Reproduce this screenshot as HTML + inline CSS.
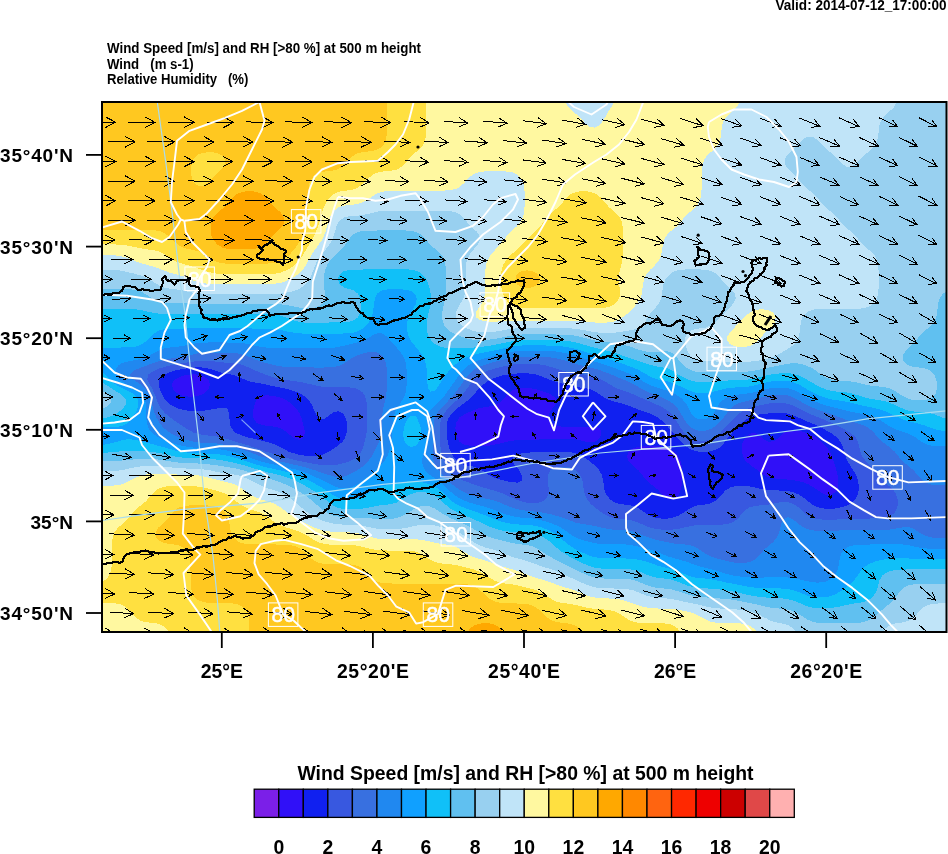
<!DOCTYPE html><html><head><meta charset="utf-8"><style>html,body{margin:0;padding:0;background:#fff;width:948px;height:854px;overflow:hidden}svg{display:block}text{font-family:"Liberation Sans",Arial,Helvetica,sans-serif;fill:#000}</style></head><body>
<svg width="948" height="854" viewBox="0 0 948 854">
<defs><clipPath id="mc"><rect x="102" y="102" width="844" height="530"/></clipPath></defs>
<g clip-path="url(#mc)" shape-rendering="crispEdges">
<path fill="#3010F8" fill-rule="evenodd" d="M187.9 374.8L188.7 374.6L193.5 374.4L198.4 374.6L199.2 374.8L203.2 376.2L208 379.4L208.3 379.5L210 384.3L208.6 389.1L208 389.9L203.7 393.9L203.2 394.2L198.4 395.9L193.5 396.6L188.7 396.6L183.9 396L179 394.4L178 393.9L174.2 390.6L173.1 389.1L172 384.3L174.2 380.1L174.6 379.5L179 377.3L183.9 375.6ZM515.9 389.1L517.4 388.7L522.3 388.1L527.1 388.1L531.9 388.5L534.9 389.1L536.8 389.5L541.6 391L546.4 392.6L550.1 393.9L551.3 394.7L556.1 398.5L556.3 398.7L556.2 403.5L556.1 403.6L552.6 408.2L551.3 410.1L549.4 413L548.9 417.8L551.3 422.3L551.5 422.6L556.1 425.3L560.9 426.5L565.8 426.9L570.6 427L575.5 427L580.3 427L585.1 426.9L590 426.9L594.8 427L598.2 427.4L599.6 427.9L601.5 432.2L600.2 436.9L599.6 437.8L595.2 441.7L594.8 441.9L590 442.3L585.6 441.7L585.1 441.6L580.3 440.2L575.5 439.3L570.6 438.8L565.8 438.6L560.9 438.5L556.1 438.6L551.3 438.8L546.4 439.1L541.6 439.4L536.8 439.6L531.9 439.8L527.1 439.8L522.3 439.9L517.4 440.2L512.6 440.7L507.8 441.6L507.3 441.7L502.9 442.7L498.1 443.9L493.3 445L488.4 445.7L483.6 445.9L478.8 445.9L473.9 445.8L469.1 445.6L464.3 444.8L459.4 441.8L459.3 441.7L456.9 436.9L455.7 432.2L455.4 427.4L456.4 422.6L459.1 417.8L459.4 417.5L464.3 414.4L467 413L469.1 412.1L473.9 410.2L478.8 408.4L479.6 408.2L483.6 407.4L488.4 406.7L493.3 405.7L498.1 403.7L498.5 403.5L502.9 399.6L503.7 398.7L507.8 393.9L507.8 393.9L512.6 390.4ZM257.7 398.7L261.2 396.2L266 395.3L270.9 395.6L275.7 396.4L280.6 397.7L283.3 398.7L285.4 399.8L290.2 402.8L291.2 403.5L295.1 407.1L296.1 408.2L299.4 413L299.9 414L301.3 417.8L302.7 422.6L304 427.4L304.7 431.5L304.8 432.2L304.7 433.4L304 436.9L299.9 439.9L295.1 438.7L292.5 436.9L290.2 435.2L286.7 432.2L285.4 431.1L280.6 428.3L277.2 427.4L275.7 426.9L270.9 426.2L266 425.7L261.2 424.7L256.4 422.6L256.4 422.6L253.2 417.8L252.7 413L253.6 408.2L255 403.5L256.4 400.5ZM784.5 432.2L788.2 430.3L793 429.8L797.8 430.4L802.7 431.6L804.6 432.2L807.5 433.3L812.3 435.5L815 436.9L817.2 438.6L821.3 441.7L822 442.4L826.2 446.5L826.8 447.2L829.6 451.3L831.7 455L832.1 456.1L833.6 460.9L835 465.6L836.4 470.4L836.5 470.9L837.6 475.2L838.3 480L838.3 484.8L837.3 489.6L836.5 490.8L832.6 494.3L831.7 494.8L826.8 495L824.7 494.3L822 493.2L817.2 489.9L816.7 489.6L812.3 486.5L809.1 484.8L807.5 484L802.7 482.1L797.8 480.9L793 480.1L791.6 480L788.2 479.6L783.3 479.3L778.5 479L773.7 478.4L768.8 477.1L764.4 475.2L764 474.9L759.2 471.4L757.7 470.4L754.3 467.8L751.1 465.6L749.5 464.3L745.6 460.9L744.7 459.4L742.9 456.1L741.8 451.3L741.8 446.5L742.9 441.7L744.7 438.3L745.8 436.9L749.5 433.9L754.3 432.8L759.2 435.3L761.1 436.9L764 439.5L768.7 441.7L768.8 441.8L769.4 441.7L773.7 441.3L778.5 437.9L779.4 436.9L783.3 433ZM640.6 446.5L643.1 446.3L648 446.2L652.8 446.1L657.6 446.2L662.4 446.5L662.5 446.5L667.3 447.7L672.1 450.3L673.4 451.3L677 454.9L678 456.1L680.6 460.9L681.7 465.6L681.8 468.3L681.9 470.4L682 475.2L681.9 480L681.8 482L681.7 484.8L680.9 489.6L678.7 494.3L677 496.5L673.1 499.1L672.1 499.6L667.6 499.1L667.3 499.1L662.5 494.9L662 494.3L657.7 489.6L657.6 489.5L652.8 485.6L651.8 484.8L648 481.6L646.3 480L643.1 476.2L642.4 475.2L638.5 470.4L638.3 470.2L633.5 466L633.1 465.6L628.6 461L628.5 460.9L627.1 456.1L628.6 451.6L628.8 451.3L633.5 448.1L638.3 446.7Z"/>
<path fill="#1020F0" fill-rule="evenodd" d="M177.4 370L179 369.6L183.9 368.8L188.7 368.1L193.5 367.6L198.4 367.3L203.2 367.6L208 368.4L212.9 369.7L213.8 370L217.7 371.5L222.5 373L227.4 374L232.2 374.7L232.5 374.8L237 376.3L241.9 378.3L244.9 379.5L246.7 380.5L251.5 381.9L256.4 382.7L261.2 383.6L264.7 384.3L266 384.6L270.9 385.7L275.7 386.7L280.6 387.6L285.4 388.7L287.2 389.1L290.2 389.9L295.1 391.5L299.9 393.4L300.8 393.9L304.7 396.4L307.5 398.7L309.6 401.4L311.1 403.5L313.3 408.2L314.4 411.2L315.5 413L318.7 417.8L319.2 418.5L324.1 419L325.9 417.8L328.9 415.6L332.3 413L333.7 412.1L338.6 411.3L342.3 413L343.4 413.8L345.6 417.8L346.8 422.6L347.1 427.4L346.7 432.2L345.4 436.9L343.4 440.6L342.5 441.7L338.6 445.1L336.7 446.5L333.7 448.4L329.7 451.3L328.9 451.7L324.1 454.1L319.2 455.7L316.6 456.1L314.4 456.2L309.6 456.2L308.5 456.1L304.7 455.7L299.9 454.9L295.1 453.7L290.2 452.1L287.9 451.3L285.4 449.8L280.6 447.3L278.8 446.5L275.7 444.8L270.9 443L266 441.7L265.9 441.7L261.2 440.5L256.4 439.4L251.5 438.2L246.7 437.2L245.8 436.9L241.9 435.5L237 433.4L234.8 432.2L232.2 429L230.9 427.4L229.8 422.6L229.4 417.8L229 413L227.4 408.7L225.8 408.2L222.5 407.9L219.7 408.2L217.7 408.4L212.9 409.2L208 410L203.2 410.7L198.4 411L193.5 411L188.7 410.8L183.9 410.1L179 408.8L177.8 408.2L174.2 406.8L169.4 404.1L168.6 403.5L164.5 399.4L164.1 398.7L161.8 393.9L159.9 389.1L159.7 388.3L158.8 384.3L159.2 379.5L159.7 378.9L164 374.8L164.5 374.5L169.4 372.4L174.2 370.8ZM188.7 374.6L187.9 374.8L183.9 375.6L179 377.3L174.6 379.5L174.2 380.1L172 384.3L173.1 389.1L174.2 390.6L178 393.9L179 394.4L183.9 396L188.7 396.6L193.5 396.6L198.4 395.9L203.2 394.2L203.7 393.9L208 389.9L208.6 389.1L210 384.3L208.3 379.5L208 379.4L203.2 376.2L199.2 374.8L198.4 374.6L193.5 374.4ZM506 374.8L507.8 374.5L512.6 373.9L517.4 373.5L522.3 373.3L527.1 373.3L531.9 373.8L536.8 374.7L536.9 374.8L541.6 376.4L546.4 378.3L549.5 379.5L551.3 380.2L556.1 381.8L560.9 383.1L565.5 384.3L565.8 384.4L570.6 385.7L575.5 386.9L580.3 387.6L585.1 388.2L590 389.1L590 389.1L594.8 391.3L598.7 393.9L599.6 394.5L604.5 397.8L606.2 398.7L609.3 400L614.1 401.5L619 402.7L622 403.5L623.8 404L628.6 405.6L633.5 407.5L635.3 408.2L638.3 409.6L643.1 411.2L648 412.7L648.9 413L652.8 414.7L657.6 417.3L658.4 417.8L662.5 421.2L664 422.6L667.3 425.9L668.4 427.4L672.1 431.5L672.6 432.2L676.6 436.9L677 437.4L680.8 441.7L681.8 442.7L686.2 446.5L686.6 446.9L691.5 449.8L696.3 451.3L696.4 451.3L701.1 452L706 451.9L710.3 451.3L710.8 451.2L715.6 449.9L720.5 447L721 446.5L725.2 441.7L725.3 441.6L728.6 436.9L730.2 435.2L732.7 432.2L735 429.8L737.3 427.4L739.8 424.9L742.3 422.6L744.7 420.5L748.5 417.8L749.5 417.3L754.3 415.5L759.2 414.5L764 413.9L768.8 413.4L773.4 413L773.7 413L778.5 412.8L783.3 413L783.7 413L788.2 413.8L793 415.3L797.8 417.3L799 417.8L802.7 419.4L807.5 421.5L810.2 422.6L812.3 423.5L817.2 425.7L820.7 427.4L822 428L826.8 430.7L829.6 432.2L831.7 433.6L836.4 436.9L836.5 437.1L840.5 441.7L841.3 443.5L842.7 446.5L844.1 451.3L845.5 456.1L846.2 457.8L847.5 460.9L850.2 465.6L851 467.1L853.4 470.4L855.8 474.6L856.2 475.2L858 480L858.7 484.8L858.7 489.6L857.8 494.3L855.8 498.5L855.5 499.1L851 503.4L850.2 503.9L846.2 505.8L841.3 507.3L836.5 508.4L833.5 508.7L831.7 508.9L826.8 508.8L825.5 508.7L822 508.2L817.2 506.9L812.3 504.5L811.5 503.9L807.5 500.9L805.4 499.1L802.7 497.1L798.2 494.3L797.8 494.1L793 492.2L788.2 491.1L783.3 490.6L778.5 490.5L773.7 490.4L768.8 490.1L764.9 489.6L764 489.4L759.2 488.5L754.3 487.4L749.5 486.3L744.7 485.7L739.8 485.6L735 486.1L730.2 487.5L726.7 489.6L725.3 490.6L721.9 494.3L720.5 496.1L717.7 499.1L715.6 500.8L710.8 503.3L708.2 503.9L706 504.4L701.1 504.9L696.3 505.7L691.5 507.6L689.8 508.7L686.6 510.5L682.3 513.5L681.8 513.8L677 516.3L672.1 517.9L669.7 518.3L667.3 518.6L662.5 518.6L658.4 518.3L657.6 518.2L652.8 516.8L648 514.5L646.1 513.5L643.1 511.3L638.9 508.7L638.3 508.3L633.5 506.1L628.6 505L623.8 504.5L619.5 503.9L619 503.8L614.1 502L609.9 499.1L609.3 498.5L606.2 494.3L604.5 489.9L604.4 489.6L603.7 484.8L603.1 480L601.9 475.2L599.6 470.8L599.4 470.4L595.1 465.6L594.8 465.4L590 461.5L589.2 460.9L585.1 458L582.2 456.1L580.3 455.1L575.5 453.2L570.6 452.1L565.8 451.6L560.9 451.5L556.1 451.5L551.3 451.6L546.4 451.7L541.6 451.9L536.8 452.1L531.9 452.4L527.1 452.7L522.3 453.3L517.4 454.5L513.9 456.1L512.6 459.1L512.1 460.9L512.6 461.8L515.1 465.6L517.4 468.2L519.3 470.4L521.8 475.2L522.3 479.5L522.3 480L522.3 480.2L517.4 482.7L512.6 482.2L507.8 481.4L502.9 480.3L501.5 480L498.1 478.9L493.3 477.1L489.2 475.2L488.4 474.7L483.6 471.3L482.1 470.4L478.8 468.4L473.9 466.7L469.1 465.8L468.1 465.6L464.3 465L459.4 463L457 460.9L454.6 458.6L453 456.1L450.4 451.3L449.8 449.7L448.8 446.5L447.7 441.7L447 436.9L446.6 432.2L446.6 427.4L447.1 422.6L448.7 417.8L449.8 416.1L452.1 413L454.6 410.5L457.4 408.2L459.4 406.6L463.9 403.5L464.3 403.2L469.1 399.2L469.7 398.7L473.9 394.2L474.3 393.9L478.6 389.1L478.8 388.9L483.4 384.3L483.6 384.2L488.4 380.8L490.5 379.5L493.3 378.4L498.1 376.7L502.9 375.4ZM517.4 388.7L515.9 389.1L512.6 390.4L507.8 393.9L507.8 393.9L503.7 398.7L502.9 399.6L498.5 403.5L498.1 403.7L493.3 405.7L488.4 406.7L483.6 407.4L479.6 408.2L478.8 408.4L473.9 410.2L469.1 412.1L467 413L464.3 414.4L459.4 417.5L459.1 417.8L456.4 422.6L455.4 427.4L455.7 432.2L456.9 436.9L459.3 441.7L459.4 441.8L464.3 444.8L469.1 445.6L473.9 445.8L478.8 445.9L483.6 445.9L488.4 445.7L493.3 445L498.1 443.9L502.9 442.7L507.3 441.7L507.8 441.6L512.6 440.7L517.4 440.2L522.3 439.9L527.1 439.8L531.9 439.8L536.8 439.6L541.6 439.4L546.4 439.1L551.3 438.8L556.1 438.6L560.9 438.5L565.8 438.6L570.6 438.8L575.5 439.3L580.3 440.2L585.1 441.6L585.6 441.7L590 442.3L594.8 441.9L595.2 441.7L599.6 437.8L600.2 436.9L601.5 432.2L599.6 427.9L598.2 427.4L594.8 427L590 426.9L585.1 426.9L580.3 427L575.5 427L570.6 427L565.8 426.9L560.9 426.5L556.1 425.3L551.5 422.6L551.3 422.3L548.9 417.8L549.4 413L551.3 410.1L552.6 408.2L556.1 403.6L556.2 403.5L556.3 398.7L556.1 398.5L551.3 394.7L550.1 393.9L546.4 392.6L541.6 391L536.8 389.5L534.9 389.1L531.9 388.5L527.1 388.1L522.3 388.1ZM261.2 396.2L257.7 398.7L256.4 400.5L255 403.5L253.6 408.2L252.7 413L253.2 417.8L256.4 422.6L256.4 422.6L261.2 424.7L266 425.7L270.9 426.2L275.7 426.9L277.2 427.4L280.6 428.3L285.4 431.1L286.7 432.2L290.2 435.2L292.5 436.9L295.1 438.7L299.9 439.9L304 436.9L304.7 433.4L304.8 432.2L304.7 431.5L304 427.4L302.7 422.6L301.3 417.8L299.9 414L299.4 413L296.1 408.2L295.1 407.1L291.2 403.5L290.2 402.8L285.4 399.8L283.3 398.7L280.6 397.7L275.7 396.4L270.9 395.6L266 395.3ZM788.2 430.3L784.5 432.2L783.3 433L779.4 436.9L778.5 437.9L773.7 441.3L769.4 441.7L768.8 441.8L768.7 441.7L764 439.5L761.1 436.9L759.2 435.3L754.3 432.8L749.5 433.9L745.8 436.9L744.7 438.3L742.9 441.7L741.8 446.5L741.8 451.3L742.9 456.1L744.7 459.4L745.6 460.9L749.5 464.3L751.1 465.6L754.3 467.8L757.7 470.4L759.2 471.4L764 474.9L764.4 475.2L768.8 477.1L773.7 478.4L778.5 479L783.3 479.3L788.2 479.6L791.6 480L793 480.1L797.8 480.9L802.7 482.1L807.5 484L809.1 484.8L812.3 486.5L816.7 489.6L817.2 489.9L822 493.2L824.7 494.3L826.8 495L831.7 494.8L832.6 494.3L836.5 490.8L837.3 489.6L838.3 484.8L838.3 480L837.6 475.2L836.5 470.9L836.4 470.4L835 465.6L833.6 460.9L832.1 456.1L831.7 455L829.6 451.3L826.8 447.2L826.2 446.5L822 442.4L821.3 441.7L817.2 438.6L815 436.9L812.3 435.5L807.5 433.3L804.6 432.2L802.7 431.6L797.8 430.4L793 429.8ZM643.1 446.3L640.6 446.5L638.3 446.7L633.5 448.1L628.8 451.3L628.6 451.6L627.1 456.1L628.5 460.9L628.6 461L633.1 465.6L633.5 466L638.3 470.2L638.5 470.4L642.4 475.2L643.1 476.2L646.3 480L648 481.6L651.8 484.8L652.8 485.6L657.6 489.5L657.7 489.6L662 494.3L662.5 494.9L667.3 499.1L667.6 499.1L672.1 499.6L673.1 499.1L677 496.5L678.7 494.3L680.9 489.6L681.7 484.8L681.8 482L681.9 480L682 475.2L681.9 470.4L681.8 468.3L681.7 465.6L680.6 460.9L678 456.1L677 454.9L673.4 451.3L672.1 450.3L667.3 447.7L662.5 446.5L662.4 446.5L657.6 446.2L652.8 446.1L648 446.2Z"/>
<path fill="#3858E0" fill-rule="evenodd" d="M172.2 365.2L174.2 364.8L179 363.9L183.9 363.1L188.7 362.3L193.5 361.5L198.4 360.9L203.2 360.7L208 360.8L212.9 361.3L217.7 361.9L222.5 362.4L227.4 362.7L232.2 363L237 363.5L241.9 364.7L243.1 365.2L246.7 366.6L251.5 368.8L254.3 370L256.4 370.9L261.2 372.9L265.9 374.8L266 374.8L270.9 376.4L275.7 377.9L280.6 379.1L283.1 379.5L285.4 379.9L290.2 380.5L295.1 381.2L299.9 381.9L304.7 382.9L309.6 384L311.1 384.3L314.4 385.2L319.2 386.3L324.1 387L328.9 387.3L333.7 387.3L338.6 387.2L343.4 387.2L348.2 387.3L353.1 387.8L357.9 389.1L357.9 389.1L362.7 392.5L363.8 393.9L366 398.7L366.8 403.5L367.1 408.2L367.2 413L367.2 417.8L367.2 422.6L367.1 427.4L366.7 432.2L365.9 436.9L364.7 441.7L363.3 446.5L362.7 448.1L361.3 451.3L358.2 456.1L357.9 456.3L353.1 459.6L350.3 460.9L348.2 461.7L343.4 463.2L338.6 464.4L333.7 465.2L328.9 465.4L324.1 465.2L319.2 464.7L314.4 463.9L309.6 463L304.7 462L299.9 461.2L298.4 460.9L295.1 460.1L290.2 458.9L285.4 457.6L280.6 456.3L279.6 456.1L275.7 454.7L270.9 453.1L266 451.7L264.7 451.3L261.2 450L256.4 448.2L251.6 446.5L251.5 446.5L246.7 444.9L241.9 443.5L237 442.2L235.3 441.7L232.2 440.7L227.4 439.1L222.5 437.7L218.4 436.9L217.7 436.7L212.9 435.9L208 435.5L203.2 434.9L198.4 433.9L193.5 432.5L192.7 432.2L188.7 429.8L184.5 427.4L183.9 427L179 423.8L177.4 422.6L174.2 420.4L170.8 417.8L169.4 416.8L164.9 413L164.5 412.7L160.9 408.2L159.7 406.5L158.3 403.5L156.4 398.7L154.9 394.8L154.5 393.9L152.5 389.1L150 384.7L149.8 384.3L147.2 379.5L148.1 374.8L150 373.4L154.9 370.4L155.7 370L159.7 368.4L164.5 366.9L169.4 365.7ZM509.3 365.2L512.6 364.6L517.4 364L522.3 363.7L527.1 363.7L531.9 363.8L536.8 364.2L541.6 364.7L544.2 365.2L546.4 365.7L551.3 367.1L556.1 368.6L560.6 370L560.9 370.1L565.8 371.4L570.6 372.4L575.5 373.3L580.3 374L585.1 374.7L585.7 374.8L590 375.6L594.8 376.9L599.6 378.7L601.5 379.5L604.5 381.3L609.3 384.1L609.7 384.3L614.1 387L618.7 389.1L619 389.2L623.8 390.9L628.6 392.4L632.5 393.9L633.5 394.3L638.3 396.5L643.1 398.7L643.1 398.7L648 400.9L652.8 402.8L654.3 403.5L657.6 405L662.5 407.3L664 408.2L667.3 410.4L670.4 413L672.1 414.8L674.3 417.8L677 421.8L677.4 422.6L680.4 427.4L681.8 429.4L684 432.2L686.6 435.1L689.1 436.9L691.5 438.6L696.3 440.3L701.1 440.9L706 440.6L710.8 439.4L715.2 436.9L715.6 436.7L720.5 432.5L720.8 432.2L725.3 427.6L725.6 427.4L730.2 422.6L730.2 422.6L734.7 417.8L735 417.5L739.8 413L739.8 413L744.7 410L748.8 408.2L749.5 408L754.3 406.6L759.2 405.5L764 404.4L768.8 403.5L768.9 403.5L773.7 402.9L778.5 402.6L783.3 402.9L786.5 403.5L788.2 403.8L793 405.6L797.8 408L798.3 408.2L802.7 410.5L807.5 412.8L808.1 413L812.3 414.9L817.2 416.8L819.8 417.8L822 418.8L826.8 420.9L830.9 422.6L831.7 423L836.5 425.3L840.7 427.4L841.3 427.7L846.2 430.4L849.4 432.2L851 433.4L855.2 436.9L855.8 438L858 441.7L859.2 446.5L860.2 451.3L860.7 452.7L862.2 456.1L865.5 460.7L865.7 460.9L870.4 465.5L870.6 465.6L875.1 470.4L875.2 470.6L878.6 475.2L880 477.2L882.3 480L884.9 482.5L887.6 484.8L889.7 486.5L893 489.6L894.5 491.6L896.1 494.3L897.5 499.1L897.8 503.9L897 508.7L894.5 512.7L893.9 513.5L889.7 516L884.9 517.6L880 518.3L880 518.3L875.2 518.4L870.4 518.5L865.5 518.6L860.7 518.8L855.8 518.9L851 519.1L846.2 519.3L841.3 519.4L836.5 519.5L831.7 519.6L826.8 519.6L822 519.5L817.2 519L813.6 518.3L812.3 517.9L807.5 515.5L805.1 513.5L802.7 511.3L800 508.7L797.8 506.8L793.4 503.9L793 503.7L788.2 502.2L783.3 501.9L778.5 502.5L773.7 503.5L771.2 503.9L768.8 504.5L764 505.1L759.2 505.5L754.3 506.1L749.5 507.5L747.4 508.7L744.7 510.8L742.1 513.5L739.8 516.2L738 518.3L735 520.8L730.6 523L730.2 523.3L725.3 524.3L720.5 524.7L715.6 524.8L710.8 524.8L706 524.8L701.1 524.9L696.3 525.2L691.5 525.9L686.6 527L683.1 527.8L681.8 528.1L677 529L672.1 529.6L667.3 529.8L662.5 529.6L657.6 529.2L652.8 528.3L651.2 527.8L648 526.8L643.1 524.7L639.4 523L638.3 522.5L633.5 520.8L628.6 519.7L623.8 519.2L619 518.9L614.5 518.3L614.1 518.2L609.3 516.7L604.5 514.3L603 513.5L599.6 511L596.4 508.7L594.8 507.3L590.7 503.9L590 503L586.8 499.1L585.1 495.3L584.7 494.3L583.7 489.6L583.2 484.8L582.3 480L580.3 475.2L580.3 475.2L575.8 470.4L575.5 470.1L570.6 467.7L565.8 466.7L560.9 466.6L556.1 467.4L551.3 469.6L550.3 470.4L547.7 475.2L547.6 480L548.3 484.8L548.8 489.6L548.4 494.3L546.4 498.2L545.8 499.1L541.6 501.8L536.8 503.1L531.9 503.3L527.1 502.7L522.3 501.6L517.4 500L515.1 499.1L512.6 498L507.8 495.7L504.8 494.3L502.9 493.5L498.1 491.7L493.3 490.2L490.5 489.6L488.4 489L483.6 487.7L478.8 486.1L474.8 484.8L473.9 484.4L469.1 482.7L464.3 481L462 480L459.4 478.9L454.6 475.7L454.1 475.2L449.8 470.7L449.6 470.4L446.4 465.6L444.9 462.8L443.9 460.9L442.2 456.1L441.1 451.3L440.5 446.5L440.2 441.7L440.1 439.1L440 436.9L439.9 432.2L439.9 427.4L440.1 425L440.3 422.6L441.6 417.8L444.4 413L444.9 412.3L448.5 408.2L449.8 406.9L453.5 403.5L454.6 402.3L458.6 398.7L459.4 397.8L463.1 393.9L464.3 392.4L466.8 389.1L469.1 385.7L470.1 384.3L473.7 379.5L473.9 379.2L478.8 375.1L479.3 374.8L483.6 372.5L488.4 370.5L490 370L493.3 369L498.1 367.7L502.9 366.6L507.8 365.5ZM179 369.6L177.4 370L174.2 370.8L169.4 372.4L164.5 374.5L164 374.8L159.7 378.9L159.2 379.5L158.8 384.3L159.7 388.3L159.9 389.1L161.8 393.9L164.1 398.7L164.5 399.4L168.6 403.5L169.4 404.1L174.2 406.8L177.8 408.2L179 408.8L183.9 410.1L188.7 410.8L193.5 411L198.4 411L203.2 410.7L208 410L212.9 409.2L217.7 408.4L219.7 408.2L222.5 407.9L225.8 408.2L227.4 408.7L229 413L229.4 417.8L229.8 422.6L230.9 427.4L232.2 429L234.8 432.2L237 433.4L241.9 435.5L245.8 436.9L246.7 437.2L251.5 438.2L256.4 439.4L261.2 440.5L265.9 441.7L266 441.7L270.9 443L275.7 444.8L278.8 446.5L280.6 447.3L285.4 449.8L287.9 451.3L290.2 452.1L295.1 453.7L299.9 454.9L304.7 455.7L308.5 456.1L309.6 456.2L314.4 456.2L316.6 456.1L319.2 455.7L324.1 454.1L328.9 451.7L329.7 451.3L333.7 448.4L336.7 446.5L338.6 445.1L342.5 441.7L343.4 440.6L345.4 436.9L346.7 432.2L347.1 427.4L346.8 422.6L345.6 417.8L343.4 413.8L342.3 413L338.6 411.3L333.7 412.1L332.3 413L328.9 415.6L325.9 417.8L324.1 419L319.2 418.5L318.7 417.8L315.5 413L314.4 411.2L313.3 408.2L311.1 403.5L309.6 401.4L307.5 398.7L304.7 396.4L300.8 393.9L299.9 393.4L295.1 391.5L290.2 389.9L287.2 389.1L285.4 388.7L280.6 387.6L275.7 386.7L270.9 385.7L266 384.6L264.7 384.3L261.2 383.6L256.4 382.7L251.5 381.9L246.7 380.5L244.9 379.5L241.9 378.3L237 376.3L232.5 374.8L232.2 374.7L227.4 374L222.5 373L217.7 371.5L213.8 370L212.9 369.7L208 368.4L203.2 367.6L198.4 367.3L193.5 367.6L188.7 368.1L183.9 368.8ZM507.8 374.5L506 374.8L502.9 375.4L498.1 376.7L493.3 378.4L490.5 379.5L488.4 380.8L483.6 384.2L483.4 384.3L478.8 388.9L478.6 389.1L474.3 393.9L473.9 394.2L469.7 398.7L469.1 399.2L464.3 403.2L463.9 403.5L459.4 406.6L457.4 408.2L454.6 410.5L452.1 413L449.8 416.1L448.7 417.8L447.1 422.6L446.6 427.4L446.6 432.2L447 436.9L447.7 441.7L448.8 446.5L449.8 449.7L450.4 451.3L453 456.1L454.6 458.6L457 460.9L459.4 463L464.3 465L468.1 465.6L469.1 465.8L473.9 466.7L478.8 468.4L482.1 470.4L483.6 471.3L488.4 474.7L489.2 475.2L493.3 477.1L498.1 478.9L501.5 480L502.9 480.3L507.8 481.4L512.6 482.2L517.4 482.7L522.3 480.2L522.3 480L522.3 479.5L521.8 475.2L519.3 470.4L517.4 468.2L515.1 465.6L512.6 461.8L512.1 460.9L512.6 459.1L513.9 456.1L517.4 454.5L522.3 453.3L527.1 452.7L531.9 452.4L536.8 452.1L541.6 451.9L546.4 451.7L551.3 451.6L556.1 451.5L560.9 451.5L565.8 451.6L570.6 452.1L575.5 453.2L580.3 455.1L582.2 456.1L585.1 458L589.2 460.9L590 461.5L594.8 465.4L595.1 465.6L599.4 470.4L599.6 470.8L601.9 475.2L603.1 480L603.7 484.8L604.4 489.6L604.5 489.9L606.2 494.3L609.3 498.5L609.9 499.1L614.1 502L619 503.8L619.5 503.9L623.8 504.5L628.6 505L633.5 506.1L638.3 508.3L638.9 508.7L643.1 511.3L646.1 513.5L648 514.5L652.8 516.8L657.6 518.2L658.4 518.3L662.5 518.6L667.3 518.6L669.7 518.3L672.1 517.9L677 516.3L681.8 513.8L682.3 513.5L686.6 510.5L689.8 508.7L691.5 507.6L696.3 505.7L701.1 504.9L706 504.4L708.2 503.9L710.8 503.3L715.6 500.8L717.7 499.1L720.5 496.1L721.9 494.3L725.3 490.6L726.7 489.6L730.2 487.5L735 486.1L739.8 485.6L744.7 485.7L749.5 486.3L754.3 487.4L759.2 488.5L764 489.4L764.9 489.6L768.8 490.1L773.7 490.4L778.5 490.5L783.3 490.6L788.2 491.1L793 492.2L797.8 494.1L798.2 494.3L802.7 497.1L805.4 499.1L807.5 500.9L811.5 503.9L812.3 504.5L817.2 506.9L822 508.2L825.5 508.7L826.8 508.8L831.7 508.9L833.5 508.7L836.5 508.4L841.3 507.3L846.2 505.8L850.2 503.9L851 503.4L855.5 499.1L855.8 498.5L857.8 494.3L858.7 489.6L858.7 484.8L858 480L856.2 475.2L855.8 474.6L853.4 470.4L851 467.1L850.2 465.6L847.5 460.9L846.2 457.8L845.5 456.1L844.1 451.3L842.7 446.5L841.3 443.5L840.5 441.7L836.5 437.1L836.4 436.9L831.7 433.6L829.6 432.2L826.8 430.7L822 428L820.7 427.4L817.2 425.7L812.3 423.5L810.2 422.6L807.5 421.5L802.7 419.4L799 417.8L797.8 417.3L793 415.3L788.2 413.8L783.7 413L783.3 413L778.5 412.8L773.7 413L773.4 413L768.8 413.4L764 413.9L759.2 414.5L754.3 415.5L749.5 417.3L748.5 417.8L744.7 420.5L742.3 422.6L739.8 424.9L737.3 427.4L735 429.8L732.7 432.2L730.2 435.2L728.6 436.9L725.3 441.6L725.2 441.7L721 446.5L720.5 447L715.6 449.9L710.8 451.2L710.3 451.3L706 451.9L701.1 452L696.4 451.3L696.3 451.3L691.5 449.8L686.6 446.9L686.2 446.5L681.8 442.7L680.8 441.7L677 437.4L676.6 436.9L672.6 432.2L672.1 431.5L668.4 427.4L667.3 425.9L664 422.6L662.5 421.2L658.4 417.8L657.6 417.3L652.8 414.7L648.9 413L648 412.7L643.1 411.2L638.3 409.6L635.3 408.2L633.5 407.5L628.6 405.6L623.8 404L622 403.5L619 402.7L614.1 401.5L609.3 400L606.2 398.7L604.5 397.8L599.6 394.5L598.7 393.9L594.8 391.3L590 389.1L590 389.1L585.1 388.2L580.3 387.6L575.5 386.9L570.6 385.7L565.8 384.4L565.5 384.3L560.9 383.1L556.1 381.8L551.3 380.2L549.5 379.5L546.4 378.3L541.6 376.4L536.9 374.8L536.8 374.7L531.9 373.8L527.1 373.3L522.3 373.3L517.4 373.5L512.6 373.9Z"/>
<path fill="#3870E0" fill-rule="evenodd" d="M188.5 355.6L188.7 355.6L193.5 354.3L198.4 353.3L203.2 352.7L208 352.5L212.9 352.6L217.7 352.7L222.5 352.8L227.4 352.8L232.2 353L237 353.4L241.9 354.4L245.9 355.6L246.7 355.9L251.5 357.8L256.4 359.9L257.7 360.4L261.2 361.6L266 363L270.9 364.3L274.6 365.2L275.7 365.5L280.6 366.3L285.4 366.9L290.2 367.1L295.1 367.3L299.9 367.3L304.7 367.4L309.6 367.4L314.4 367.5L319.2 367.5L324.1 367.5L328.9 367.4L333.7 367L338.6 365.9L340.3 365.2L343.4 363.8L348.2 360.4L348.2 360.4L353.1 357.4L356.4 355.6L357.9 355L362.7 353.6L367.6 352.3L372.4 351.5L377.2 352.3L382.1 355.6L382.1 355.6L385 360.4L386.3 365.2L386.8 370L386.9 374.8L386.9 379.5L386.9 379.5L386.9 379.6L386.9 384.3L386.8 389.1L386.3 393.9L385.5 398.7L384.4 403.5L383.3 408.2L382.5 413L382.1 417.5L382 417.8L381.8 422.6L381.6 427.4L381.2 432.2L380.4 436.9L379 441.7L377.2 445.8L376.9 446.5L374.5 451.3L372.4 454.9L371.8 456.1L368.4 460.9L367.6 461.8L363.7 465.6L362.7 466.5L357.9 469.9L357 470.4L353.1 472.7L348.2 475.1L347.8 475.2L343.4 476.8L338.6 477.2L333.7 476.5L329.6 475.2L328.9 475L324.1 473.4L319.2 471.8L315.3 470.4L314.4 470.1L309.6 468.6L304.7 467.2L299.9 466L298.5 465.6L295.1 464.9L290.2 463.8L285.4 462.7L280.6 461.6L277.3 460.9L275.7 460.4L270.9 459.2L266 457.9L261.2 456.5L259.8 456.1L256.4 454.8L251.5 452.8L247.5 451.3L246.7 451L241.9 449.3L237 447.9L232.2 446.6L231.9 446.5L227.4 445.3L222.5 444.3L217.7 443.6L212.9 443.2L208 443L203.2 442.8L198.4 442.4L193.8 441.7L193.5 441.7L188.7 440.5L183.9 439.1L179 437.4L177.9 436.9L174.2 435L169.4 432.4L169 432.2L164.5 428.6L163.2 427.4L159.7 423.1L159.3 422.6L156.6 417.8L154.9 414L154.5 413L153.1 408.2L151.9 403.5L150.6 398.7L150 397.1L148.7 393.9L145.6 389.1L145.2 388.6L140.4 384.4L140.3 384.3L135.5 380.9L132.9 379.5L130.7 376.3L129.6 374.8L130.7 373.3L134.5 370L135.5 369.6L140.4 367.9L145.2 366.2L147.7 365.2L150 364.3L154.9 362.5L159.7 361L162 360.4L164.5 359.7L169.4 358.8L174.2 358.1L179 357.4L183.9 356.6ZM500 360.4L502.9 359.7L507.8 358.5L512.6 357.6L517.4 356.9L522.3 356.6L527.1 356.5L531.9 356.5L536.8 356.6L541.6 356.7L546.4 357L551.3 357.5L556.1 358.3L560.9 359.4L564.9 360.4L565.8 360.7L570.6 362.3L575.5 363.7L580.3 365L581.1 365.2L585.1 366.2L590 367.4L594.8 368.6L599.3 370L599.6 370.1L604.5 371.9L609.3 373.7L612 374.8L614.1 375.7L619 377.8L623.4 379.5L623.8 379.7L628.6 381.9L633.5 384.2L633.6 384.3L638.3 386.9L642.2 389.1L643.1 389.6L648 392L652.5 393.9L652.8 394L657.6 395.9L662.5 397.7L664.6 398.7L667.3 400L672.1 402.9L672.9 403.5L677 407.4L677.6 408.2L680.7 413L681.8 415.1L683.3 417.8L686.3 422.6L686.6 423.1L690.9 427.4L691.5 427.9L696.3 430.2L701.1 430.9L706 430.5L710.8 429L713.4 427.4L715.6 425.9L719.3 422.6L720.5 421.3L723.5 417.8L725.3 415.3L727.1 413L730.2 409L730.9 408.2L735 405L738.1 403.5L739.8 402.8L744.7 401.5L749.5 400.3L754.3 399.2L756.3 398.7L759.2 398L764 396.7L768.8 395.5L773.7 394.8L778.5 394.5L783.3 394.7L788.2 395.6L793 397.3L795.7 398.7L797.8 399.8L802.7 402.7L804.1 403.5L807.5 405.3L812.3 407.5L814.3 408.2L817.2 409.4L822 411.1L826.8 412.8L827.6 413L831.7 414.5L836.5 416.2L840.9 417.8L841.3 418L846.2 419.8L851 421.4L855.4 422.6L855.8 422.7L860.7 424.3L865.5 426.3L867.5 427.4L870.4 429.5L873.4 432.2L875.2 434.2L877.8 436.9L880 439.6L882.4 441.7L884.9 443.8L888.7 446.5L889.7 447.3L894.4 451.3L894.5 451.4L898.3 456.1L899.4 457.4L902.3 460.9L904.2 462.6L908 465.6L909 466.5L913.7 470.4L913.9 470.6L917.7 475.2L918.7 476.4L922 480L923.5 481.3L928.4 483.8L932.5 484.8L933.2 484.9L938 485.3L942.9 485.4L947.7 485.4L952.5 485.4L957.4 485.4L962.2 485.4L967 485.4L967 489.6L967 494.3L967 499.1L967 503.9L967 508.7L967 513.5L967 518.3L967 523L967 527.8L967 532.6L967 537.4L967 538L962.2 538L957.4 538L952.5 538L947.7 538L942.9 538L938 537.9L933.2 537.6L931.6 537.4L928.4 536.7L923.5 534.8L919.6 532.6L918.7 532L913.9 528.9L910.9 527.8L909 527.2L904.2 527.2L900.1 527.8L899.4 527.9L894.5 528.8L889.7 529.5L884.9 529.9L880 530L875.2 530.1L870.4 530.1L865.5 530.1L860.7 530.1L855.8 530.1L851 530.2L846.2 530.3L841.3 530.4L836.5 530.6L831.7 530.8L826.8 530.9L822 530.9L817.2 530.8L812.3 530.3L807.5 529.2L804.3 527.8L802.7 527.1L797.8 523.5L797.2 523L793 519.2L791 518.3L788.2 517.2L784.9 518.3L783.3 519.4L781.4 523L780.3 527.8L779.2 532.6L778.5 534.2L777 537.4L773.7 541.4L772.9 542.2L768.8 545.5L767.1 547L764 549.9L762.4 551.8L759.2 555.7L758.4 556.5L754.3 560L751.6 561.3L749.5 562.1L744.7 562.8L739.8 562.9L735 562.6L730.2 561.9L727.8 561.3L725.3 560.7L720.5 559.3L715.6 558L711 556.5L710.8 556.4L706 553.8L702.6 551.8L701.1 550.6L696.3 547.5L695.1 547L691.5 545.5L686.6 544.6L681.8 544.2L677 543.9L672.1 543.2L667.3 542.2L667.1 542.2L662.5 541.2L657.6 540.1L652.8 538.9L648.2 537.4L648 537.3L643.1 535.5L638.3 533.4L636.1 532.6L633.5 531.7L628.6 530.7L623.8 530.2L619 530L614.1 529.7L609.3 529.2L604.5 528.3L602.2 527.8L599.6 527.2L594.8 526L590 525.1L585.1 524.4L580.3 523.7L577.5 523L575.5 522.5L570.6 520.6L565.8 518.9L563.9 518.3L560.9 517.2L556.1 515.7L551.3 514.4L547 513.5L546.4 513.3L541.6 512.4L536.8 511.8L531.9 511.3L527.1 510.8L522.3 510.2L517.4 509.3L515.1 508.7L512.6 507.9L507.8 506L502.9 503.9L502.9 503.9L498.1 501.9L493.3 500.3L488.4 499.2L488.3 499.1L483.6 498.2L478.8 497.2L473.9 496L469.1 494.4L468.9 494.3L464.3 492.3L459.4 489.8L459.1 489.6L454.6 486.3L452.8 484.8L449.8 482.1L447.5 480L444.9 477.4L442.7 475.2L440.1 472L438.7 470.4L435.7 465.6L435.3 464.6L433.7 460.9L432.8 456.1L432.8 451.3L433.2 446.5L433.6 441.7L433.8 436.9L433.8 432.2L433.7 427.4L433.9 422.6L434.8 417.8L435.3 416.7L437.1 413L440.1 409.4L441 408.2L444.9 404.3L445.7 403.5L449.8 399.1L450.1 398.7L454.3 393.9L454.6 393.4L458 389.1L459.4 387.2L461.5 384.3L464.3 380.3L464.8 379.5L468.5 374.8L469.1 374.1L473.7 370L473.9 369.8L478.8 367.2L483.5 365.2L483.6 365.2L488.4 363.6L493.3 362.2L498.1 360.9ZM174.2 364.8L172.2 365.2L169.4 365.7L164.5 366.9L159.7 368.4L155.7 370L154.9 370.4L150 373.4L148.1 374.8L147.2 379.5L149.8 384.3L150 384.7L152.5 389.1L154.5 393.9L154.9 394.8L156.4 398.7L158.3 403.5L159.7 406.5L160.9 408.2L164.5 412.7L164.9 413L169.4 416.8L170.8 417.8L174.2 420.4L177.4 422.6L179 423.8L183.9 427L184.5 427.4L188.7 429.8L192.7 432.2L193.5 432.5L198.4 433.9L203.2 434.9L208 435.5L212.9 435.9L217.7 436.7L218.4 436.9L222.5 437.7L227.4 439.1L232.2 440.7L235.3 441.7L237 442.2L241.9 443.5L246.7 444.9L251.5 446.5L251.6 446.5L256.4 448.2L261.2 450L264.7 451.3L266 451.7L270.9 453.1L275.7 454.7L279.6 456.1L280.6 456.3L285.4 457.6L290.2 458.9L295.1 460.1L298.4 460.9L299.9 461.2L304.7 462L309.6 463L314.4 463.9L319.2 464.7L324.1 465.2L328.9 465.4L333.7 465.2L338.6 464.4L343.4 463.2L348.2 461.7L350.3 460.9L353.1 459.6L357.9 456.3L358.2 456.1L361.3 451.3L362.7 448.1L363.3 446.5L364.7 441.7L365.9 436.9L366.7 432.2L367.1 427.4L367.2 422.6L367.2 417.8L367.2 413L367.1 408.2L366.8 403.5L366 398.7L363.8 393.9L362.7 392.5L357.9 389.1L357.9 389.1L353.1 387.8L348.2 387.3L343.4 387.2L338.6 387.2L333.7 387.3L328.9 387.3L324.1 387L319.2 386.3L314.4 385.2L311.1 384.3L309.6 384L304.7 382.9L299.9 381.9L295.1 381.2L290.2 380.5L285.4 379.9L283.1 379.5L280.6 379.1L275.7 377.9L270.9 376.4L266 374.8L265.9 374.8L261.2 372.9L256.4 370.9L254.3 370L251.5 368.8L246.7 366.6L243.1 365.2L241.9 364.7L237 363.5L232.2 363L227.4 362.7L222.5 362.4L217.7 361.9L212.9 361.3L208 360.8L203.2 360.7L198.4 360.9L193.5 361.5L188.7 362.3L183.9 363.1L179 363.9ZM512.6 364.6L509.3 365.2L507.8 365.5L502.9 366.6L498.1 367.7L493.3 369L490 370L488.4 370.5L483.6 372.5L479.3 374.8L478.8 375.1L473.9 379.2L473.7 379.5L470.1 384.3L469.1 385.7L466.8 389.1L464.3 392.4L463.1 393.9L459.4 397.8L458.6 398.7L454.6 402.3L453.5 403.5L449.8 406.9L448.5 408.2L444.9 412.3L444.4 413L441.6 417.8L440.3 422.6L440.1 425L439.9 427.4L439.9 432.2L440 436.9L440.1 439.1L440.2 441.7L440.5 446.5L441.1 451.3L442.2 456.1L443.9 460.9L444.9 462.8L446.4 465.6L449.6 470.4L449.8 470.7L454.1 475.2L454.6 475.7L459.4 478.9L462 480L464.3 481L469.1 482.7L473.9 484.4L474.8 484.8L478.8 486.1L483.6 487.7L488.4 489L490.5 489.6L493.3 490.2L498.1 491.7L502.9 493.5L504.8 494.3L507.8 495.7L512.6 498L515.1 499.1L517.4 500L522.3 501.6L527.1 502.7L531.9 503.3L536.8 503.1L541.6 501.8L545.8 499.1L546.4 498.2L548.4 494.3L548.8 489.6L548.3 484.8L547.6 480L547.7 475.2L550.3 470.4L551.3 469.6L556.1 467.4L560.9 466.6L565.8 466.7L570.6 467.7L575.5 470.1L575.8 470.4L580.3 475.2L580.3 475.2L582.3 480L583.2 484.8L583.7 489.6L584.7 494.3L585.1 495.3L586.8 499.1L590 503L590.7 503.9L594.8 507.3L596.4 508.7L599.6 511L603 513.5L604.5 514.3L609.3 516.7L614.1 518.2L614.5 518.3L619 518.9L623.8 519.2L628.6 519.7L633.5 520.8L638.3 522.5L639.4 523L643.1 524.7L648 526.8L651.2 527.8L652.8 528.3L657.6 529.2L662.5 529.6L667.3 529.8L672.1 529.6L677 529L681.8 528.1L683.1 527.8L686.6 527L691.5 525.9L696.3 525.2L701.1 524.9L706 524.8L710.8 524.8L715.6 524.8L720.5 524.7L725.3 524.3L730.2 523.3L730.6 523L735 520.8L738 518.3L739.8 516.2L742.1 513.5L744.7 510.8L747.4 508.7L749.5 507.5L754.3 506.1L759.2 505.5L764 505.1L768.8 504.5L771.2 503.9L773.7 503.5L778.5 502.5L783.3 501.9L788.2 502.2L793 503.7L793.4 503.9L797.8 506.8L800 508.7L802.7 511.3L805.1 513.5L807.5 515.5L812.3 517.9L813.6 518.3L817.2 519L822 519.5L826.8 519.6L831.7 519.6L836.5 519.5L841.3 519.4L846.2 519.3L851 519.1L855.8 518.9L860.7 518.8L865.5 518.6L870.4 518.5L875.2 518.4L880 518.3L880 518.3L884.9 517.6L889.7 516L893.9 513.5L894.5 512.7L897 508.7L897.8 503.9L897.5 499.1L896.1 494.3L894.5 491.6L893 489.6L889.7 486.5L887.6 484.8L884.9 482.5L882.3 480L880 477.2L878.6 475.2L875.2 470.6L875.1 470.4L870.6 465.6L870.4 465.5L865.7 460.9L865.5 460.7L862.2 456.1L860.7 452.7L860.2 451.3L859.2 446.5L858 441.7L855.8 438L855.2 436.9L851 433.4L849.4 432.2L846.2 430.4L841.3 427.7L840.7 427.4L836.5 425.3L831.7 423L830.9 422.6L826.8 420.9L822 418.8L819.8 417.8L817.2 416.8L812.3 414.9L808.1 413L807.5 412.8L802.7 410.5L798.3 408.2L797.8 408L793 405.6L788.2 403.8L786.5 403.5L783.3 402.9L778.5 402.6L773.7 402.9L768.9 403.5L768.8 403.5L764 404.4L759.2 405.5L754.3 406.6L749.5 408L748.8 408.2L744.7 410L739.8 413L739.8 413L735 417.5L734.7 417.8L730.2 422.6L730.2 422.6L725.6 427.4L725.3 427.6L720.8 432.2L720.5 432.5L715.6 436.7L715.2 436.9L710.8 439.4L706 440.6L701.1 440.9L696.3 440.3L691.5 438.6L689.1 436.9L686.6 435.1L684 432.2L681.8 429.4L680.4 427.4L677.4 422.6L677 421.8L674.3 417.8L672.1 414.8L670.4 413L667.3 410.4L664 408.2L662.5 407.3L657.6 405L654.3 403.5L652.8 402.8L648 400.9L643.1 398.7L643.1 398.7L638.3 396.5L633.5 394.3L632.5 393.9L628.6 392.4L623.8 390.9L619 389.2L618.7 389.1L614.1 387L609.7 384.3L609.3 384.1L604.5 381.3L601.5 379.5L599.6 378.7L594.8 376.9L590 375.6L585.7 374.8L585.1 374.7L580.3 374L575.5 373.3L570.6 372.4L565.8 371.4L560.9 370.1L560.6 370L556.1 368.6L551.3 367.1L546.4 365.7L544.2 365.2L541.6 364.7L536.8 364.2L531.9 363.8L527.1 363.7L522.3 363.7L517.4 364Z"/>
<path fill="#2088F0" fill-rule="evenodd" d="M370.7 336.5L372.4 335.4L377.2 333.3L382.1 333.3L386.7 336.5L386.9 336.6L391.1 341.3L391.7 342L395.2 346L396.6 347.6L399.3 350.8L401.4 353.7L402.8 355.6L405.1 360.4L406.2 365.2L406.2 365.2L406.6 370L406.7 374.8L406.7 379.5L406.7 384.3L406.3 389.1L406.2 389.5L405.4 393.9L403.3 398.7L401.4 401.5L400.2 403.5L397.1 408.2L396.6 409.2L394.8 413L393.3 417.8L392.6 422.6L392.2 427.4L392 432.2L391.7 436.1L391.7 436.9L391.2 441.7L390.4 446.5L389.2 451.3L387.3 456.1L386.9 456.8L384.5 460.9L382.1 463.6L380.3 465.6L377.2 468.3L375 470.4L372.4 472.5L369.2 475.2L367.6 476.6L363.4 480L362.7 480.5L357.9 484.1L356.6 484.8L353.1 486.6L348.2 488L343.4 488.5L338.6 487.8L333.7 486L331.4 484.8L328.9 483.6L324.1 481.1L321.8 480L319.2 478.8L314.4 476.5L311.8 475.2L309.6 474.3L304.7 472.3L299.9 470.7L299.1 470.4L295.1 469.4L290.2 468.2L285.4 467.1L280.6 466.1L278.7 465.6L275.7 465L270.9 463.9L266 462.8L261.2 461.5L259 460.9L256.4 460L251.5 458.2L246.7 456.4L245.8 456.1L241.9 454.6L237 453.1L232.2 451.8L230.2 451.3L227.4 450.6L222.5 449.7L217.7 449L212.9 448.6L208 448.5L203.2 448.3L198.4 448L193.5 447.6L188.7 447L185.6 446.5L183.9 446.2L179 445L174.2 443.5L169.4 441.9L169 441.7L164.5 439.9L159.7 437.9L157.6 436.9L154.9 435.1L151.1 432.2L150 430.6L148.1 427.4L146.8 422.6L146.3 417.8L146.2 413L146.2 408.2L145.9 403.5L145.2 399.9L144.9 398.7L142.3 393.9L140.4 391.7L136.8 389.1L135.5 388.3L130.7 386L126.7 384.3L125.8 383.9L121 380.9L119.2 379.5L116.2 375.2L115.9 374.8L115.5 370L116.2 368.4L118.5 365.2L121 363.6L125.8 361.9L130.7 360.9L133.9 360.4L135.5 360.1L140.4 359L145.2 357.4L149.4 355.6L150 355.3L154.9 352.6L158.7 350.8L159.7 350.2L164.5 348.4L169.4 347.6L174.2 347.1L179 346.6L182.1 346L183.9 345.7L188.7 344.6L193.5 343.7L198.4 343L203.2 342.7L208 342.5L212.9 342.4L217.7 342.4L222.5 342.4L227.4 342.5L232.2 342.5L237 342.7L241.9 343.1L246.7 343.8L251.5 344.9L256.4 346L256.7 346L261.2 346.9L266 347.5L270.9 347.8L275.7 347.9L280.6 348L285.4 348L290.2 348.1L295.1 348.1L299.9 348.2L304.7 348.2L309.6 348.2L314.4 348.2L319.2 348.2L324.1 348.2L328.9 348.1L333.7 347.7L338.6 347L342.4 346L343.4 345.9L348.2 344.8L353.1 343.6L357.9 342.3L360.8 341.3L362.7 340.5L367.6 338.2ZM521.3 350.8L522.3 350.8L527.1 350.7L531.9 350.7L536.8 350.7L541.6 350.7L546.4 350.8L547.2 350.8L551.3 351L556.1 351.5L560.9 352.2L565.8 353.2L570.6 354.4L575.1 355.6L575.5 355.7L580.3 357.3L585.1 358.7L590 360.2L590.8 360.4L594.8 361.6L599.6 363.1L604.5 364.6L606 365.2L609.3 366.3L614.1 368L619 369.7L619.7 370L623.8 371.5L628.6 373.4L631.7 374.8L633.5 375.6L638.3 378.3L640.3 379.5L643.1 381.3L648 384.1L648.4 384.3L652.8 386.2L657.6 387.8L662.1 389.1L662.5 389.2L667.3 390.7L672.1 392.6L674.7 393.9L677 395.2L681.8 398.6L681.9 398.7L686.1 403.5L686.6 404.4L688.9 408.2L691.1 413L691.5 413.6L695.6 417.8L696.3 418.3L701.1 419.4L706 419L708.8 417.8L710.8 416.5L713.9 413L715.6 410.1L716.6 408.2L719.3 403.5L720.5 402.2L724.5 398.7L725.3 398.2L730.2 396.3L735 395.1L739.8 394.4L744.6 393.9L744.7 393.9L749.5 393.2L754.3 392.3L759.2 391L764 389.6L766.2 389.1L768.8 388.5L773.7 387.8L778.5 387.5L783.3 387.6L788.2 388.2L791.1 389.1L793 389.7L797.8 392L801.1 393.9L802.7 394.9L807.5 397.8L809.1 398.7L812.3 400.3L817.2 402.3L820.2 403.5L822 404.1L826.8 405.6L831.7 406.9L836.5 408.1L837 408.2L841.3 409.3L846.2 410.6L851 411.7L855.8 412.7L857.6 413L860.7 413.6L865.5 414.6L870.4 415.8L875.2 417.5L875.9 417.8L880 420.2L884 422.6L884.9 423.2L889.7 426.4L891.6 427.4L894.5 428.8L899.4 430.6L904.2 432L904.7 432.2L909 433.9L913.9 436.4L914.9 436.9L918.7 439.9L921.6 441.7L923.5 443L928.4 445.1L933.2 446L938 446.3L942.9 446.4L947.7 446.5L952.5 446.5L957.4 446.5L962.2 446.5L967 446.5L967 446.5L967 451.3L967 456.1L967 460.9L967 465.6L967 470.4L967 475.2L967 480L967 484.8L967 485.4L962.2 485.4L957.4 485.4L952.5 485.4L947.7 485.4L942.9 485.4L938 485.3L933.2 484.9L932.5 484.8L928.4 483.8L923.5 481.3L922 480L918.7 476.4L917.7 475.2L913.9 470.6L913.7 470.4L909 466.5L908 465.6L904.2 462.6L902.3 460.9L899.4 457.4L898.3 456.1L894.5 451.4L894.4 451.3L889.7 447.3L888.7 446.5L884.9 443.8L882.4 441.7L880 439.6L877.8 436.9L875.2 434.2L873.4 432.2L870.4 429.5L867.5 427.4L865.5 426.3L860.7 424.3L855.8 422.7L855.4 422.6L851 421.4L846.2 419.8L841.3 418L840.9 417.8L836.5 416.2L831.7 414.5L827.6 413L826.8 412.8L822 411.1L817.2 409.4L814.3 408.2L812.3 407.5L807.5 405.3L804.1 403.5L802.7 402.7L797.8 399.8L795.7 398.7L793 397.3L788.2 395.6L783.3 394.7L778.5 394.5L773.7 394.8L768.8 395.5L764 396.7L759.2 398L756.3 398.7L754.3 399.2L749.5 400.3L744.7 401.5L739.8 402.8L738.1 403.5L735 405L730.9 408.2L730.2 409L727.1 413L725.3 415.3L723.5 417.8L720.5 421.3L719.3 422.6L715.6 425.9L713.4 427.4L710.8 429L706 430.5L701.1 430.9L696.3 430.2L691.5 427.9L690.9 427.4L686.6 423.1L686.3 422.6L683.3 417.8L681.8 415.1L680.7 413L677.6 408.2L677 407.4L672.9 403.5L672.1 402.9L667.3 400L664.6 398.7L662.5 397.7L657.6 395.9L652.8 394L652.5 393.9L648 392L643.1 389.6L642.2 389.1L638.3 386.9L633.6 384.3L633.5 384.2L628.6 381.9L623.8 379.7L623.4 379.5L619 377.8L614.1 375.7L612 374.8L609.3 373.7L604.5 371.9L599.6 370.1L599.3 370L594.8 368.6L590 367.4L585.1 366.2L581.1 365.2L580.3 365L575.5 363.7L570.6 362.3L565.8 360.7L564.9 360.4L560.9 359.4L556.1 358.3L551.3 357.5L546.4 357L541.6 356.7L536.8 356.6L531.9 356.5L527.1 356.5L522.3 356.6L517.4 356.9L512.6 357.6L507.8 358.5L502.9 359.7L500 360.4L498.1 360.9L493.3 362.2L488.4 363.6L483.6 365.2L483.5 365.2L478.8 367.2L473.9 369.8L473.7 370L469.1 374.1L468.5 374.8L464.8 379.5L464.3 380.3L461.5 384.3L459.4 387.2L458 389.1L454.6 393.4L454.3 393.9L450.1 398.7L449.8 399.1L445.7 403.5L444.9 404.3L441 408.2L440.1 409.4L437.1 413L435.3 416.7L434.8 417.8L433.9 422.6L433.7 427.4L433.8 432.2L433.8 436.9L433.6 441.7L433.2 446.5L432.8 451.3L432.8 456.1L433.7 460.9L435.3 464.6L435.7 465.6L438.7 470.4L440.1 472L442.7 475.2L444.9 477.4L447.5 480L449.8 482.1L452.8 484.8L454.6 486.3L459.1 489.6L459.4 489.8L464.3 492.3L468.9 494.3L469.1 494.4L473.9 496L478.8 497.2L483.6 498.2L488.3 499.1L488.4 499.2L493.3 500.3L498.1 501.9L502.9 503.9L502.9 503.9L507.8 506L512.6 507.9L515.1 508.7L517.4 509.3L522.3 510.2L527.1 510.8L531.9 511.3L536.8 511.8L541.6 512.4L546.4 513.3L547 513.5L551.3 514.4L556.1 515.7L560.9 517.2L563.9 518.3L565.8 518.9L570.6 520.6L575.5 522.5L577.5 523L580.3 523.7L585.1 524.4L590 525.1L594.8 526L599.6 527.2L602.2 527.8L604.5 528.3L609.3 529.2L614.1 529.7L619 530L623.8 530.2L628.6 530.7L633.5 531.7L636.1 532.6L638.3 533.4L643.1 535.5L648 537.3L648.2 537.4L652.8 538.9L657.6 540.1L662.5 541.2L667.1 542.2L667.3 542.2L672.1 543.2L677 543.9L681.8 544.2L686.6 544.6L691.5 545.5L695.1 547L696.3 547.5L701.1 550.6L702.6 551.8L706 553.8L710.8 556.4L711 556.5L715.6 558L720.5 559.3L725.3 560.7L727.8 561.3L730.2 561.9L735 562.6L739.8 562.9L744.7 562.8L749.5 562.1L751.6 561.3L754.3 560L758.4 556.5L759.2 555.7L762.4 551.8L764 549.9L767.1 547L768.8 545.5L772.9 542.2L773.7 541.4L777 537.4L778.5 534.2L779.2 532.6L780.3 527.8L781.4 523L783.3 519.4L784.9 518.3L788.2 517.2L791 518.3L793 519.2L797.2 523L797.8 523.5L802.7 527.1L804.3 527.8L807.5 529.2L812.3 530.3L817.2 530.8L822 530.9L826.8 530.9L831.7 530.8L836.5 530.6L841.3 530.4L846.2 530.3L851 530.2L855.8 530.1L860.7 530.1L865.5 530.1L870.4 530.1L875.2 530.1L880 530L884.9 529.9L889.7 529.5L894.5 528.8L899.4 527.9L900.1 527.8L904.2 527.2L909 527.2L910.9 527.8L913.9 528.9L918.7 532L919.6 532.6L923.5 534.8L928.4 536.7L931.6 537.4L933.2 537.6L938 537.9L942.9 538L947.7 538L952.5 538L957.4 538L962.2 538L967 538L967 542.2L967 547L967 549.1L962.2 549.1L957.4 549.1L952.5 549.1L947.7 549.1L942.9 549.1L938 549.1L933.2 549L928.4 548.7L923.5 548.2L918.7 547.4L916.4 547L913.9 546.4L909 545.3L904.2 544.6L899.4 544.2L894.5 544.2L889.7 544.2L884.9 544.3L880 544.4L875.2 544.4L870.4 544.5L865.5 544.6L860.7 544.7L855.8 545L851 545.8L847.9 547L846.2 547.9L842.3 551.8L841.3 553.7L840.2 556.5L839.3 561.3L838.6 566.1L837.3 570.9L836.5 572.3L834.3 575.7L831.7 578.3L828.4 580.5L826.8 581.2L822 582.4L817.2 582.6L812.3 582.2L807.5 581.3L804.1 580.5L802.7 580.1L797.8 578.9L793 578L788.2 577.5L783.3 577.2L778.5 577.2L773.7 577.2L768.8 577.3L764 577.5L759.2 577.6L754.3 577.6L749.5 577.4L744.7 577L739.8 576.5L735 575.8L734.2 575.7L730.2 574.8L725.3 573.5L720.5 572L717 570.9L715.6 570.4L710.8 569.1L706 567.9L701.1 566.7L698.8 566.1L696.3 565.3L691.5 563.5L686.6 561.8L685.2 561.3L681.8 560.3L677 559L672.1 557.7L668.5 556.5L667.3 556.1L662.5 554.1L657.6 552.1L656.8 551.8L652.8 550.4L648 549L643.1 547.7L639.9 547L638.3 546.5L633.5 545.5L628.6 544.7L623.8 544.4L619 544.3L614.1 544.2L609.3 544.2L604.5 544.1L599.6 543.8L594.8 543.2L590.1 542.2L590 542.1L585.1 540.9L580.3 539.4L575.5 537.4L575.5 537.4L570.6 534.4L568.3 532.6L565.8 530.9L561.1 527.8L560.9 527.7L556.1 525.3L551.3 523.4L550.2 523L546.4 521.7L541.6 520.3L536.8 519.2L531.9 518.4L530 518.3L527.1 518L522.3 517.7L517.4 517.2L512.6 516.3L507.8 515L503.3 513.5L502.9 513.3L498.1 511.4L493.3 509.5L491 508.7L488.4 507.9L483.6 506.5L478.8 505.3L473.9 504L473.8 503.9L469.1 502.4L464.3 500.6L460.9 499.1L459.4 498.4L454.6 495.2L453.6 494.3L449.8 490.9L448.4 489.6L444.9 486.3L443.2 484.8L440.1 482.1L437 480L435.3 478.6L430.4 475.3L430.2 475.2L425.6 470.8L425.2 470.4L422.7 465.6L422.1 460.9L422.7 456.1L424.2 451.3L425.6 447.8L426 446.5L427.2 441.7L427.8 436.9L427.9 432.2L427.7 427.4L427.4 422.6L427.5 417.8L428.6 413L430.4 410.1L431.8 408.2L435.3 405.1L437 403.5L440.1 400.7L442 398.7L444.9 395.1L445.8 393.9L449.1 389.1L449.8 388.1L452.4 384.3L454.6 381.4L455.9 379.5L459.4 374.8L459.5 374.8L463.3 370L464.3 369L468.7 365.2L469.1 364.9L473.9 362.2L478.3 360.4L478.8 360.2L483.6 358.7L488.4 357.4L493.3 356.2L495.5 355.6L498.1 355L502.9 353.8L507.8 352.7L512.6 351.7L517.4 351.1ZM188.7 355.6L188.5 355.6L183.9 356.6L179 357.4L174.2 358.1L169.4 358.8L164.5 359.7L162 360.4L159.7 361L154.9 362.5L150 364.3L147.7 365.2L145.2 366.2L140.4 367.9L135.5 369.6L134.5 370L130.7 373.3L129.6 374.8L130.7 376.3L132.9 379.5L135.5 380.9L140.3 384.3L140.4 384.4L145.2 388.6L145.6 389.1L148.7 393.9L150 397.1L150.6 398.7L151.9 403.5L153.1 408.2L154.5 413L154.9 414L156.6 417.8L159.3 422.6L159.7 423.1L163.2 427.4L164.5 428.6L169 432.2L169.4 432.4L174.2 435L177.9 436.9L179 437.4L183.9 439.1L188.7 440.5L193.5 441.7L193.8 441.7L198.4 442.4L203.2 442.8L208 443L212.9 443.2L217.7 443.6L222.5 444.3L227.4 445.3L231.9 446.5L232.2 446.6L237 447.9L241.9 449.3L246.7 451L247.5 451.3L251.5 452.8L256.4 454.8L259.8 456.1L261.2 456.5L266 457.9L270.9 459.2L275.7 460.4L277.3 460.9L280.6 461.6L285.4 462.7L290.2 463.8L295.1 464.9L298.5 465.6L299.9 466L304.7 467.2L309.6 468.6L314.4 470.1L315.3 470.4L319.2 471.8L324.1 473.4L328.9 475L329.6 475.2L333.7 476.5L338.6 477.2L343.4 476.8L347.8 475.2L348.2 475.1L353.1 472.7L357 470.4L357.9 469.9L362.7 466.5L363.7 465.6L367.6 461.8L368.4 460.9L371.8 456.1L372.4 454.9L374.5 451.3L376.9 446.5L377.2 445.8L379 441.7L380.4 436.9L381.2 432.2L381.6 427.4L381.8 422.6L382 417.8L382.1 417.5L382.5 413L383.3 408.2L384.4 403.5L385.5 398.7L386.3 393.9L386.8 389.1L386.9 384.3L386.9 379.6L386.9 379.5L386.9 379.5L386.9 374.8L386.8 370L386.3 365.2L385 360.4L382.1 355.6L382.1 355.6L377.2 352.3L372.4 351.5L367.6 352.3L362.7 353.6L357.9 355L356.4 355.6L353.1 357.4L348.2 360.4L348.2 360.4L343.4 363.8L340.3 365.2L338.6 365.9L333.7 367L328.9 367.4L324.1 367.5L319.2 367.5L314.4 367.5L309.6 367.4L304.7 367.4L299.9 367.3L295.1 367.3L290.2 367.1L285.4 366.9L280.6 366.3L275.7 365.5L274.6 365.2L270.9 364.3L266 363L261.2 361.6L257.7 360.4L256.4 359.9L251.5 357.8L246.7 355.9L245.9 355.6L241.9 354.4L237 353.4L232.2 353L227.4 352.8L222.5 352.8L217.7 352.7L212.9 352.6L208 352.5L203.2 352.7L198.4 353.3L193.5 354.3Z"/>
<path fill="#10A0FF" fill-rule="evenodd" d="M377.1 293.4L377.2 293.3L382.1 290.4L386.9 289.5L391.7 289.3L396.6 289.3L401.4 289.4L406.2 289.8L411.1 291L414.3 293.4L415.9 295.9L416.7 298.2L416.3 303L415.9 303.9L413.8 307.8L411.1 312.2L410.8 312.6L408.4 317.3L407.2 322.1L406.9 326.9L407.3 331.7L408.7 336.5L411.1 340.9L411.3 341.3L415 346L415.9 347.2L419 350.8L420.7 353.2L422.5 355.6L424.9 360.4L425.6 362.9L426.2 365.2L426.8 370L427 374.8L427.2 379.5L427.5 384.3L428.6 389.1L430.4 391.6L435.3 390.3L436.2 389.1L439.5 384.3L440.1 383.6L442.2 379.5L444.9 375.8L445.6 374.8L449.7 370L449.8 369.9L454.6 365.2L454.6 365.2L459.4 361.3L460.7 360.4L464.3 358.4L469.1 356.3L471.1 355.6L473.9 354.8L478.8 353.6L483.6 352.6L488.4 351.6L492.1 350.8L493.3 350.6L498.1 349.6L502.9 348.5L507.8 347.4L512.6 346.4L515.8 346L517.4 345.8L522.3 345.5L527.1 345.4L531.9 345.4L536.8 345.4L541.6 345.4L546.4 345.5L551.3 345.6L556.1 345.8L558.4 346L560.9 346.3L565.8 346.9L570.6 347.8L575.5 348.9L580.3 350.3L582.1 350.8L585.1 351.8L590 353.3L594.8 354.7L597.9 355.6L599.6 356.1L604.5 357.6L609.3 359.2L612.8 360.4L614.1 360.8L619 362.5L623.8 364.2L626.4 365.2L628.6 366L633.5 367.7L638.3 369.8L638.6 370L643.1 372.4L647 374.8L648 375.3L652.8 377.7L657.6 379.4L658.3 379.5L662.5 380.4L667.3 381.3L672.1 382.8L675.8 384.3L677 384.8L681.8 387.1L685.9 389.1L686.6 389.5L691.5 391.5L696.3 392.8L701.1 393.2L706 393L710.8 392.3L715.6 391.1L720.5 389.8L723.1 389.1L725.3 388.7L730.2 387.9L735 387.5L739.8 387.2L744.7 387L749.5 386.4L754.3 385.5L758.9 384.3L759.2 384.2L764 382.9L768.8 381.8L773.7 381L778.5 380.6L783.3 380.6L788.2 381L793 382.2L797.8 384.1L798.2 384.3L802.7 386.6L806.8 389.1L807.5 389.5L812.3 392.3L815.5 393.9L817.2 394.7L822 396.6L826.8 398.2L828.6 398.7L831.7 399.4L836.5 400.2L841.3 400.9L846.2 401.8L851 402.8L853.6 403.5L855.8 404L860.7 405.1L865.5 406.2L870.4 407.2L875.2 408.2L875.3 408.2L880 409.5L884.9 411.1L889.4 413L889.7 413.2L894.5 415.6L899.3 417.8L899.4 417.8L904.2 419.8L909 421.3L913.9 422.4L914.6 422.6L918.7 423.7L923.5 425.1L928.4 426.9L929.8 427.4L933.2 428.6L938 430L942.9 430.9L947.7 431.5L952.5 431.7L957.4 431.8L962.2 431.9L967 431.9L967 432.2L967 436.9L967 441.7L967 446.5L962.2 446.5L957.4 446.5L952.5 446.5L947.7 446.5L942.9 446.4L938 446.3L933.2 446L928.4 445.1L923.5 443L921.6 441.7L918.7 439.9L914.9 436.9L913.9 436.4L909 433.9L904.7 432.2L904.2 432L899.4 430.6L894.5 428.8L891.6 427.4L889.7 426.4L884.9 423.2L884 422.6L880 420.2L875.9 417.8L875.2 417.5L870.4 415.8L865.5 414.6L860.7 413.6L857.6 413L855.8 412.7L851 411.7L846.2 410.6L841.3 409.3L837 408.2L836.5 408.1L831.7 406.9L826.8 405.6L822 404.1L820.2 403.5L817.2 402.3L812.3 400.3L809.1 398.7L807.5 397.8L802.7 394.9L801.1 393.9L797.8 392L793 389.7L791.1 389.1L788.2 388.2L783.3 387.6L778.5 387.5L773.7 387.8L768.8 388.5L766.2 389.1L764 389.6L759.2 391L754.3 392.3L749.5 393.2L744.7 393.9L744.6 393.9L739.8 394.4L735 395.1L730.2 396.3L725.3 398.2L724.5 398.7L720.5 402.2L719.3 403.5L716.6 408.2L715.6 410.1L713.9 413L710.8 416.5L708.8 417.8L706 419L701.1 419.4L696.3 418.3L695.6 417.8L691.5 413.6L691.1 413L688.9 408.2L686.6 404.4L686.1 403.5L681.9 398.7L681.8 398.6L677 395.2L674.7 393.9L672.1 392.6L667.3 390.7L662.5 389.2L662.1 389.1L657.6 387.8L652.8 386.2L648.4 384.3L648 384.1L643.1 381.3L640.3 379.5L638.3 378.3L633.5 375.6L631.7 374.8L628.6 373.4L623.8 371.5L619.7 370L619 369.7L614.1 368L609.3 366.3L606 365.2L604.5 364.6L599.6 363.1L594.8 361.6L590.8 360.4L590 360.2L585.1 358.7L580.3 357.3L575.5 355.7L575.1 355.6L570.6 354.4L565.8 353.2L560.9 352.2L556.1 351.5L551.3 351L547.2 350.8L546.4 350.8L541.6 350.7L536.8 350.7L531.9 350.7L527.1 350.7L522.3 350.8L521.3 350.8L517.4 351.1L512.6 351.7L507.8 352.7L502.9 353.8L498.1 355L495.5 355.6L493.3 356.2L488.4 357.4L483.6 358.7L478.8 360.2L478.3 360.4L473.9 362.2L469.1 364.9L468.7 365.2L464.3 369L463.3 370L459.5 374.8L459.4 374.8L455.9 379.5L454.6 381.4L452.4 384.3L449.8 388.1L449.1 389.1L445.8 393.9L444.9 395.1L442 398.7L440.1 400.7L437 403.5L435.3 405.1L431.8 408.2L430.4 410.1L428.6 413L427.5 417.8L427.4 422.6L427.7 427.4L427.9 432.2L427.8 436.9L427.2 441.7L426 446.5L425.6 447.8L424.2 451.3L422.7 456.1L422.1 460.9L422.7 465.6L425.2 470.4L425.6 470.8L430.2 475.2L430.4 475.3L435.3 478.6L437 480L440.1 482.1L443.2 484.8L444.9 486.3L448.4 489.6L449.8 490.9L453.6 494.3L454.6 495.2L459.4 498.4L460.9 499.1L464.3 500.6L469.1 502.4L473.8 503.9L473.9 504L478.8 505.3L483.6 506.5L488.4 507.9L491 508.7L493.3 509.5L498.1 511.4L502.9 513.3L503.3 513.5L507.8 515L512.6 516.3L517.4 517.2L522.3 517.7L527.1 518L530 518.3L531.9 518.4L536.8 519.2L541.6 520.3L546.4 521.7L550.2 523L551.3 523.4L556.1 525.3L560.9 527.7L561.1 527.8L565.8 530.9L568.3 532.6L570.6 534.4L575.5 537.4L575.5 537.4L580.3 539.4L585.1 540.9L590 542.1L590.1 542.2L594.8 543.2L599.6 543.8L604.5 544.1L609.3 544.2L614.1 544.2L619 544.3L623.8 544.4L628.6 544.7L633.5 545.5L638.3 546.5L639.9 547L643.1 547.7L648 549L652.8 550.4L656.8 551.8L657.6 552.1L662.5 554.1L667.3 556.1L668.5 556.5L672.1 557.7L677 559L681.8 560.3L685.2 561.3L686.6 561.8L691.5 563.5L696.3 565.3L698.8 566.1L701.1 566.7L706 567.9L710.8 569.1L715.6 570.4L717 570.9L720.5 572L725.3 573.5L730.2 574.8L734.2 575.7L735 575.8L739.8 576.5L744.7 577L749.5 577.4L754.3 577.6L759.2 577.6L764 577.5L768.8 577.3L773.7 577.2L778.5 577.2L783.3 577.2L788.2 577.5L793 578L797.8 578.9L802.7 580.1L804.1 580.5L807.5 581.3L812.3 582.2L817.2 582.6L822 582.4L826.8 581.2L828.4 580.5L831.7 578.3L834.3 575.7L836.5 572.3L837.3 570.9L838.6 566.1L839.3 561.3L840.2 556.5L841.3 553.7L842.3 551.8L846.2 547.9L847.9 547L851 545.8L855.8 545L860.7 544.7L865.5 544.6L870.4 544.5L875.2 544.4L880 544.4L884.9 544.3L889.7 544.2L894.5 544.2L899.4 544.2L904.2 544.6L909 545.3L913.9 546.4L916.4 547L918.7 547.4L923.5 548.2L928.4 548.7L933.2 549L938 549.1L942.9 549.1L947.7 549.1L952.5 549.1L957.4 549.1L962.2 549.1L967 549.1L967 551.8L967 556.5L967 559L962.2 559L957.4 559L952.5 559L947.7 559L942.9 559L938 559L933.2 559L928.4 558.9L923.5 558.8L918.7 558.7L913.9 558.6L909 558.5L904.2 558.4L899.4 558.4L894.5 558.5L889.7 558.8L884.9 559.3L880 560.2L875.6 561.3L875.2 561.5L870.4 563.3L865.6 566.1L865.5 566.2L860.9 570.9L860.7 571.2L857.6 575.7L855.8 578L853.9 580.5L851 583.1L848.7 585.2L846.2 587.1L842.5 590L841.3 590.8L836.5 593.7L834.2 594.8L831.7 595.8L826.8 596.9L822 597.4L817.2 597.3L812.3 596.7L807.5 595.5L805.6 594.8L802.7 593.6L797.8 591.7L793 590.1L792.7 590L788.2 589.1L783.3 588.6L778.5 588.4L773.7 588.3L768.8 588.3L764 588.2L759.2 588L754.3 587.6L749.5 587L744.7 586.1L740.4 585.2L739.8 585.1L735 584.1L730.2 583.2L725.3 582.3L720.5 581.2L716.8 580.5L715.6 580.2L710.8 579.3L706 578.6L701.1 578.2L696.3 577.7L691.5 576.6L688.7 575.7L686.6 574.9L681.8 572.8L677 570.9L677 570.9L672.1 569.3L667.3 568.1L662.5 567L659.2 566.1L657.6 565.6L652.8 563.9L648 562.2L645 561.3L643.1 560.8L638.3 559.7L633.5 559L628.6 558.6L623.8 558.4L619 558.4L614.1 558.4L609.3 558.3L604.5 558.3L599.6 558L594.8 557.2L592.4 556.5L590 555.8L585.1 553.7L580.8 551.8L580.3 551.5L575.5 549.1L571.8 547L570.6 546.3L565.8 542.6L565.3 542.2L560.9 538.3L560 537.4L556.1 534.4L553.4 532.6L551.3 531.5L546.4 529.3L542.6 527.8L541.6 527.5L536.8 526.2L531.9 525.4L527.1 524.9L522.3 524.7L517.4 524.4L512.6 523.9L507.8 523.1L507.4 523L502.9 522L498.1 520.5L493.3 518.6L492.4 518.3L488.4 516.6L483.6 514.7L480.3 513.5L478.8 512.9L473.9 511.3L469.1 509.6L466.7 508.7L464.3 507.8L459.4 505.8L455.9 503.9L454.6 503.2L449.8 499.5L449.4 499.1L444.9 494.7L444.6 494.3L440.1 490.2L439.2 489.6L435.3 486.9L430.5 484.8L430.4 484.7L425.6 483.1L420.7 481.8L415.9 481L411.1 480.9L406.2 481.6L401.4 482.7L396.6 484L392.1 484.8L391.7 484.8L386.9 485.4L382.1 486.1L377.2 487.9L374.4 489.6L372.4 490.7L367.6 494L367 494.3L362.7 496.6L357.9 498.4L354 499.1L353.1 499.3L348.2 499.6L343.4 499.2L343 499.1L338.6 498L333.7 495.5L332.2 494.3L328.9 492.2L325.1 489.6L324.1 488.9L319.2 486.1L317 484.8L314.4 483.4L309.6 480.7L308.3 480L304.7 478.2L299.9 476L297.9 475.2L295.1 474.3L290.2 472.9L285.4 471.7L280.6 470.5L280.4 470.4L275.7 469.4L270.9 468.3L266 467.2L261.2 466L260 465.6L256.4 464.6L251.5 463L246.7 461.4L245.2 460.9L241.9 459.7L237 458.2L232.2 456.9L228.5 456.1L227.4 455.8L222.5 454.9L217.7 454.2L212.9 453.8L208 453.6L203.2 453.5L198.4 453.3L193.5 453L188.7 452.7L183.9 452.2L179 451.4L178.8 451.3L174.2 450.2L169.4 448.8L164.5 447.4L161.2 446.5L159.7 446.1L154.9 444.8L150 443.5L145.2 442.2L142.9 441.7L140.4 440.9L135.5 439.9L130.7 439.4L125.8 439.5L121 440.4L117.4 441.7L116.2 442L111.3 443.2L106.5 444.3L101.7 445L96.8 445.4L92 445.6L87.2 445.6L82.3 445.6L82.3 441.7L82.3 436.9L82.3 432.2L82.3 427.4L82.3 426.9L87.2 426.9L92 426.9L96.8 426.9L101.7 426.9L106.5 427L111.3 427L116.2 426.9L121 426.2L125.8 424.1L127.6 422.6L130.7 419.8L132.1 417.8L135.5 413L135.5 412.9L137.5 408.2L138.4 403.5L137.5 398.7L135.5 396.1L133.2 393.9L130.7 392.4L125.8 390L124.1 389.1L121 387.6L116.2 384.8L115.4 384.3L111.3 381L109.5 379.5L106.5 375.9L105.1 374.8L101.7 370.7L100.2 370L96.8 367.7L92 366.7L87.2 366.5L82.3 366.4L82.3 365.2L82.3 360.4L82.3 355.6L82.3 350.8L82.3 348.3L87.2 348.3L92 348.3L96.8 348.3L101.7 348.2L106.5 348L111.3 347.8L116.2 347.6L121 347.5L125.8 347.3L130.7 347.1L135.5 346.6L137.4 346L140.4 345L145.2 341.9L145.9 341.3L150 337.3L150.9 336.5L154.9 333L157.1 331.7L159.7 330.4L164.5 329.2L169.4 328.7L174.2 328.6L179 328.5L183.9 328.5L188.7 328.4L193.5 328.4L198.4 328.4L203.2 328.3L208 328.3L212.9 328.3L217.7 328.3L222.5 328.3L227.4 328.3L232.2 328.3L237 328.3L241.9 328.4L246.7 328.4L251.5 328.5L256.4 328.5L261.2 328.5L266 328.6L270.9 328.7L275.7 329.2L280.6 330L285.4 331.1L288.3 331.7L290.2 332.1L295.1 332.9L299.9 333.4L304.7 333.7L309.6 333.8L314.4 333.8L319.2 333.8L324.1 333.8L328.9 333.8L333.7 333.8L338.6 333.7L343.4 333.5L348.2 333.3L353.1 332.7L356.6 331.7L357.9 331.3L362.7 328.6L364.9 326.9L367.6 324L369.2 322.1L371.7 317.3L372.4 314.3L372.9 312.6L373.5 307.8L374 303L375 298.2ZM372.4 335.4L370.7 336.5L367.6 338.2L362.7 340.5L360.8 341.3L357.9 342.3L353.1 343.6L348.2 344.8L343.4 345.9L342.4 346L338.6 347L333.7 347.7L328.9 348.1L324.1 348.2L319.2 348.2L314.4 348.2L309.6 348.2L304.7 348.2L299.9 348.2L295.1 348.1L290.2 348.1L285.4 348L280.6 348L275.7 347.9L270.9 347.8L266 347.5L261.2 346.9L256.7 346L256.4 346L251.5 344.9L246.7 343.8L241.9 343.1L237 342.7L232.2 342.5L227.4 342.5L222.5 342.4L217.7 342.4L212.9 342.4L208 342.5L203.2 342.7L198.4 343L193.5 343.7L188.7 344.6L183.9 345.7L182.1 346L179 346.6L174.2 347.1L169.4 347.6L164.5 348.4L159.7 350.2L158.7 350.8L154.9 352.6L150 355.3L149.4 355.6L145.2 357.4L140.4 359L135.5 360.1L133.9 360.4L130.7 360.9L125.8 361.9L121 363.6L118.5 365.2L116.2 368.4L115.5 370L115.9 374.8L116.2 375.2L119.2 379.5L121 380.9L125.8 383.9L126.7 384.3L130.7 386L135.5 388.3L136.8 389.1L140.4 391.7L142.3 393.9L144.9 398.7L145.2 399.9L145.9 403.5L146.2 408.2L146.2 413L146.3 417.8L146.8 422.6L148.1 427.4L150 430.6L151.1 432.2L154.9 435.1L157.6 436.9L159.7 437.9L164.5 439.9L169 441.7L169.4 441.9L174.2 443.5L179 445L183.9 446.2L185.6 446.5L188.7 447L193.5 447.6L198.4 448L203.2 448.3L208 448.5L212.9 448.6L217.7 449L222.5 449.7L227.4 450.6L230.2 451.3L232.2 451.8L237 453.1L241.9 454.6L245.8 456.1L246.7 456.4L251.5 458.2L256.4 460L259 460.9L261.2 461.5L266 462.8L270.9 463.9L275.7 465L278.7 465.6L280.6 466.1L285.4 467.1L290.2 468.2L295.1 469.4L299.1 470.4L299.9 470.7L304.7 472.3L309.6 474.3L311.8 475.2L314.4 476.5L319.2 478.8L321.8 480L324.1 481.1L328.9 483.6L331.4 484.8L333.7 486L338.6 487.8L343.4 488.5L348.2 488L353.1 486.6L356.6 484.8L357.9 484.1L362.7 480.5L363.4 480L367.6 476.6L369.2 475.2L372.4 472.5L375 470.4L377.2 468.3L380.3 465.6L382.1 463.6L384.5 460.9L386.9 456.8L387.3 456.1L389.2 451.3L390.4 446.5L391.2 441.7L391.7 436.9L391.7 436.1L392 432.2L392.2 427.4L392.6 422.6L393.3 417.8L394.8 413L396.6 409.2L397.1 408.2L400.2 403.5L401.4 401.5L403.3 398.7L405.4 393.9L406.2 389.5L406.3 389.1L406.7 384.3L406.7 379.5L406.7 374.8L406.6 370L406.2 365.2L406.2 365.2L405.1 360.4L402.8 355.6L401.4 353.7L399.3 350.8L396.6 347.6L395.2 346L391.7 342L391.1 341.3L386.9 336.6L386.7 336.5L382.1 333.3L377.2 333.3ZM411.1 415.7L408.9 417.8L406.2 421L405.5 422.6L404 427.4L403.4 432.2L403.5 436.9L404.8 441.7L406.2 444.2L409.7 446.5L411.1 447.2L413.2 446.5L415.9 445.8L419 441.7L420.7 437.9L421 436.9L421.2 432.2L420.7 428.2L420.6 427.4L418.9 422.6L416.8 417.8L415.9 416.1Z"/>
<path fill="#10C0F8" fill-rule="evenodd" d="M363 269.5L367.6 269.4L372.4 269.3L377.2 269.3L382.1 269.2L386.9 269.2L391.7 269.2L396.6 269.2L401.4 269.2L406.2 269.3L408.9 269.5L411.1 269.7L415.9 270.6L420.7 273L422.2 274.3L425.6 278.3L426 279.1L428.2 283.9L429.6 288.6L430.4 293.1L430.5 293.4L430.8 298.2L430.5 303L430.4 303.6L429.8 307.8L428.7 312.6L427.6 317.3L426.9 322.1L426.7 326.9L427.1 331.7L428.7 336.5L430.4 339.3L432 341.3L435.3 344.2L438.7 346L440.1 346.7L444.9 347.7L449.8 348L454.6 348.1L459.4 348L464.3 347.9L469.1 347.8L473.9 347.5L478.8 347.1L483.6 346.5L487.3 346L488.4 345.9L493.3 345.1L498.1 344.2L502.9 343.1L507.8 342L512 341.3L512.6 341.1L517.4 340.5L522.3 340.2L527.1 340.1L531.9 340.1L536.8 340.1L541.6 340.1L546.4 340.1L551.3 340.2L556.1 340.3L560.9 340.6L565.8 340.9L568.8 341.3L570.6 341.5L575.5 342.4L580.3 343.6L585.1 345L588.6 346L590 346.4L594.8 347.7L599.6 348.9L604.5 350L607.6 350.8L609.3 351.3L614.1 352.7L619 354.3L622.4 355.6L623.8 356.1L628.6 357.8L633.5 359.4L636.5 360.4L638.3 360.9L643.1 362.4L648 364.1L651.6 365.2L652.8 365.6L657.6 366.7L662.5 367.4L667.3 368.4L670.9 370L672.1 370.4L677 373.4L678.9 374.8L681.8 376.4L686.6 379L688 379.5L691.5 380.8L696.3 381.8L701.1 382.2L706 382.2L710.8 382L715.6 381.6L720.5 381.1L725.3 380.7L730.2 380.4L735 380.2L739.8 380.1L744.7 379.9L748.3 379.5L749.5 379.4L754.3 378.5L759.2 377.2L764 376L768.8 374.9L769.8 374.8L773.7 374.1L778.5 373.5L783.3 373.1L788.2 373.1L793 373.8L796.2 374.8L797.8 375.2L802.7 377.3L806.6 379.5L807.5 380L812.3 382.7L815 384.3L817.2 385.5L822 387.8L825.3 389.1L826.8 389.7L831.7 390.8L836.5 391.5L841.3 391.9L846.2 392.4L851 393.3L853.1 393.9L855.8 394.6L860.7 396.1L865.5 397.6L870 398.7L870.4 398.8L875.2 399.5L880 400.3L884.9 401.3L889.7 402.8L891.1 403.5L894.5 404.9L899.4 407.1L901.9 408.2L904.2 409.2L909 410.7L913.9 411.5L918.7 412L923.5 412.3L928.4 412.9L928.9 413L933.2 414L938 415.7L942.9 417.7L943.2 417.8L947.7 419.1L952.5 419.8L957.4 420.1L962.2 420.1L967 420.1L967 422.6L967 427.4L967 431.9L962.2 431.9L957.4 431.8L952.5 431.7L947.7 431.5L942.9 430.9L938 430L933.2 428.6L929.8 427.4L928.4 426.9L923.5 425.1L918.7 423.7L914.6 422.6L913.9 422.4L909 421.3L904.2 419.8L899.4 417.8L899.3 417.8L894.5 415.6L889.7 413.2L889.4 413L884.9 411.1L880 409.5L875.3 408.2L875.2 408.2L870.4 407.2L865.5 406.2L860.7 405.1L855.8 404L853.6 403.5L851 402.8L846.2 401.8L841.3 400.9L836.5 400.2L831.7 399.4L828.6 398.7L826.8 398.2L822 396.6L817.2 394.7L815.5 393.9L812.3 392.3L807.5 389.5L806.8 389.1L802.7 386.6L798.2 384.3L797.8 384.1L793 382.2L788.2 381L783.3 380.6L778.5 380.6L773.7 381L768.8 381.8L764 382.9L759.2 384.2L758.9 384.3L754.3 385.5L749.5 386.4L744.7 387L739.8 387.2L735 387.5L730.2 387.9L725.3 388.7L723.1 389.1L720.5 389.8L715.6 391.1L710.8 392.3L706 393L701.1 393.2L696.3 392.8L691.5 391.5L686.6 389.5L685.9 389.1L681.8 387.1L677 384.8L675.8 384.3L672.1 382.8L667.3 381.3L662.5 380.4L658.3 379.5L657.6 379.4L652.8 377.7L648 375.3L647 374.8L643.1 372.4L638.6 370L638.3 369.8L633.5 367.7L628.6 366L626.4 365.2L623.8 364.2L619 362.5L614.1 360.8L612.8 360.4L609.3 359.2L604.5 357.6L599.6 356.1L597.9 355.6L594.8 354.7L590 353.3L585.1 351.8L582.1 350.8L580.3 350.3L575.5 348.9L570.6 347.8L565.8 346.9L560.9 346.3L558.4 346L556.1 345.8L551.3 345.6L546.4 345.5L541.6 345.4L536.8 345.4L531.9 345.4L527.1 345.4L522.3 345.5L517.4 345.8L515.8 346L512.6 346.4L507.8 347.4L502.9 348.5L498.1 349.6L493.3 350.6L492.1 350.8L488.4 351.6L483.6 352.6L478.8 353.6L473.9 354.8L471.1 355.6L469.1 356.3L464.3 358.4L460.7 360.4L459.4 361.3L454.6 365.2L454.6 365.2L449.8 369.9L449.7 370L445.6 374.8L444.9 375.8L442.2 379.5L440.1 383.6L439.5 384.3L436.2 389.1L435.3 390.3L430.4 391.6L428.6 389.1L427.5 384.3L427.2 379.5L427 374.8L426.8 370L426.2 365.2L425.6 362.9L424.9 360.4L422.5 355.6L420.7 353.2L419 350.8L415.9 347.2L415 346L411.3 341.3L411.1 340.9L408.7 336.5L407.3 331.7L406.9 326.9L407.2 322.1L408.4 317.3L410.8 312.6L411.1 312.2L413.8 307.8L415.9 303.9L416.3 303L416.7 298.2L415.9 295.9L414.3 293.4L411.1 291L406.2 289.8L401.4 289.4L396.6 289.3L391.7 289.3L386.9 289.5L382.1 290.4L377.2 293.3L377.1 293.4L375 298.2L374 303L373.5 307.8L372.9 312.6L372.4 314.3L371.7 317.3L369.2 322.1L367.6 324L364.9 326.9L362.7 328.6L357.9 331.3L356.6 331.7L353.1 332.7L348.2 333.3L343.4 333.5L338.6 333.7L333.7 333.8L328.9 333.8L324.1 333.8L319.2 333.8L314.4 333.8L309.6 333.8L304.7 333.7L299.9 333.4L295.1 332.9L290.2 332.1L288.3 331.7L285.4 331.1L280.6 330L275.7 329.2L270.9 328.7L266 328.6L261.2 328.5L256.4 328.5L251.5 328.5L246.7 328.4L241.9 328.4L237 328.3L232.2 328.3L227.4 328.3L222.5 328.3L217.7 328.3L212.9 328.3L208 328.3L203.2 328.3L198.4 328.4L193.5 328.4L188.7 328.4L183.9 328.5L179 328.5L174.2 328.6L169.4 328.7L164.5 329.2L159.7 330.4L157.1 331.7L154.9 333L150.9 336.5L150 337.3L145.9 341.3L145.2 341.9L140.4 345L137.4 346L135.5 346.6L130.7 347.1L125.8 347.3L121 347.5L116.2 347.6L111.3 347.8L106.5 348L101.7 348.2L96.8 348.3L92 348.3L87.2 348.3L82.3 348.3L82.3 346L82.3 341.3L82.3 336.5L82.3 331.7L82.3 326.9L82.3 322.1L82.3 317.3L82.3 312.6L82.3 309L87.2 309L92 309L96.8 309L101.7 309L106.5 309L111.3 309L116.2 309L121 309L125.8 309L130.7 309.1L135.5 309.3L140.4 310L145.2 311.1L150 312.2L152.1 312.6L154.9 313.1L159.7 313.7L164.5 314L169.4 314.1L174.2 314.2L179 314.2L183.9 314.2L188.7 314.2L193.5 314.2L198.4 314.2L203.2 314.2L208 314.2L212.9 314.2L217.7 314.2L222.5 314.2L227.4 314.2L232.2 314.2L237 314.2L241.9 314.2L246.7 314.2L251.5 314.2L256.4 314.2L261.2 314.2L266 314.2L270.9 314.3L275.7 314.7L280.6 315.6L285.4 317.1L285.9 317.3L290.2 319.1L295.1 320.8L299.9 322L300.6 322.1L304.7 322.6L309.6 322.8L314.4 322.8L319.2 322.8L324.1 322.7L328.9 322.5L333.7 322.4L338.6 322.3L343.4 322.2L343.8 322.1L348.2 321.8L353.1 320.7L357.9 317.6L358.1 317.3L360.2 312.6L360.9 307.8L360.7 303L359.8 298.2L357.9 293.7L357.7 293.4L353.1 290.1L348.2 288.8L347.7 288.6L343.4 287.2L339.5 283.9L338.6 281.6L338 279.1L338.6 276.9L339.8 274.3L343.4 271.5L348.2 270.1L353.1 269.8L357.9 269.6L362.7 269.5ZM82.3 370L82.3 366.4L87.2 366.5L92 366.7L96.8 367.7L100.2 370L101.7 370.7L105.1 374.8L106.5 375.9L109.5 379.5L111.3 381L115.4 384.3L116.2 384.8L121 387.6L124.1 389.1L125.8 390L130.7 392.4L133.2 393.9L135.5 396.1L137.5 398.7L138.4 403.5L137.5 408.2L135.5 412.9L135.5 413L132.1 417.8L130.7 419.8L127.6 422.6L125.8 424.1L121 426.2L116.2 426.9L111.3 427L106.5 427L101.7 426.9L96.8 426.9L92 426.9L87.2 426.9L82.3 426.9L82.3 422.6L82.3 419.3L87.2 419.3L92 419.2L96.8 419.1L101.7 418.7L106.5 417.8L106.5 417.8L111.3 416.2L116.2 413.8L117.4 413L121 410.3L123.3 408.2L125.8 404.4L126.4 403.5L125.8 400.1L125.6 398.7L121 394.6L120.3 393.9L116.2 391.5L112.7 389.1L111.3 388.3L106.5 385.2L104.9 384.3L101.7 382.3L96.8 380.7L92 380L87.2 379.8L82.3 379.8L82.3 379.5L82.3 374.8ZM408.9 417.8L411.1 415.7L415.9 416.1L416.8 417.8L418.9 422.6L420.6 427.4L420.7 428.2L421.2 432.2L421 436.9L420.7 437.9L419 441.7L415.9 445.8L413.2 446.5L411.1 447.2L409.7 446.5L406.2 444.2L404.8 441.7L403.5 436.9L403.4 432.2L404 427.4L405.5 422.6L406.2 421ZM117.4 441.7L121 440.4L125.8 439.5L130.7 439.4L135.5 439.9L140.4 440.9L142.9 441.7L145.2 442.2L150 443.5L154.9 444.8L159.7 446.1L161.2 446.5L164.5 447.4L169.4 448.8L174.2 450.2L178.8 451.3L179 451.4L183.9 452.2L188.7 452.7L193.5 453L198.4 453.3L203.2 453.5L208 453.6L212.9 453.8L217.7 454.2L222.5 454.9L227.4 455.8L228.5 456.1L232.2 456.9L237 458.2L241.9 459.7L245.2 460.9L246.7 461.4L251.5 463L256.4 464.6L260 465.6L261.2 466L266 467.2L270.9 468.3L275.7 469.4L280.4 470.4L280.6 470.5L285.4 471.7L290.2 472.9L295.1 474.3L297.9 475.2L299.9 476L304.7 478.2L308.3 480L309.6 480.7L314.4 483.4L317 484.8L319.2 486.1L324.1 488.9L325.1 489.6L328.9 492.2L332.2 494.3L333.7 495.5L338.6 498L343 499.1L343.4 499.2L348.2 499.6L353.1 499.3L354 499.1L357.9 498.4L362.7 496.6L367 494.3L367.6 494L372.4 490.7L374.4 489.6L377.2 487.9L382.1 486.1L386.9 485.4L391.7 484.8L392.1 484.8L396.6 484L401.4 482.7L406.2 481.6L411.1 480.9L415.9 481L420.7 481.8L425.6 483.1L430.4 484.7L430.5 484.8L435.3 486.9L439.2 489.6L440.1 490.2L444.6 494.3L444.9 494.7L449.4 499.1L449.8 499.5L454.6 503.2L455.9 503.9L459.4 505.8L464.3 507.8L466.7 508.7L469.1 509.6L473.9 511.3L478.8 512.9L480.3 513.5L483.6 514.7L488.4 516.6L492.4 518.3L493.3 518.6L498.1 520.5L502.9 522L507.4 523L507.8 523.1L512.6 523.9L517.4 524.4L522.3 524.7L527.1 524.9L531.9 525.4L536.8 526.2L541.6 527.5L542.6 527.8L546.4 529.3L551.3 531.5L553.4 532.6L556.1 534.4L560 537.4L560.9 538.3L565.3 542.2L565.8 542.6L570.6 546.3L571.8 547L575.5 549.1L580.3 551.5L580.8 551.8L585.1 553.7L590 555.8L592.4 556.5L594.8 557.2L599.6 558L604.5 558.3L609.3 558.3L614.1 558.4L619 558.4L623.8 558.4L628.6 558.6L633.5 559L638.3 559.7L643.1 560.8L645 561.3L648 562.2L652.8 563.9L657.6 565.6L659.2 566.1L662.5 567L667.3 568.1L672.1 569.3L677 570.9L677 570.9L681.8 572.8L686.6 574.9L688.7 575.7L691.5 576.6L696.3 577.7L701.1 578.2L706 578.6L710.8 579.3L715.6 580.2L716.8 580.5L720.5 581.2L725.3 582.3L730.2 583.2L735 584.1L739.8 585.1L740.4 585.2L744.7 586.1L749.5 587L754.3 587.6L759.2 588L764 588.2L768.8 588.3L773.7 588.3L778.5 588.4L783.3 588.6L788.2 589.1L792.7 590L793 590.1L797.8 591.7L802.7 593.6L805.6 594.8L807.5 595.5L812.3 596.7L817.2 597.3L822 597.4L826.8 596.9L831.7 595.8L834.2 594.8L836.5 593.7L841.3 590.8L842.5 590L846.2 587.1L848.7 585.2L851 583.1L853.9 580.5L855.8 578L857.6 575.7L860.7 571.2L860.9 570.9L865.5 566.2L865.6 566.1L870.4 563.3L875.2 561.5L875.6 561.3L880 560.2L884.9 559.3L889.7 558.8L894.5 558.5L899.4 558.4L904.2 558.4L909 558.5L913.9 558.6L918.7 558.7L923.5 558.8L928.4 558.9L933.2 559L938 559L942.9 559L947.7 559L952.5 559L957.4 559L962.2 559L967 559L967 561.3L967 566.1L967 569.4L962.2 569.4L957.4 569.4L952.5 569.4L947.7 569.4L942.9 569.4L938 569.4L933.2 569.4L928.4 569.4L923.5 569.4L918.7 569.4L913.9 569.4L909 569.4L904.2 569.6L899.4 569.8L894.5 570.2L890.6 570.9L889.7 571.1L884.9 573.6L882.2 575.7L880 579.4L879.5 580.5L878.3 585.2L876.9 590L875.2 593.4L874.3 594.8L870.4 598.7L869 599.6L865.5 601.4L860.7 602.6L855.8 603.2L851 604L849.2 604.4L846.2 605L841.3 606.2L836.5 607.2L831.7 607.9L826.8 608.3L822 608.4L817.2 608.3L812.3 607.6L807.5 606.3L802.7 604.4L802.6 604.4L797.8 602.3L793 600.4L789.8 599.6L788.2 599.2L783.3 598.5L778.5 598.2L773.7 598L768.8 597.7L764 597.3L759.2 596.8L754.3 596.1L749.5 595.3L747.2 594.8L744.7 594.2L739.8 593L735 591.9L730.2 590.9L725.3 590.2L723.9 590L720.5 589.6L715.6 589.1L710.8 588.7L706 588.3L701.1 588.1L696.3 587.6L691.5 586.7L686.6 585.3L686.5 585.2L681.8 583.3L677 581.3L674.2 580.5L672.1 579.8L667.3 578.8L662.5 578.3L657.6 577.8L652.8 576.8L649.4 575.7L648 575.2L643.1 573.1L638.3 571.2L637.1 570.9L633.5 569.9L628.6 569.1L623.8 568.9L619 568.8L614.1 568.8L609.3 568.7L604.5 568.7L599.6 568.4L594.8 567.7L590 566.3L589.4 566.1L585.1 564.3L580.3 562.1L578.8 561.3L575.5 559.6L570.6 557.1L569.5 556.5L565.8 554.3L561.8 551.8L560.9 551.1L556.1 547.2L555.8 547L551.3 542.8L550.5 542.2L546.4 539.1L543.8 537.4L541.6 536.3L536.8 534.4L531.9 533.2L527.5 532.6L527.1 532.6L522.3 532.4L517.4 532.2L512.6 531.9L507.8 531.4L502.9 530.6L498.1 529.6L493.3 528L492.7 527.8L488.4 526.1L483.6 523.9L481.9 523L478.8 521.6L473.9 519.4L471.4 518.3L469.1 517.3L464.3 515.3L460 513.5L459.4 513.3L454.6 511L450.7 508.7L449.8 508.1L444.9 504.2L444.6 503.9L440.1 499.5L439.6 499.1L435.3 495.7L432.5 494.3L430.4 493.4L425.6 492.4L420.7 492.1L415.9 492.5L411.1 494L410.2 494.3L406.2 496.6L402.3 499.1L401.4 499.8L396.6 502.5L392.2 503.9L391.7 504L386.9 504.7L382.1 505.1L377.2 505.8L372.4 506.8L367.6 507.8L362.7 508.6L362 508.7L357.9 509.1L353.1 509.3L348.2 509.3L343.4 509L341.7 508.7L338.6 508L333.7 505.9L330.7 503.9L328.9 502.6L325 499.1L324.1 498.4L319.2 494.4L319.1 494.3L314.4 491.3L311.6 489.6L309.6 488.4L304.7 485.5L303.4 484.8L299.9 482.9L295.1 480.4L294.1 480L290.2 478.6L285.4 477L280.6 475.5L279.5 475.2L275.7 474.3L270.9 473.1L266 471.9L261.2 470.6L260.8 470.4L256.4 469.2L251.5 467.8L246.7 466.2L245 465.6L241.9 464.7L237 463.4L232.2 462.2L227.4 461.3L225.2 460.9L222.5 460.4L217.7 459.7L212.9 459.2L208 458.8L203.2 458.6L198.4 458.4L193.5 458.2L188.7 458L183.9 457.7L179 457.1L174.2 456.3L173.3 456.1L169.4 455.2L164.5 454L159.7 453L154.9 452.3L150 451.7L145.3 451.3L145.2 451.3L140.4 450.9L135.5 450.8L130.7 450.8L125.8 451L121.6 451.3L121 451.3L116.2 451.8L111.3 452.2L106.5 452.6L101.7 452.9L96.8 453.1L92 453.1L87.2 453.1L82.3 453.1L82.3 451.3L82.3 446.5L82.3 445.6L87.2 445.6L92 445.6L96.8 445.4L101.7 445L106.5 444.3L111.3 443.2L116.2 442Z"/>
<path fill="#60C0F0" fill-rule="evenodd" d="M361.5 231.2L362.7 231L367.6 230.6L372.4 230.5L377.2 230.5L382.1 230.4L386.9 230.4L391.7 230.4L396.6 230.4L401.4 230.4L406.2 230.5L411.1 230.8L413.2 231.2L415.9 231.9L420.7 234.3L422.8 236L425.6 239.1L427 240.8L430.4 244.8L431.2 245.6L435.3 249L437 250.4L440.1 253.2L441.8 255.2L444.4 259.9L444.9 262.2L445.4 264.7L445.8 269.5L446 274.3L446 279.1L446.1 283.9L446.1 288.6L445.9 293.4L445.2 298.2L444.9 299.4L444.2 303L443.1 307.8L442.3 312.6L442.1 317.3L442.9 322.1L444.9 326.4L445.2 326.9L449.8 331.1L450.7 331.7L454.6 333.7L459.4 335.8L461.2 336.5L464.3 337.6L469.1 339L473.9 339.8L478.8 340.2L483.6 340.1L488.4 339.7L493.3 339.1L498.1 338.3L502.9 337.3L506.8 336.5L507.8 336.2L512.6 335.3L517.4 334.8L522.3 334.5L527.1 334.4L531.9 334.4L536.8 334.4L541.6 334.4L546.4 334.4L551.3 334.4L556.1 334.5L560.9 334.6L565.8 334.7L570.6 335.1L575.5 335.7L579 336.5L580.3 336.8L585.1 338L590 339.3L594.8 340.4L599.6 341.2L599.9 341.3L604.5 341.9L609.3 342.4L614.1 343.1L619 343.8L623.8 344.8L628.2 346L628.6 346.2L633.5 347.8L638.3 349.5L642.8 350.8L643.1 350.9L648 351.9L652.8 352.3L657.6 352.1L662.5 351.5L667.3 351.2L672.1 352.9L674.9 355.6L677 357.7L679 360.4L681.8 363.5L683.4 365.2L686.6 367.8L690.4 370L691.5 370.5L696.3 371.8L701.1 372.3L706 372.4L710.8 372.4L715.6 372.3L720.5 372.2L725.3 372.1L730.2 372L735 372L739.8 371.9L744.7 371.8L749.5 371.3L754.3 370.6L757.4 370L759.2 369.6L764 368.6L768.8 367.6L773.7 366.6L778.5 365.7L780.9 365.2L783.3 364.6L788.2 363.7L793 363.3L797.8 363.5L802.7 364.5L804.8 365.2L807.5 366.1L812.3 368.3L814.8 370L817.2 371.5L821.5 374.8L822 375.1L826.8 377.8L831 379.5L831.7 379.8L836.5 380.5L841.3 380.8L846.2 381.1L851 381.5L855.8 382.3L860.7 383.4L863.9 384.3L865.5 384.7L870.4 385.6L875.2 386.2L880 386.6L884.9 387.2L889.7 388.5L891 389.1L894.5 390.6L899.2 393.9L899.4 394L904.2 396.8L907.9 398.7L909 399.1L913.9 400L918.7 400.3L923.5 400.1L928.4 399.2L930 398.7L933.2 396.5L935.5 393.9L936.9 389.1L937.1 384.3L936.3 379.5L934.3 374.8L933.2 373.3L928.9 370L928.4 369.7L923.5 368.2L918.7 367.5L913.9 366.9L909 365.7L908.1 365.2L904.2 361.8L903.3 360.4L902.9 355.6L904.2 353.1L905.6 350.8L909 347.6L910.7 346L913.9 343L915.4 341.3L918.7 337.1L919.2 336.5L923.5 331.7L923.5 331.7L928.4 327.8L929.4 326.9L933.2 323.1L933.9 322.1L936.2 317.3L937.2 312.6L937.6 307.8L938 304.4L938.2 303L939.7 298.2L942.9 293.6L943.1 293.4L947.7 290.8L952.5 289.6L957.4 289.2L962.2 289.1L967 289.1L967 293.4L967 298.2L967 303L967 307.8L967 312.6L967 317.3L967 322.1L967 326.9L967 331.7L967 336.5L967 341.3L967 346L967 350.8L967 355.6L967 360.4L967 365.2L967 370L967 374.8L967 379.5L967 384.3L967 389.1L967 393.9L967 398.7L967 403.5L967 408.2L967 413L967 417.8L967 420.1L962.2 420.1L957.4 420.1L952.5 419.8L947.7 419.1L943.2 417.8L942.9 417.7L938 415.7L933.2 414L928.9 413L928.4 412.9L923.5 412.3L918.7 412L913.9 411.5L909 410.7L904.2 409.2L901.9 408.2L899.4 407.1L894.5 404.9L891.1 403.5L889.7 402.8L884.9 401.3L880 400.3L875.2 399.5L870.4 398.8L870 398.7L865.5 397.6L860.7 396.1L855.8 394.6L853.1 393.9L851 393.3L846.2 392.4L841.3 391.9L836.5 391.5L831.7 390.8L826.8 389.7L825.3 389.1L822 387.8L817.2 385.5L815 384.3L812.3 382.7L807.5 380L806.6 379.5L802.7 377.3L797.8 375.2L796.2 374.8L793 373.8L788.2 373.1L783.3 373.1L778.5 373.5L773.7 374.1L769.8 374.8L768.8 374.9L764 376L759.2 377.2L754.3 378.5L749.5 379.4L748.3 379.5L744.7 379.9L739.8 380.1L735 380.2L730.2 380.4L725.3 380.7L720.5 381.1L715.6 381.6L710.8 382L706 382.2L701.1 382.2L696.3 381.8L691.5 380.8L688 379.5L686.6 379L681.8 376.4L678.9 374.8L677 373.4L672.1 370.4L670.9 370L667.3 368.4L662.5 367.4L657.6 366.7L652.8 365.6L651.6 365.2L648 364.1L643.1 362.4L638.3 360.9L636.5 360.4L633.5 359.4L628.6 357.8L623.8 356.1L622.4 355.6L619 354.3L614.1 352.7L609.3 351.3L607.6 350.8L604.5 350L599.6 348.9L594.8 347.7L590 346.4L588.6 346L585.1 345L580.3 343.6L575.5 342.4L570.6 341.5L568.8 341.3L565.8 340.9L560.9 340.6L556.1 340.3L551.3 340.2L546.4 340.1L541.6 340.1L536.8 340.1L531.9 340.1L527.1 340.1L522.3 340.2L517.4 340.5L512.6 341.1L512 341.3L507.8 342L502.9 343.1L498.1 344.2L493.3 345.1L488.4 345.9L487.3 346L483.6 346.5L478.8 347.1L473.9 347.5L469.1 347.8L464.3 347.9L459.4 348L454.6 348.1L449.8 348L444.9 347.7L440.1 346.7L438.7 346L435.3 344.2L432 341.3L430.4 339.3L428.7 336.5L427.1 331.7L426.7 326.9L426.9 322.1L427.6 317.3L428.7 312.6L429.8 307.8L430.4 303.6L430.5 303L430.8 298.2L430.5 293.4L430.4 293.1L429.6 288.6L428.2 283.9L426 279.1L425.6 278.3L422.2 274.3L420.7 273L415.9 270.6L411.1 269.7L408.9 269.5L406.2 269.3L401.4 269.2L396.6 269.2L391.7 269.2L386.9 269.2L382.1 269.2L377.2 269.3L372.4 269.3L367.6 269.4L363 269.5L362.7 269.5L357.9 269.6L353.1 269.8L348.2 270.1L343.4 271.5L339.8 274.3L338.6 276.9L338 279.1L338.6 281.6L339.5 283.9L343.4 287.2L347.7 288.6L348.2 288.8L353.1 290.1L357.7 293.4L357.9 293.7L359.8 298.2L360.7 303L360.9 307.8L360.2 312.6L358.1 317.3L357.9 317.6L353.1 320.7L348.2 321.8L343.8 322.1L343.4 322.2L338.6 322.3L333.7 322.4L328.9 322.5L324.1 322.7L319.2 322.8L314.4 322.8L309.6 322.8L304.7 322.6L300.6 322.1L299.9 322L295.1 320.8L290.2 319.1L285.9 317.3L285.4 317.1L280.6 315.6L275.7 314.7L270.9 314.3L266 314.2L261.2 314.2L256.4 314.2L251.5 314.2L246.7 314.2L241.9 314.2L237 314.2L232.2 314.2L227.4 314.2L222.5 314.2L217.7 314.2L212.9 314.2L208 314.2L203.2 314.2L198.4 314.2L193.5 314.2L188.7 314.2L183.9 314.2L179 314.2L174.2 314.2L169.4 314.1L164.5 314L159.7 313.7L154.9 313.1L152.1 312.6L150 312.2L145.2 311.1L140.4 310L135.5 309.3L130.7 309.1L125.8 309L121 309L116.2 309L111.3 309L106.5 309L101.7 309L96.8 309L92 309L87.2 309L82.3 309L82.3 307.8L82.3 303L82.3 298.2L82.3 293.4L82.3 289.1L87.2 289.1L92 289.1L96.8 289.1L101.7 289.1L106.5 289.1L111.3 289.1L116.2 289.1L121 289.1L125.8 289.1L130.7 289.3L135.5 289.9L140.4 291.3L144.3 293.4L145.2 293.9L150 297.1L151.8 298.2L154.9 299.8L159.7 301.7L164.5 302.7L167.7 303L169.4 303.1L174.2 303.3L179 303.3L183.9 303.4L188.7 303.5L193.5 303.6L198.4 303.7L203.2 303.8L208 303.8L212.9 303.8L217.7 303.8L222.5 303.8L227.4 303.8L232.2 303.8L237 303.8L241.9 303.8L246.7 303.8L251.5 303.8L256.4 303.8L261.2 303.8L266 303.8L270.9 303.9L275.7 304L280.6 304.3L285.4 304.9L290.2 305.7L295.1 306.7L299.9 307.6L301.9 307.8L304.7 308.1L309.6 308.1L313.1 307.8L314.4 307.6L319.2 306L323.2 303L324.1 301.4L325.1 298.2L325 293.4L324.3 288.6L324.1 286.5L323.7 283.9L323.7 279.1L324.1 275.5L324.2 274.3L325.3 269.5L327.3 264.7L328.9 262L330.5 259.9L333.7 256.4L335.2 255.2L338.6 251.8L340.3 250.4L343.4 246.8L344.5 245.6L347.8 240.8L348.2 240.1L351.6 236L353.1 234.7L357.9 232.1ZM82.3 384.3L82.3 379.8L87.2 379.8L92 380L96.8 380.7L101.7 382.3L104.9 384.3L106.5 385.2L111.3 388.3L112.7 389.1L116.2 391.5L120.3 393.9L121 394.6L125.6 398.7L125.8 400.1L126.4 403.5L125.8 404.4L123.3 408.2L121 410.3L117.4 413L116.2 413.8L111.3 416.2L106.5 417.8L106.5 417.8L101.7 418.7L96.8 419.1L92 419.2L87.2 419.3L82.3 419.3L82.3 417.8L82.3 413L82.3 410.5L87.2 410.5L92 410.4L96.8 410L101.7 409.1L103.9 408.2L106.5 406.8L110.5 403.5L111.3 398.7L107.3 393.9L106.5 393.4L101.7 390.8L96.9 389.1L96.8 389.1L92 388.6L87.2 388.4L82.3 388.4ZM121.6 451.3L125.8 451L130.7 450.8L135.5 450.8L140.4 450.9L145.2 451.3L145.3 451.3L150 451.7L154.9 452.3L159.7 453L164.5 454L169.4 455.2L173.3 456.1L174.2 456.3L179 457.1L183.9 457.7L188.7 458L193.5 458.2L198.4 458.4L203.2 458.6L208 458.8L212.9 459.2L217.7 459.7L222.5 460.4L225.2 460.9L227.4 461.3L232.2 462.2L237 463.4L241.9 464.7L245 465.6L246.7 466.2L251.5 467.8L256.4 469.2L260.8 470.4L261.2 470.6L266 471.9L270.9 473.1L275.7 474.3L279.5 475.2L280.6 475.5L285.4 477L290.2 478.6L294.1 480L295.1 480.4L299.9 482.9L303.4 484.8L304.7 485.5L309.6 488.4L311.6 489.6L314.4 491.3L319.1 494.3L319.2 494.4L324.1 498.4L325 499.1L328.9 502.6L330.7 503.9L333.7 505.9L338.6 508L341.7 508.7L343.4 509L348.2 509.3L353.1 509.3L357.9 509.1L362 508.7L362.7 508.6L367.6 507.8L372.4 506.8L377.2 505.8L382.1 505.1L386.9 504.7L391.7 504L392.2 503.9L396.6 502.5L401.4 499.8L402.3 499.1L406.2 496.6L410.2 494.3L411.1 494L415.9 492.5L420.7 492.1L425.6 492.4L430.4 493.4L432.5 494.3L435.3 495.7L439.6 499.1L440.1 499.5L444.6 503.9L444.9 504.2L449.8 508.1L450.7 508.7L454.6 511L459.4 513.3L460 513.5L464.3 515.3L469.1 517.3L471.4 518.3L473.9 519.4L478.8 521.6L481.9 523L483.6 523.9L488.4 526.1L492.7 527.8L493.3 528L498.1 529.6L502.9 530.6L507.8 531.4L512.6 531.9L517.4 532.2L522.3 532.4L527.1 532.6L527.5 532.6L531.9 533.2L536.8 534.4L541.6 536.3L543.8 537.4L546.4 539.1L550.5 542.2L551.3 542.8L555.8 547L556.1 547.2L560.9 551.1L561.8 551.8L565.8 554.3L569.5 556.5L570.6 557.1L575.5 559.6L578.8 561.3L580.3 562.1L585.1 564.3L589.4 566.1L590 566.3L594.8 567.7L599.6 568.4L604.5 568.7L609.3 568.7L614.1 568.8L619 568.8L623.8 568.9L628.6 569.1L633.5 569.9L637.1 570.9L638.3 571.2L643.1 573.1L648 575.2L649.4 575.7L652.8 576.8L657.6 577.8L662.5 578.3L667.3 578.8L672.1 579.8L674.2 580.5L677 581.3L681.8 583.3L686.5 585.2L686.6 585.3L691.5 586.7L696.3 587.6L701.1 588.1L706 588.3L710.8 588.7L715.6 589.1L720.5 589.6L723.9 590L725.3 590.2L730.2 590.9L735 591.9L739.8 593L744.7 594.2L747.2 594.8L749.5 595.3L754.3 596.1L759.2 596.8L764 597.3L768.8 597.7L773.7 598L778.5 598.2L783.3 598.5L788.2 599.2L789.8 599.6L793 600.4L797.8 602.3L802.6 604.4L802.7 604.4L807.5 606.3L812.3 607.6L817.2 608.3L822 608.4L826.8 608.3L831.7 607.9L836.5 607.2L841.3 606.2L846.2 605L849.2 604.4L851 604L855.8 603.2L860.7 602.6L865.5 601.4L869 599.6L870.4 598.7L874.3 594.8L875.2 593.4L876.9 590L878.3 585.2L879.5 580.5L880 579.4L882.2 575.7L884.9 573.6L889.7 571.1L890.6 570.9L894.5 570.2L899.4 569.8L904.2 569.6L909 569.4L913.9 569.4L918.7 569.4L923.5 569.4L928.4 569.4L933.2 569.4L938 569.4L942.9 569.4L947.7 569.4L952.5 569.4L957.4 569.4L962.2 569.4L967 569.4L967 570.9L967 575.7L967 580.5L967 583.8L962.2 583.8L957.4 583.8L952.5 583.8L947.7 583.8L942.9 583.8L938 583.8L933.2 583.8L928.4 583.8L923.5 583.9L918.7 584L913.9 584.3L909 585.2L908.9 585.2L904.2 587.5L901.3 590L899.4 592.2L897.5 594.8L894.5 598.5L893.7 599.6L889.7 603.4L888.7 604.4L884.9 607.5L883 609.2L880 611.7L877.4 613.9L875.2 615.8L871 618.7L870.4 619.2L865.5 621.5L860.7 622.6L855.8 622.9L851 623L846.2 623L841.3 623.1L836.5 623.1L831.7 623.2L826.8 623.2L822 623.1L817.2 622.7L812.3 621.7L807.5 619.5L806.4 618.7L802.7 616.6L798.5 613.9L797.8 613.6L793 611.3L788.2 609.7L785.1 609.2L783.3 608.9L778.5 608.5L773.7 608L768.8 607.3L764 606.2L759.2 605L756.5 604.4L754.3 603.9L749.5 603L744.7 602.1L739.8 601.1L735 600.1L732.1 599.6L730.2 599.3L725.3 598.8L720.5 598.5L715.6 598.2L710.8 597.9L706 597.4L701.1 596.9L696.3 596.2L691.5 595.4L688.9 594.8L686.6 594.2L681.8 592.6L677 591L673.5 590L672.1 589.6L667.3 588.8L662.5 588.4L657.6 588L652.8 587.2L648 585.7L646.8 585.2L643.1 583.7L638.3 581.7L634.6 580.5L633.5 580.1L628.6 579.1L623.8 578.7L619 578.6L614.1 578.6L609.3 578.6L604.5 578.5L599.6 578.3L594.8 577.5L590 576.2L588.7 575.7L585.1 574.2L580.3 572L578 570.9L575.5 569.6L570.6 567.3L568.3 566.1L565.8 564.8L560.9 562.4L558.7 561.3L556.1 559.9L551.3 557.4L549.6 556.5L546.4 554.5L542.2 551.8L541.6 551.3L536.8 548.2L534.1 547L531.9 546.1L527.1 545L522.3 544.5L517.4 543.9L512.6 543L509.2 542.2L507.8 541.9L502.9 540.8L498.1 539.6L493.3 538.2L491 537.4L488.4 536.5L483.6 534.3L480.4 532.6L478.8 531.8L473.9 529.2L471.5 527.8L469.1 526.6L464.3 524.2L461.7 523L459.4 522L454.6 519.9L451 518.3L449.8 517.7L444.9 515.1L442.3 513.5L440.1 512L435.3 508.8L435.1 508.7L430.4 506.6L425.6 505.9L420.7 506.3L415.9 508L414.7 508.7L411.1 510.8L407.1 513.5L406.2 514L401.4 516.4L396.6 518.1L395.4 518.3L391.7 518.8L386.9 519L382.1 519L377.2 518.8L372.4 518.5L368.4 518.3L367.6 518.2L362.7 517.9L357.9 517.7L353.1 517.6L348.2 517.5L343.4 517.3L338.6 516.7L333.7 515.6L328.9 513.7L328.4 513.5L324.1 510.8L321.2 508.7L319.2 507L315.8 503.9L314.4 502.6L310.3 499.1L309.6 498.6L304.7 495.2L303.5 494.3L299.9 492.1L295.8 489.6L295.1 489.1L290.2 486.6L286.4 484.8L285.4 484.4L280.6 482.5L275.7 480.8L273.4 480L270.9 479.3L266 477.9L261.2 476.3L258.5 475.2L256.4 474.6L251.5 473L246.7 471.4L243.8 470.4L241.9 469.9L237 468.8L232.2 467.8L227.4 467.1L222.5 466.3L218.6 465.6L217.7 465.5L212.9 464.8L208 464.3L203.2 463.8L198.4 463.5L193.5 463.4L188.7 463.2L183.9 463L179 462.6L174.2 462L169.4 461.2L167.4 460.9L164.5 460.3L159.7 459.7L154.9 459.2L150 459L145.2 458.9L140.4 459L135.5 459.3L130.7 459.7L125.8 460.2L121 460.6L116.2 460.8L115.9 460.9L111.3 461L106.5 461.1L101.7 461.2L96.8 461.2L92 461.2L87.2 461.2L82.3 461.2L82.3 460.9L82.3 456.1L82.3 453.1L87.2 453.1L92 453.1L96.8 453.1L101.7 452.9L106.5 452.6L111.3 452.2L116.2 451.8L121 451.3Z"/>
<path fill="#98D0F0" fill-rule="evenodd" d="M898.2 82.9L899.4 82.9L904.2 82.9L909 82.9L913.9 82.9L918.7 82.9L923.5 82.9L928.4 82.9L933.2 82.9L938 82.9L942.9 82.9L947.7 82.9L952.5 82.9L957.4 82.9L962.2 82.9L967 82.9L967 87.7L967 92.5L967 97.3L967 102.1L967 106.9L967 111.6L967 116.4L967 121.2L967 126L967 130.8L967 135.6L967 140.3L967 145.1L967 149.9L967 154.7L967 159.5L967 164.3L967 169L967 173.8L967 178.6L967 183.4L967 188.2L967 193L967 197.8L967 202.5L967 207.3L967 212.1L967 216.9L967 221.7L967 226.5L967 231.2L967 236L967 240.8L967 245.6L967 250.4L967 255.2L967 259.9L967 264.7L967 269.5L967 274.3L967 279.1L967 283.9L967 288.6L967 289.1L962.2 289.1L957.4 289.2L952.5 289.6L947.7 290.8L943.1 293.4L942.9 293.6L939.7 298.2L938.2 303L938 304.4L937.6 307.8L937.2 312.6L936.2 317.3L933.9 322.1L933.2 323.1L929.4 326.9L928.4 327.8L923.5 331.7L923.5 331.7L919.2 336.5L918.7 337.1L915.4 341.3L913.9 343L910.7 346L909 347.6L905.6 350.8L904.2 353.1L902.9 355.6L903.3 360.4L904.2 361.8L908.1 365.2L909 365.7L913.9 366.9L918.7 367.5L923.5 368.2L928.4 369.7L928.9 370L933.2 373.3L934.3 374.8L936.3 379.5L937.1 384.3L936.9 389.1L935.5 393.9L933.2 396.5L930 398.7L928.4 399.2L923.5 400.1L918.7 400.3L913.9 400L909 399.1L907.9 398.7L904.2 396.8L899.4 394L899.2 393.9L894.5 390.6L891 389.1L889.7 388.5L884.9 387.2L880 386.6L875.2 386.2L870.4 385.6L865.5 384.7L863.9 384.3L860.7 383.4L855.8 382.3L851 381.5L846.2 381.1L841.3 380.8L836.5 380.5L831.7 379.8L831 379.5L826.8 377.8L822 375.1L821.5 374.8L817.2 371.5L814.8 370L812.3 368.3L807.5 366.1L804.8 365.2L802.7 364.5L797.8 363.5L793 363.3L788.2 363.7L783.3 364.6L780.9 365.2L778.5 365.7L773.7 366.6L768.8 367.6L764 368.6L759.2 369.6L757.4 370L754.3 370.6L749.5 371.3L744.7 371.8L739.8 371.9L735 372L730.2 372L725.3 372.1L720.5 372.2L715.6 372.3L710.8 372.4L706 372.4L701.1 372.3L696.3 371.8L691.5 370.5L690.4 370L686.6 367.8L683.4 365.2L681.8 363.5L679 360.4L677 357.7L674.9 355.6L672.1 352.9L667.3 351.2L662.5 351.5L657.6 352.1L652.8 352.3L648 351.9L643.1 350.9L642.8 350.8L638.3 349.5L633.5 347.8L628.6 346.2L628.2 346L623.8 344.8L619 343.8L614.1 343.1L609.3 342.4L604.5 341.9L599.9 341.3L599.6 341.2L594.8 340.4L590 339.3L585.1 338L580.3 336.8L579 336.5L575.5 335.7L570.6 335.1L565.8 334.7L560.9 334.6L556.1 334.5L551.3 334.4L546.4 334.4L541.6 334.4L536.8 334.4L531.9 334.4L527.1 334.4L522.3 334.5L517.4 334.8L512.6 335.3L507.8 336.2L506.8 336.5L502.9 337.3L498.1 338.3L493.3 339.1L488.4 339.7L483.6 340.1L478.8 340.2L473.9 339.8L469.1 339L464.3 337.6L461.2 336.5L459.4 335.8L454.6 333.7L450.7 331.7L449.8 331.1L445.2 326.9L444.9 326.4L442.9 322.1L442.1 317.3L442.3 312.6L443.1 307.8L444.2 303L444.9 299.4L445.2 298.2L445.9 293.4L446.1 288.6L446.1 283.9L446 279.1L446 274.3L445.8 269.5L445.4 264.7L444.9 262.2L444.4 259.9L441.8 255.2L440.1 253.2L437 250.4L435.3 249L431.2 245.6L430.4 244.8L427 240.8L425.6 239.1L422.8 236L420.7 234.3L415.9 231.9L413.2 231.2L411.1 230.8L406.2 230.5L401.4 230.4L396.6 230.4L391.7 230.4L386.9 230.4L382.1 230.4L377.2 230.5L372.4 230.5L367.6 230.6L362.7 231L361.5 231.2L357.9 232.1L353.1 234.7L351.6 236L348.2 240.1L347.8 240.8L344.5 245.6L343.4 246.8L340.3 250.4L338.6 251.8L335.2 255.2L333.7 256.4L330.5 259.9L328.9 262L327.3 264.7L325.3 269.5L324.2 274.3L324.1 275.5L323.7 279.1L323.7 283.9L324.1 286.5L324.3 288.6L325 293.4L325.1 298.2L324.1 301.4L323.2 303L319.2 306L314.4 307.6L313.1 307.8L309.6 308.1L304.7 308.1L301.9 307.8L299.9 307.6L295.1 306.7L290.2 305.7L285.4 304.9L280.6 304.3L275.7 304L270.9 303.9L266 303.8L261.2 303.8L256.4 303.8L251.5 303.8L246.7 303.8L241.9 303.8L237 303.8L232.2 303.8L227.4 303.8L222.5 303.8L217.7 303.8L212.9 303.8L208 303.8L203.2 303.8L198.4 303.7L193.5 303.6L188.7 303.5L183.9 303.4L179 303.3L174.2 303.3L169.4 303.1L167.7 303L164.5 302.7L159.7 301.7L154.9 299.8L151.8 298.2L150 297.1L145.2 293.9L144.3 293.4L140.4 291.3L135.5 289.9L130.7 289.3L125.8 289.1L121 289.1L116.2 289.1L111.3 289.1L106.5 289.1L101.7 289.1L96.8 289.1L92 289.1L87.2 289.1L82.3 289.1L82.3 288.6L82.3 283.9L82.3 279.1L82.3 274.3L82.3 269.6L87.2 269.6L92 269.6L96.8 269.6L101.7 269.6L106.5 269.6L111.3 269.7L116.2 269.9L121 270.6L125.8 271.6L130.7 272.8L135.5 274L136.7 274.3L140.4 275.3L145.2 277.1L149.1 279.1L150 279.6L154.9 282.8L156.7 283.9L159.7 285.8L164.5 287.7L169.1 288.6L169.4 288.7L174.2 289.2L179 289.8L183.9 290.7L188.7 291.8L193.5 292.7L198.4 293.3L199.4 293.4L203.2 293.7L208 293.9L212.9 293.9L217.7 294L222.5 294L227.4 294L232.2 294L237 294L241.9 294L246.7 294L251.5 294L256.4 294L261.2 294L266 294L270.9 293.9L275.7 293.8L280.6 293.5L280.9 293.4L285.4 292.9L290.2 292L295.1 290.6L299.6 288.6L299.9 288.5L304.7 285.1L305.9 283.9L309.5 279.1L309.6 278.9L311.8 274.3L313.7 269.5L314.4 267.7L315.5 264.7L317.7 259.9L319.2 257.3L320.8 255.2L324.1 251.1L324.8 250.4L328.7 245.6L328.9 245.3L331.8 240.8L333.7 236L333.7 235.9L335.1 231.2L336.5 226.5L338.5 221.7L338.6 221.6L343.4 217.8L346.6 216.9L348.2 216.5L353.1 216.1L357.9 215.6L362.7 215L367.6 214L372.4 212.8L375.6 212.1L377.2 211.7L382.1 210.9L386.9 210.6L391.7 210.5L396.6 210.5L401.4 210.5L406.2 210.5L411.1 210.5L415.9 210.6L420.7 210.6L425.6 210.7L430.4 210.7L435.3 210.8L440.1 210.8L444.9 210.9L449.8 211.2L454.6 212L454.8 212.1L459.4 214.3L462.6 216.9L464.3 218.7L466.7 221.7L469.1 224.5L471 226.5L473.9 229.2L476.3 231.2L478.8 234.5L479.7 236L479.8 240.8L478.8 242.7L477 245.6L473.9 249.2L472.8 250.4L469.2 255.2L469.1 255.3L467 259.9L466.1 264.7L465.8 269.5L465.7 274.3L465.7 279.1L465.7 283.9L465.5 288.6L465 293.4L464.3 295.7L463.5 298.2L460.8 303L459.4 305.1L457.9 307.8L455.7 312.6L455.5 317.3L458 322.1L459.4 323.4L464.1 326.9L464.3 327L469.1 329.3L473.9 331.1L476.9 331.7L478.8 332L483.6 332.3L488.4 332.3L493.3 331.9L494.9 331.7L498.1 331.2L502.9 330.3L507.8 329.4L512.6 328.7L517.4 328.3L522.3 328.1L527.1 328.1L531.9 328L536.8 328L541.6 328L546.4 328L551.3 328.1L556.1 328.1L560.9 328.1L565.8 328.2L570.6 328.4L575.5 328.8L580.3 329.5L585.1 330.4L590 331.4L591.8 331.7L594.8 332.2L599.6 332.7L604.5 332.9L609.3 332.9L614.1 332.7L619 332.2L622.4 331.7L623.8 331.4L628.6 330.5L633.5 329.6L638.3 328.8L643.1 327.3L643.6 326.9L645.4 322.1L647.4 317.3L648 316.6L651 312.6L652.8 310.6L655.4 307.8L657.6 305L659.1 303L661.2 298.2L662.1 293.4L662.5 290.3L662.7 288.6L663.5 283.9L665.6 279.1L667.3 276.8L669.8 274.3L672.1 272.5L677 270.4L681.8 269.6L685.2 269.5L686.6 269.4L691.5 269.4L696.3 269.4L700.6 269.5L701.1 269.5L706 269.9L710.8 270.9L715.6 273.4L716.7 274.3L720.5 278.3L721.1 279.1L725 283.9L725.3 284.2L730.2 288.6L730.2 288.6L734.7 293.4L735 294.4L735.8 298.2L735 300.1L733.7 303L730.2 307.2L729.6 307.8L725.3 312L724.8 312.6L720.5 317.2L720.4 317.3L715.7 322.1L715.6 322.2L710.8 325.5L707.4 326.9L706 327.5L701.1 328.3L696.3 328.9L691.5 330.3L689.3 331.7L686.6 334.5L685.6 336.5L685.1 341.3L685.8 346L686.6 348.6L687.4 350.8L690.2 355.6L691.5 357.1L696.3 360.1L697.6 360.4L701.1 361L706 361.2L710.8 361.4L715.6 361.5L720.5 361.6L725.3 361.8L730.2 361.9L735 362L739.8 362L744.7 361.9L749.5 361.6L754.3 361.2L759.2 360.5L759.9 360.4L764 359.6L768.8 358.3L773.7 356.6L776.3 355.6L778.5 354.3L783.3 351.5L784.6 350.8L788.2 348.5L792 346L793 345.2L796.6 341.3L797.8 338.7L798.8 336.5L799.7 331.7L800.2 326.9L800.9 322.1L802.4 317.3L802.7 316.9L806.4 312.6L807.5 311.7L812.3 309.8L817.2 309L822 308.8L826.8 308.7L831.7 308.7L836.5 308.7L841.3 308.7L846.2 308.7L851 308.7L855.8 308.7L860.7 308.5L865.5 307.8L865.5 307.8L870.4 306L874.2 303L875.2 301.7L877 298.2L878.1 293.4L878.5 288.6L878.5 283.9L878.6 279.1L878.5 274.3L878.5 269.5L878.1 264.7L877 259.9L875.2 256.4L874.4 255.2L870.4 251.1L869.4 250.4L865.5 247.2L863.7 245.6L860.7 242.2L859.5 240.8L855.8 236.2L855.7 236L851 231.7L850.5 231.2L846.2 227.9L844.6 226.5L841.3 223L840.3 221.7L836.5 216.9L836.5 216.9L831.7 212.3L831.4 212.1L826.8 208.5L825.5 207.3L822 203.7L821 202.5L817.2 197.8L817.2 197.7L812.4 193L812.3 192.9L807.5 189.1L806.4 188.2L802.7 184.5L801.7 183.4L798 178.6L797.8 178.4L793.4 173.8L793 173.4L788.2 169.1L788.1 169L785 164.3L784.8 159.5L787.3 154.7L788.2 153.9L792.5 149.9L793 149.5L797.4 145.1L797.8 144.7L801.7 140.3L802.7 139.4L807.5 136.6L812.3 136.7L817.2 139.7L817.8 140.3L822 145L822.1 145.1L826.8 149.6L827.2 149.9L831.7 153.4L833.2 154.7L836.5 157.9L838 159.5L841.3 163.3L842.7 164.3L846.2 166.5L851 166.7L855.8 164.3L855.8 164.2L860.2 159.5L860.7 159L864.9 154.7L865.5 154.2L870.4 150.3L870.8 149.9L875.1 145.1L875.2 145L877.3 140.3L878.2 135.6L878.7 130.8L879.3 126L880 123.5L880.8 121.2L883.9 116.4L884.9 115.5L889.3 111.6L889.7 111.3L894.2 106.9L894.5 106.3L896.7 102.1L897.8 97.3L898.1 92.5L898.2 87.7ZM82.3 389.1L82.3 388.4L87.2 388.4L92 388.6L96.8 389.1L96.9 389.1L101.7 390.8L106.5 393.4L107.3 393.9L111.3 398.7L110.5 403.5L106.5 406.8L103.9 408.2L101.7 409.1L96.8 410L92 410.4L87.2 410.5L82.3 410.5L82.3 408.2L82.3 403.5L82.3 398.7L82.3 393.9ZM115.9 460.9L116.2 460.8L121 460.6L125.8 460.2L130.7 459.7L135.5 459.3L140.4 459L145.2 458.9L150 459L154.9 459.2L159.7 459.7L164.5 460.3L167.4 460.9L169.4 461.2L174.2 462L179 462.6L183.9 463L188.7 463.2L193.5 463.4L198.4 463.5L203.2 463.8L208 464.3L212.9 464.8L217.7 465.5L218.6 465.6L222.5 466.3L227.4 467.1L232.2 467.8L237 468.8L241.9 469.9L243.8 470.4L246.7 471.4L251.5 473L256.4 474.6L258.5 475.2L261.2 476.3L266 477.9L270.9 479.3L273.4 480L275.7 480.8L280.6 482.5L285.4 484.4L286.4 484.8L290.2 486.6L295.1 489.1L295.8 489.6L299.9 492.1L303.5 494.3L304.7 495.2L309.6 498.6L310.3 499.1L314.4 502.6L315.8 503.9L319.2 507L321.2 508.7L324.1 510.8L328.4 513.5L328.9 513.7L333.7 515.6L338.6 516.7L343.4 517.3L348.2 517.5L353.1 517.6L357.9 517.7L362.7 517.9L367.6 518.2L368.4 518.3L372.4 518.5L377.2 518.8L382.1 519L386.9 519L391.7 518.8L395.4 518.3L396.6 518.1L401.4 516.4L406.2 514L407.1 513.5L411.1 510.8L414.7 508.7L415.9 508L420.7 506.3L425.6 505.9L430.4 506.6L435.1 508.7L435.3 508.8L440.1 512L442.3 513.5L444.9 515.1L449.8 517.7L451 518.3L454.6 519.9L459.4 522L461.7 523L464.3 524.2L469.1 526.6L471.5 527.8L473.9 529.2L478.8 531.8L480.4 532.6L483.6 534.3L488.4 536.5L491 537.4L493.3 538.2L498.1 539.6L502.9 540.8L507.8 541.9L509.2 542.2L512.6 543L517.4 543.9L522.3 544.5L527.1 545L531.9 546.1L534.1 547L536.8 548.2L541.6 551.3L542.2 551.8L546.4 554.5L549.6 556.5L551.3 557.4L556.1 559.9L558.7 561.3L560.9 562.4L565.8 564.8L568.3 566.1L570.6 567.3L575.5 569.6L578 570.9L580.3 572L585.1 574.2L588.7 575.7L590 576.2L594.8 577.5L599.6 578.3L604.5 578.5L609.3 578.6L614.1 578.6L619 578.6L623.8 578.7L628.6 579.1L633.5 580.1L634.6 580.5L638.3 581.7L643.1 583.7L646.8 585.2L648 585.7L652.8 587.2L657.6 588L662.5 588.4L667.3 588.8L672.1 589.6L673.5 590L677 591L681.8 592.6L686.6 594.2L688.9 594.8L691.5 595.4L696.3 596.2L701.1 596.9L706 597.4L710.8 597.9L715.6 598.2L720.5 598.5L725.3 598.8L730.2 599.3L732.1 599.6L735 600.1L739.8 601.1L744.7 602.1L749.5 603L754.3 603.9L756.5 604.4L759.2 605L764 606.2L768.8 607.3L773.7 608L778.5 608.5L783.3 608.9L785.1 609.2L788.2 609.7L793 611.3L797.8 613.6L798.5 613.9L802.7 616.6L806.4 618.7L807.5 619.5L812.3 621.7L817.2 622.7L822 623.1L826.8 623.2L831.7 623.2L836.5 623.1L841.3 623.1L846.2 623L851 623L855.8 622.9L860.7 622.6L865.5 621.5L870.4 619.2L871 618.7L875.2 615.8L877.4 613.9L880 611.7L883 609.2L884.9 607.5L888.7 604.4L889.7 603.4L893.7 599.6L894.5 598.5L897.5 594.8L899.4 592.2L901.3 590L904.2 587.5L908.9 585.2L909 585.2L913.9 584.3L918.7 584L923.5 583.9L928.4 583.8L933.2 583.8L938 583.8L942.9 583.8L947.7 583.8L952.5 583.8L957.4 583.8L962.2 583.8L967 583.8L967 585.2L967 590L967 594.8L967 599.6L967 603.4L962.2 603.4L957.4 603.4L952.5 603.4L947.7 603.4L942.9 603.4L938 603.5L933.2 603.8L930.4 604.4L928.4 604.8L923.5 607.3L921.3 609.2L918.7 612L917.1 613.9L913.9 617.5L912.3 618.7L909 620.7L904.2 622.1L899.4 622.9L895.3 623.5L894.5 623.6L889.7 625.4L885.4 628.3L884.9 628.8L881.5 633.1L880 636.5L879.5 637.9L878.8 642.6L878.6 647.4L878.6 652.2L875.2 652.2L870.4 652.2L865.5 652.2L860.7 652.2L855.8 652.2L851 652.2L846.2 652.2L841.3 652.2L836.5 652.2L831.7 652.2L826.8 652.2L822 652.2L817.2 652.2L812.3 652.2L807.5 652.2L802.7 652.2L799.9 652.2L799.9 647.4L799.7 642.6L799 637.9L797.8 635L797 633.1L793.1 628.3L793 628.2L788.2 625.3L783.3 623.7L782.2 623.5L778.5 622.9L773.7 621.9L768.8 619.9L766.9 618.7L764 617.3L759.2 614.8L757.5 613.9L754.3 612.8L749.5 611.5L744.7 610.6L739.8 609.9L735 609.3L733.1 609.2L730.2 608.9L725.3 608.7L720.5 608.5L715.6 608.2L710.8 607.5L706 606.5L701.1 605.3L697.1 604.4L696.3 604.2L691.5 603.2L686.6 602.3L681.8 601.2L677 600.1L674.5 599.6L672.1 599.1L667.3 598.5L662.5 598.3L657.6 598L652.8 597.3L648 596.1L644.5 594.8L643.1 594.3L638.3 592.3L633.5 590.5L631.6 590L628.6 589.4L623.8 588.8L619 588.6L614.1 588.5L609.3 588.4L604.5 588.4L599.6 588.1L594.8 587.4L590 586.1L587.9 585.2L585.1 584.2L580.3 582L576.9 580.5L575.5 579.8L570.6 577.6L566.3 575.7L565.8 575.4L560.9 573.2L556.1 571.1L555.6 570.9L551.3 569.3L546.4 567.8L541.6 566.3L540.9 566.1L536.8 564.6L531.9 562.7L527.8 561.3L527.1 561.1L522.3 559.7L517.4 558.4L512.6 557L511.3 556.5L507.8 555.2L502.9 553.2L499.4 551.8L498.1 551.3L493.3 549.7L488.4 548.4L483.7 547L483.6 546.9L478.8 545L473.9 542.2L473.9 542.2L469.1 538.8L467.1 537.4L464.3 535.6L459.4 532.8L458.9 532.6L454.6 530.9L449.8 529.3L444.9 528L444.3 527.8L440.1 526.7L435.3 525.6L430.4 524.9L425.6 524.7L420.7 524.9L415.9 525.6L411.1 526.7L406.2 527.8L405.9 527.8L401.4 528.6L396.6 529.1L391.7 529.4L386.9 529.4L382.1 529.2L377.2 528.7L372.7 527.8L372.4 527.8L367.6 526.8L362.7 525.8L357.9 525.2L353.1 524.9L348.2 524.7L343.4 524.6L338.6 524.3L333.7 523.6L330.7 523L328.9 522.6L324.1 521.2L319.2 519.3L317.1 518.3L314.4 516.7L309.6 513.7L309.1 513.5L304.7 510.1L302.9 508.7L299.9 506.2L297.3 503.9L295.1 502.1L291.5 499.1L290.2 498.2L285.4 495.1L284.1 494.3L280.6 492.7L275.7 490.8L271.8 489.6L270.9 489.3L266 487.8L261.2 485.8L259.3 484.8L256.4 483.4L251.5 480.6L250.5 480L246.7 478.4L241.9 476.5L237.6 475.2L237 475.1L232.2 474.2L227.4 473.6L222.5 472.9L217.7 472L212.9 471L210.2 470.4L208 470.1L203.2 469.4L198.4 468.9L193.5 468.7L188.7 468.6L183.9 468.4L179 468.2L174.2 467.8L169.4 467.2L164.5 466.7L159.7 466.2L154.9 466L150 466L145.2 466.1L140.4 466.5L135.5 467.2L130.7 468.2L125.8 469.3L121 470.3L119.5 470.4L116.2 470.9L111.3 471.1L106.5 471.2L101.7 471.2L96.8 471.2L92 471.2L87.2 471.2L82.3 471.2L82.3 470.4L82.3 465.6L82.3 461.2L87.2 461.2L92 461.2L96.8 461.2L101.7 461.2L106.5 461.1L111.3 461Z"/>
<path fill="#C0E4F8" fill-rule="evenodd" d="M564 82.9L565.8 82.9L570.6 82.9L575.5 82.9L580.3 82.9L585.1 82.9L590 82.9L594.8 82.9L599.6 82.9L604.5 82.9L609.3 82.9L614.1 82.9L615.9 82.9L615.9 87.7L615.8 92.5L615.3 97.3L614.1 101.4L613.9 102.1L611.4 106.9L609.3 110L608.3 111.6L605.6 116.4L604.5 118.3L602.7 121.2L599.6 125.1L598.2 126L594.8 127.6L590 127L588.5 126L585.1 123.3L583.3 121.2L580.3 118L578.8 116.4L575.5 113.6L573 111.6L570.6 109.6L568.1 106.9L565.8 102.6L565.6 102.1L564.5 97.3L564.1 92.5L564 87.7ZM741 82.9L744.7 82.9L749.5 82.9L754.3 82.9L759.2 82.9L764 82.9L768.8 82.9L773.7 82.9L778.5 82.9L783.3 82.9L788.2 82.9L793 82.9L797.8 82.9L802.7 82.9L807.5 82.9L812.3 82.9L817.2 82.9L822 82.9L826.8 82.9L831.7 82.9L836.5 82.9L841.3 82.9L846.2 82.9L851 82.9L855.8 82.9L860.7 82.9L865.5 82.9L870.4 82.9L875.2 82.9L880 82.9L884.9 82.9L889.7 82.9L894.5 82.9L898.2 82.9L898.2 87.7L898.1 92.5L897.8 97.3L896.7 102.1L894.5 106.3L894.2 106.9L889.7 111.3L889.3 111.6L884.9 115.5L883.9 116.4L880.8 121.2L880 123.5L879.3 126L878.7 130.8L878.2 135.6L877.3 140.3L875.2 145L875.1 145.1L870.8 149.9L870.4 150.3L865.5 154.2L864.9 154.7L860.7 159L860.2 159.5L855.8 164.2L855.8 164.3L851 166.7L846.2 166.5L842.7 164.3L841.3 163.3L838 159.5L836.5 157.9L833.2 154.7L831.7 153.4L827.2 149.9L826.8 149.6L822.1 145.1L822 145L817.8 140.3L817.2 139.7L812.3 136.7L807.5 136.6L802.7 139.4L801.7 140.3L797.8 144.7L797.4 145.1L793 149.5L792.5 149.9L788.2 153.9L787.3 154.7L784.8 159.5L785 164.3L788.1 169L788.2 169.1L793 173.4L793.4 173.8L797.8 178.4L798 178.6L801.7 183.4L802.7 184.5L806.4 188.2L807.5 189.1L812.3 192.9L812.4 193L817.2 197.7L817.2 197.8L821 202.5L822 203.7L825.5 207.3L826.8 208.5L831.4 212.1L831.7 212.3L836.5 216.9L836.5 216.9L840.3 221.7L841.3 223L844.6 226.5L846.2 227.9L850.5 231.2L851 231.7L855.7 236L855.8 236.2L859.5 240.8L860.7 242.2L863.7 245.6L865.5 247.2L869.4 250.4L870.4 251.1L874.4 255.2L875.2 256.4L877 259.9L878.1 264.7L878.5 269.5L878.5 274.3L878.6 279.1L878.5 283.9L878.5 288.6L878.1 293.4L877 298.2L875.2 301.7L874.2 303L870.4 306L865.5 307.8L865.5 307.8L860.7 308.5L855.8 308.7L851 308.7L846.2 308.7L841.3 308.7L836.5 308.7L831.7 308.7L826.8 308.7L822 308.8L817.2 309L812.3 309.8L807.5 311.7L806.4 312.6L802.7 316.9L802.4 317.3L800.9 322.1L800.2 326.9L799.7 331.7L798.8 336.5L797.8 338.7L796.6 341.3L793 345.2L792 346L788.2 348.5L784.6 350.8L783.3 351.5L778.5 354.3L776.3 355.6L773.7 356.6L768.8 358.3L764 359.6L759.9 360.4L759.2 360.5L754.3 361.2L749.5 361.6L744.7 361.9L739.8 362L735 362L730.2 361.9L725.3 361.8L720.5 361.6L715.6 361.5L710.8 361.4L706 361.2L701.1 361L697.6 360.4L696.3 360.1L691.5 357.1L690.2 355.6L687.4 350.8L686.6 348.6L685.8 346L685.1 341.3L685.6 336.5L686.6 334.5L689.3 331.7L691.5 330.3L696.3 328.9L701.1 328.3L706 327.5L707.4 326.9L710.8 325.5L715.6 322.2L715.7 322.1L720.4 317.3L720.5 317.2L724.8 312.6L725.3 312L729.6 307.8L730.2 307.2L733.7 303L735 300.1L735.8 298.2L735 294.4L734.7 293.4L730.2 288.6L730.2 288.6L725.3 284.2L725 283.9L721.1 279.1L720.5 278.3L716.7 274.3L715.6 273.4L710.8 270.9L706 269.9L701.1 269.5L700.6 269.5L696.3 269.4L691.5 269.4L686.6 269.4L685.2 269.5L681.8 269.6L677 270.4L672.1 272.5L669.8 274.3L667.3 276.8L665.6 279.1L663.5 283.9L662.7 288.6L662.5 290.3L662.1 293.4L661.2 298.2L659.1 303L657.6 305L655.4 307.8L652.8 310.6L651 312.6L648 316.6L647.4 317.3L645.4 322.1L643.6 326.9L643.1 327.3L638.3 328.8L633.5 329.6L628.6 330.5L623.8 331.4L622.4 331.7L619 332.2L614.1 332.7L609.3 332.9L604.5 332.9L599.6 332.7L594.8 332.2L591.8 331.7L590 331.4L585.1 330.4L580.3 329.5L575.5 328.8L570.6 328.4L565.8 328.2L560.9 328.1L556.1 328.1L551.3 328.1L546.4 328L541.6 328L536.8 328L531.9 328L527.1 328.1L522.3 328.1L517.4 328.3L512.6 328.7L507.8 329.4L502.9 330.3L498.1 331.2L494.9 331.7L493.3 331.9L488.4 332.3L483.6 332.3L478.8 332L476.9 331.7L473.9 331.1L469.1 329.3L464.3 327L464.1 326.9L459.4 323.4L458 322.1L455.5 317.3L455.7 312.6L457.9 307.8L459.4 305.1L460.8 303L463.5 298.2L464.3 295.7L465 293.4L465.5 288.6L465.7 283.9L465.7 279.1L465.7 274.3L465.8 269.5L466.1 264.7L467 259.9L469.1 255.3L469.2 255.2L472.8 250.4L473.9 249.2L477 245.6L478.8 242.7L479.8 240.8L479.7 236L478.8 234.5L476.3 231.2L473.9 229.2L471 226.5L469.1 224.5L466.7 221.7L464.3 218.7L462.6 216.9L459.4 214.3L454.8 212.1L454.6 212L449.8 211.2L444.9 210.9L440.1 210.8L435.3 210.8L430.4 210.7L425.6 210.7L420.7 210.6L415.9 210.6L411.1 210.5L406.2 210.5L401.4 210.5L396.6 210.5L391.7 210.5L386.9 210.6L382.1 210.9L377.2 211.7L375.6 212.1L372.4 212.8L367.6 214L362.7 215L357.9 215.6L353.1 216.1L348.2 216.5L346.6 216.9L343.4 217.8L338.6 221.6L338.5 221.7L336.5 226.5L335.1 231.2L333.7 235.9L333.7 236L331.8 240.8L328.9 245.3L328.7 245.6L324.8 250.4L324.1 251.1L320.8 255.2L319.2 257.3L317.7 259.9L315.5 264.7L314.4 267.7L313.7 269.5L311.8 274.3L309.6 278.9L309.5 279.1L305.9 283.9L304.7 285.1L299.9 288.5L299.6 288.6L295.1 290.6L290.2 292L285.4 292.9L280.9 293.4L280.6 293.5L275.7 293.8L270.9 293.9L266 294L261.2 294L256.4 294L251.5 294L246.7 294L241.9 294L237 294L232.2 294L227.4 294L222.5 294L217.7 294L212.9 293.9L208 293.9L203.2 293.7L199.4 293.4L198.4 293.3L193.5 292.7L188.7 291.8L183.9 290.7L179 289.8L174.2 289.2L169.4 288.7L169.1 288.6L164.5 287.7L159.7 285.8L156.7 283.9L154.9 282.8L150 279.6L149.1 279.1L145.2 277.1L140.4 275.3L136.7 274.3L135.5 274L130.7 272.8L125.8 271.6L121 270.6L116.2 269.9L111.3 269.7L106.5 269.6L101.7 269.6L96.8 269.6L92 269.6L87.2 269.6L82.3 269.6L82.3 269.5L82.3 264.7L82.3 259.9L82.3 255.2L87.2 255.2L92 255.2L96.8 255.2L101.7 255.2L106.5 255.2L111.3 255.2L116.2 255.5L121 256.2L125.8 257.5L130.7 259.3L132.2 259.9L135.5 261.3L140.4 263L145.2 264.4L146.4 264.7L150 265.7L154.9 267.1L159.7 268.9L161.2 269.5L164.5 270.8L169.4 272.5L174.2 273.8L176.2 274.3L179 275.1L183.9 276.6L188.7 278.5L190.1 279.1L193.5 280.5L198.4 282.1L203.2 283.2L208 283.7L211 283.9L212.9 283.9L217.7 284.1L222.5 284.1L227.4 284.1L232.2 284.1L237 284.1L241.9 284.1L246.7 284.1L251.5 284.1L256.4 284.1L261.2 284.1L266 284.1L270.9 284L272.7 283.9L275.7 283.6L280.6 282.8L285.4 281.3L290.2 279.1L290.3 279.1L295.1 276.4L297.9 274.3L299.9 272.8L302.9 269.5L304.7 267.1L306.2 264.7L308.8 259.9L309.6 258.5L311.4 255.2L314.4 250.5L314.5 250.4L318 245.6L319.2 243.8L321.4 240.8L323.9 236L324.1 235.6L325.7 231.2L327 226.5L328.3 221.7L328.9 220.1L330.2 216.9L333 212.1L333.7 211.1L338.6 207.4L338.8 207.3L343.4 205.7L348.2 205.1L353.1 204.7L357.9 203.8L361.8 202.5L362.7 202.1L367.6 199.4L370.3 197.8L372.4 196.2L377.2 193.4L378.5 193L382.1 191.7L386.9 191.1L391.7 190.9L396.6 190.9L401.4 190.8L406.2 190.8L411.1 190.7L415.9 190.6L420.7 190.6L425.6 190.6L430.4 190.6L435.3 190.6L440.1 190.6L444.9 190.5L449.8 190.2L454.6 189.3L457.5 188.2L459.4 187.2L463.7 183.4L464.3 182.8L467.8 178.6L469.1 177.3L473.8 173.8L473.9 173.8L478.8 172.2L483.6 171.5L488.4 171.3L493.3 171.3L498.1 171.3L502.9 171.3L507.8 171.6L512.6 172.4L516.1 173.8L517.4 174.6L521.5 178.6L522.3 180.2L523.6 183.4L524.4 188.2L524.6 193L524.7 197.8L524.6 202.5L524.5 207.3L524.1 212.1L523 216.9L522.3 218.4L520.5 221.7L517.4 225.5L516.5 226.5L512.6 230.2L511.4 231.2L507.8 234.9L506.8 236L502.9 240.7L502.8 240.8L498.9 245.6L498.1 246.4L494.7 250.4L493.3 252L490.7 255.2L488.4 258.8L487.7 259.9L486.1 264.7L485.4 269.5L485.2 274.3L485.2 279.1L485.2 283.9L485.1 288.6L484.9 293.4L484.1 298.2L483.6 299.5L482.2 303L478.8 307.8L478.8 307.8L475.6 312.6L475.8 317.3L478.8 319.3L483.6 320.9L488.4 321.5L493.3 321.6L498.1 321.5L502.9 321.2L507.8 320.9L512.6 320.7L517.4 320.5L522.3 320.5L527.1 320.5L531.9 320.5L536.8 320.5L541.6 320.5L546.4 320.5L551.3 320.5L556.1 320.5L560.9 320.5L565.8 320.5L570.6 320.6L575.5 320.8L580.3 321.2L585.1 321.7L589.5 322.1L590 322.2L594.8 322.5L599.6 322.7L604.5 322.7L609.3 322.3L610.6 322.1L614.1 321.4L619 319.5L622.8 317.3L623.8 316.7L628.6 312.7L628.8 312.6L633.5 307.8L633.5 307.8L637.4 303L638.3 301.6L640.3 298.2L641.9 293.4L642.5 288.6L643 283.9L643.1 283.4L644.1 279.1L646.4 274.3L648 272.4L650.5 269.5L652.8 267.3L655.3 264.7L657.6 261.9L659.1 259.9L661.2 255.2L662.1 250.4L662.5 247.3L662.7 245.6L663.8 240.8L666.1 236L667.3 234.6L670.8 231.2L672.1 230.2L676.7 226.5L677 226.2L681 221.7L681.8 220.6L684.8 216.9L686.6 214.9L689.8 212.1L691.5 210.7L695.5 207.3L696.3 206.4L699 202.5L700.7 197.8L701.1 194.7L701.4 193L701.6 188.2L701.6 183.4L701.7 178.6L701.7 173.8L701.9 169L702.6 164.3L704.3 159.5L706 157L708 154.7L710.8 152.2L713.5 149.9L715.6 147.8L717.8 145.1L720 140.3L720.5 138L721 135.6L721.4 130.8L722 126L723.5 121.2L725.3 118.1L726.6 116.4L730.2 113.2L732 111.6L735 109L736.9 106.9L739.4 102.1L739.8 100.3L740.5 97.3L740.9 92.5L740.9 87.7ZM754.3 310.4L749.8 312.6L749.5 312.7L744.7 316.8L744.1 317.3L739.8 322L739.7 322.1L735 326.9L735 327L730.4 331.7L730.2 332.1L727.5 336.5L727.4 341.3L730.2 344.3L733.6 346L735 346.4L739.8 346.9L744.7 346.9L749.5 346.1L749.8 346L754.3 343.9L757.6 341.3L759.2 339.6L761.7 336.5L764 333.8L766.1 331.7L768.8 329.2L771.4 326.9L773.7 324.2L775.1 322.1L775.6 317.3L773.7 313.6L772.8 312.6L768.8 310.5L764 309.4L759.2 309.4ZM119.5 470.4L121 470.3L125.8 469.3L130.7 468.2L135.5 467.2L140.4 466.5L145.2 466.1L150 466L154.9 466L159.7 466.2L164.5 466.7L169.4 467.2L174.2 467.8L179 468.2L183.9 468.4L188.7 468.6L193.5 468.7L198.4 468.9L203.2 469.4L208 470.1L210.2 470.4L212.9 471L217.7 472L222.5 472.9L227.4 473.6L232.2 474.2L237 475.1L237.6 475.2L241.9 476.5L246.7 478.4L250.5 480L251.5 480.6L256.4 483.4L259.3 484.8L261.2 485.8L266 487.8L270.9 489.3L271.8 489.6L275.7 490.8L280.6 492.7L284.1 494.3L285.4 495.1L290.2 498.2L291.5 499.1L295.1 502.1L297.3 503.9L299.9 506.2L302.9 508.7L304.7 510.1L309.1 513.5L309.6 513.7L314.4 516.7L317.1 518.3L319.2 519.3L324.1 521.2L328.9 522.6L330.7 523L333.7 523.6L338.6 524.3L343.4 524.6L348.2 524.7L353.1 524.9L357.9 525.2L362.7 525.8L367.6 526.8L372.4 527.8L372.7 527.8L377.2 528.7L382.1 529.2L386.9 529.4L391.7 529.4L396.6 529.1L401.4 528.6L405.9 527.8L406.2 527.8L411.1 526.7L415.9 525.6L420.7 524.9L425.6 524.7L430.4 524.9L435.3 525.6L440.1 526.7L444.3 527.8L444.9 528L449.8 529.3L454.6 530.9L458.9 532.6L459.4 532.8L464.3 535.6L467.1 537.4L469.1 538.8L473.9 542.2L473.9 542.2L478.8 545L483.6 546.9L483.7 547L488.4 548.4L493.3 549.7L498.1 551.3L499.4 551.8L502.9 553.2L507.8 555.2L511.3 556.5L512.6 557L517.4 558.4L522.3 559.7L527.1 561.1L527.8 561.3L531.9 562.7L536.8 564.6L540.9 566.1L541.6 566.3L546.4 567.8L551.3 569.3L555.6 570.9L556.1 571.1L560.9 573.2L565.8 575.4L566.3 575.7L570.6 577.6L575.5 579.8L576.9 580.5L580.3 582L585.1 584.2L587.9 585.2L590 586.1L594.8 587.4L599.6 588.1L604.5 588.4L609.3 588.4L614.1 588.5L619 588.6L623.8 588.8L628.6 589.4L631.6 590L633.5 590.5L638.3 592.3L643.1 594.3L644.5 594.8L648 596.1L652.8 597.3L657.6 598L662.5 598.3L667.3 598.5L672.1 599.1L674.5 599.6L677 600.1L681.8 601.2L686.6 602.3L691.5 603.2L696.3 604.2L697.1 604.4L701.1 605.3L706 606.5L710.8 607.5L715.6 608.2L720.5 608.5L725.3 608.7L730.2 608.9L733.1 609.2L735 609.3L739.8 609.9L744.7 610.6L749.5 611.5L754.3 612.8L757.5 613.9L759.2 614.8L764 617.3L766.9 618.7L768.8 619.9L773.7 621.9L778.5 622.9L782.2 623.5L783.3 623.7L788.2 625.3L793 628.2L793.1 628.3L797 633.1L797.8 635L799 637.9L799.7 642.6L799.9 647.4L799.9 652.2L797.8 652.2L793 652.2L788.2 652.2L783.3 652.2L778.5 652.2L773.7 652.2L768.8 652.2L764 652.2L760.6 652.2L760.6 647.4L760.4 642.6L759.7 637.9L759.2 636.5L757.7 633.1L754.3 628.9L753.7 628.3L749.5 625.6L744.7 624L740.8 623.5L739.8 623.4L735 623.3L730.2 623.2L725.3 623.2L720.5 623.1L715.6 622.7L710.8 621.7L706 619.7L704.4 618.7L701.1 617.1L696.3 614.4L695.5 613.9L691.5 612.7L686.6 611.4L681.8 610.4L677 609.6L673.2 609.2L672.1 609L667.3 608.7L662.5 608.6L657.6 608.5L652.8 608.2L648 607.6L643.1 606.7L638.3 605.3L635.6 604.4L633.5 603.6L628.6 601.9L623.8 600.4L620 599.6L619 599.4L614.1 598.8L609.3 598.5L604.5 598.3L599.6 598L594.8 597.5L590 596.4L585.5 594.8L585.1 594.7L580.3 592.7L575.5 590.7L573.6 590L570.6 589L565.8 587.6L560.9 586.2L558.4 585.2L556.1 584.4L551.3 582.6L546.4 580.9L545 580.5L541.6 579.5L536.8 578.1L531.9 576.6L529.4 575.7L527.1 574.7L522.3 572.7L517.6 570.9L517.4 570.8L512.6 569.4L507.8 568.1L502.9 566.8L500.9 566.1L498.1 565.1L493.3 563.3L488.4 561.6L487.7 561.3L483.6 560.1L478.8 558.7L473.9 557.2L472.4 556.5L469.1 554.9L464.3 552.1L463.7 551.8L459.4 548.9L455.7 547L454.6 546.4L449.8 545L444.9 544.4L440.1 543.8L435.3 542.9L432.3 542.2L430.4 541.7L425.6 540.6L420.7 539.8L415.9 539.3L411.1 539.1L406.2 539.1L401.4 539.2L396.6 539.3L391.7 539.4L386.9 539.3L382.1 539.1L377.2 538.5L372.5 537.4L372.4 537.4L367.6 536L362.7 534.5L357.9 533.3L353.1 532.7L352 532.6L348.2 532.4L343.4 532.3L338.6 532.2L333.7 531.9L328.9 531.4L324.1 530.7L319.2 529.4L315.3 527.8L314.4 527.5L309.6 525.2L305.3 523L304.7 522.7L299.9 520.3L296 518.3L295.1 517.7L290.2 514.7L288.4 513.5L285.4 511.2L282.2 508.7L280.6 507.5L275.7 504.4L274.6 503.9L270.9 502.4L266 500.9L261.2 499.5L260.1 499.1L256.4 497.7L251.5 495.3L250 494.3L246.7 492L243.5 489.6L241.9 488.4L237 485.5L235.6 484.8L232.2 483.6L227.4 482.3L222.5 481.1L218.2 480L217.7 479.9L212.9 478.7L208 477.4L203.2 476.2L198.4 475.3L197.4 475.2L193.5 475L188.7 474.8L183.9 474.7L179 474.6L174.2 474.4L169.4 474.2L164.5 473.9L159.7 473.8L154.9 473.9L150 474.1L145.2 474.6L141.8 475.2L140.4 475.7L135.5 477.8L130.9 480L130.7 480.1L125.8 482.9L121 484.5L119.6 484.8L116.2 485.4L111.3 485.7L106.5 485.8L101.7 485.8L96.8 485.8L92 485.8L87.2 485.8L82.3 485.8L82.3 484.8L82.3 480L82.3 475.2L82.3 471.2L87.2 471.2L92 471.2L96.8 471.2L101.7 471.2L106.5 471.2L111.3 471.1L116.2 470.9ZM930.4 604.4L933.2 603.8L938 603.5L942.9 603.4L947.7 603.4L952.5 603.4L957.4 603.4L962.2 603.4L967 603.4L967 604.4L967 609.2L967 613.9L967 618.7L967 623.5L967 628.3L967 633.1L967 637.9L967 642.6L967 647.4L967 652.2L962.2 652.2L957.4 652.2L952.5 652.2L947.7 652.2L942.9 652.2L938 652.2L933.2 652.2L928.4 652.2L923.5 652.2L918.7 652.2L913.9 652.2L909 652.2L904.2 652.2L899.4 652.2L894.5 652.2L889.7 652.2L884.9 652.2L880 652.2L878.6 652.2L878.6 647.4L878.8 642.6L879.5 637.9L880 636.5L881.5 633.1L884.9 628.8L885.4 628.3L889.7 625.4L894.5 623.6L895.3 623.5L899.4 622.9L904.2 622.1L909 620.7L912.3 618.7L913.9 617.5L917.1 613.9L918.7 612L921.3 609.2L923.5 607.3L928.4 604.8Z"/>
<path fill="#FFF8A0" fill-rule="evenodd" d="M426.4 82.9L430.4 82.9L435.3 82.9L440.1 82.9L444.9 82.9L449.8 82.9L454.6 82.9L459.4 82.9L464.3 82.9L469.1 82.9L473.9 82.9L478.8 82.9L483.6 82.9L488.4 82.9L493.3 82.9L498.1 82.9L502.9 82.9L507.8 82.9L512.6 82.9L517.4 82.9L522.3 82.9L527.1 82.9L531.9 82.9L536.8 82.9L541.6 82.9L546.4 82.9L551.3 82.9L556.1 82.9L560.9 82.9L564 82.9L564 87.7L564.1 92.5L564.5 97.3L565.6 102.1L565.8 102.6L568.1 106.9L570.6 109.6L573 111.6L575.5 113.6L578.8 116.4L580.3 118L583.3 121.2L585.1 123.3L588.5 126L590 127L594.8 127.6L598.2 126L599.6 125.1L602.7 121.2L604.5 118.3L605.6 116.4L608.3 111.6L609.3 110L611.4 106.9L613.9 102.1L614.1 101.4L615.3 97.3L615.8 92.5L615.9 87.7L615.9 82.9L619 82.9L623.8 82.9L628.6 82.9L633.5 82.9L638.3 82.9L643.1 82.9L648 82.9L652.8 82.9L657.6 82.9L662.5 82.9L667.3 82.9L672.1 82.9L677 82.9L681.8 82.9L686.6 82.9L691.5 82.9L696.3 82.9L701.1 82.9L706 82.9L710.8 82.9L715.6 82.9L720.5 82.9L725.3 82.9L730.2 82.9L735 82.9L739.8 82.9L741 82.9L740.9 87.7L740.9 92.5L740.5 97.3L739.8 100.3L739.4 102.1L736.9 106.9L735 109L732 111.6L730.2 113.2L726.6 116.4L725.3 118.1L723.5 121.2L722 126L721.4 130.8L721 135.6L720.5 138L720 140.3L717.8 145.1L715.6 147.8L713.5 149.9L710.8 152.2L708 154.7L706 157L704.3 159.5L702.6 164.3L701.9 169L701.7 173.8L701.7 178.6L701.6 183.4L701.6 188.2L701.4 193L701.1 194.7L700.7 197.8L699 202.5L696.3 206.4L695.5 207.3L691.5 210.7L689.8 212.1L686.6 214.9L684.8 216.9L681.8 220.6L681 221.7L677 226.2L676.7 226.5L672.1 230.2L670.8 231.2L667.3 234.6L666.1 236L663.8 240.8L662.7 245.6L662.5 247.3L662.1 250.4L661.2 255.2L659.1 259.9L657.6 261.9L655.3 264.7L652.8 267.3L650.5 269.5L648 272.4L646.4 274.3L644.1 279.1L643.1 283.4L643 283.9L642.5 288.6L641.9 293.4L640.3 298.2L638.3 301.6L637.4 303L633.5 307.8L633.5 307.8L628.8 312.6L628.6 312.7L623.8 316.7L622.8 317.3L619 319.5L614.1 321.4L610.6 322.1L609.3 322.3L604.5 322.7L599.6 322.7L594.8 322.5L590 322.2L589.5 322.1L585.1 321.7L580.3 321.2L575.5 320.8L570.6 320.6L565.8 320.5L560.9 320.5L556.1 320.5L551.3 320.5L546.4 320.5L541.6 320.5L536.8 320.5L531.9 320.5L527.1 320.5L522.3 320.5L517.4 320.5L512.6 320.7L507.8 320.9L502.9 321.2L498.1 321.5L493.3 321.6L488.4 321.5L483.6 320.9L478.8 319.3L475.8 317.3L475.6 312.6L478.8 307.8L478.8 307.8L482.2 303L483.6 299.5L484.1 298.2L484.9 293.4L485.1 288.6L485.2 283.9L485.2 279.1L485.2 274.3L485.4 269.5L486.1 264.7L487.7 259.9L488.4 258.8L490.7 255.2L493.3 252L494.7 250.4L498.1 246.4L498.9 245.6L502.8 240.8L502.9 240.7L506.8 236L507.8 234.9L511.4 231.2L512.6 230.2L516.5 226.5L517.4 225.5L520.5 221.7L522.3 218.4L523 216.9L524.1 212.1L524.5 207.3L524.6 202.5L524.7 197.8L524.6 193L524.4 188.2L523.6 183.4L522.3 180.2L521.5 178.6L517.4 174.6L516.1 173.8L512.6 172.4L507.8 171.6L502.9 171.3L498.1 171.3L493.3 171.3L488.4 171.3L483.6 171.5L478.8 172.2L473.9 173.8L473.8 173.8L469.1 177.3L467.8 178.6L464.3 182.8L463.7 183.4L459.4 187.2L457.5 188.2L454.6 189.3L449.8 190.2L444.9 190.5L440.1 190.6L435.3 190.6L430.4 190.6L425.6 190.6L420.7 190.6L415.9 190.6L411.1 190.7L406.2 190.8L401.4 190.8L396.6 190.9L391.7 190.9L386.9 191.1L382.1 191.7L378.5 193L377.2 193.4L372.4 196.2L370.3 197.8L367.6 199.4L362.7 202.1L361.8 202.5L357.9 203.8L353.1 204.7L348.2 205.1L343.4 205.7L338.8 207.3L338.6 207.4L333.7 211.1L333 212.1L330.2 216.9L328.9 220.1L328.3 221.7L327 226.5L325.7 231.2L324.1 235.6L323.9 236L321.4 240.8L319.2 243.8L318 245.6L314.5 250.4L314.4 250.5L311.4 255.2L309.6 258.5L308.8 259.9L306.2 264.7L304.7 267.1L302.9 269.5L299.9 272.8L297.9 274.3L295.1 276.4L290.3 279.1L290.2 279.1L285.4 281.3L280.6 282.8L275.7 283.6L272.7 283.9L270.9 284L266 284.1L261.2 284.1L256.4 284.1L251.5 284.1L246.7 284.1L241.9 284.1L237 284.1L232.2 284.1L227.4 284.1L222.5 284.1L217.7 284.1L212.9 283.9L211 283.9L208 283.7L203.2 283.2L198.4 282.1L193.5 280.5L190.1 279.1L188.7 278.5L183.9 276.6L179 275.1L176.2 274.3L174.2 273.8L169.4 272.5L164.5 270.8L161.2 269.5L159.7 268.9L154.9 267.1L150 265.7L146.4 264.7L145.2 264.4L140.4 263L135.5 261.3L132.2 259.9L130.7 259.3L125.8 257.5L121 256.2L116.2 255.5L111.3 255.2L106.5 255.2L101.7 255.2L96.8 255.2L92 255.2L87.2 255.2L82.3 255.2L82.3 255.2L82.3 250.4L82.3 245.6L82.3 244.3L87.2 244.3L92 244.3L96.8 244.3L101.7 244.3L106.5 244.3L111.3 244.4L116.2 244.5L121 244.7L125.8 245.3L127.5 245.6L130.7 246.1L135.5 247.2L140.4 248.3L145.2 249.1L150 249.7L154.9 250.3L154.9 250.4L159.7 251.8L164.5 254.4L165.6 255.2L169.4 257.5L173.1 259.9L174.2 260.5L179 262.6L183.9 264.2L185.9 264.7L188.7 265.5L193.5 266.8L198.4 268.5L200.8 269.5L203.2 270.4L208 271.9L212.9 273L217.7 273.7L222.5 274.1L227.4 274.2L231.1 274.3L232.2 274.3L237 274.3L241.9 274.3L246.7 274.3L251.5 274.3L256.4 274.3L261.2 274.3L263.9 274.3L266 274.3L270.9 274.1L275.7 273.6L280.6 272.5L285.4 270.7L287.8 269.5L290.2 268.2L295.1 264.9L295.3 264.7L299.7 259.9L299.9 259.7L302.8 255.2L304.7 252L305.7 250.4L308.6 245.6L309.6 243.9L311.5 240.8L314.1 236L314.4 235.3L316.2 231.2L318 226.5L319.2 222.8L319.5 221.7L320.8 216.9L322.1 212.1L323.7 207.3L324.1 206.5L326 202.5L328.9 198.1L329.2 197.8L333.7 193.9L335.9 193L338.6 191.9L343.4 190.9L348.2 190.3L353.1 189.5L356.5 188.2L357.9 187.6L362.7 183.9L363.3 183.4L367.6 179L368.1 178.6L372.4 175L374.7 173.8L377.2 172.7L382.1 171.6L386.9 171.1L391.7 170.6L396.6 169.6L397.7 169L401.4 167L404.3 164.3L406.2 162.1L408.3 159.5L411.1 156.3L412.8 154.7L415.9 152.1L418.6 149.9L420.7 147.8L422.9 145.1L425.1 140.3L425.6 137.9L426 135.6L426.3 130.8L426.4 126L426.4 121.2L426.4 116.4L426.4 111.6L426.4 106.9L426.4 102.1L426.4 97.3L426.4 92.5L426.4 87.7ZM575.5 192.2L573.5 193L570.6 194.4L566.6 197.8L565.8 198.7L562.6 202.5L560.9 204.5L558.1 207.3L556.1 209L552.2 212.1L551.3 212.9L547.3 216.9L546.4 217.9L543.8 221.7L541.6 224.5L540.1 226.5L536.8 229.9L535.4 231.2L531.9 234.5L530.4 236L527.1 239.5L525.9 240.8L522.3 244.7L521.4 245.6L517.4 249.2L516.2 250.4L512.6 253.3L510.7 255.2L507.8 258.1L506.3 259.9L503.4 264.7L502.9 266L501.7 269.5L500.8 274.3L500.5 279.1L500.8 283.9L501.6 288.6L502.9 293.4L502.9 293.5L505 298.2L507.8 302.4L508.4 303L512.6 305.9L517.4 307.5L519.7 307.8L522.3 308.1L527.1 308.2L531.9 308.2L536.8 308.2L541.6 308.2L546.4 308.1L551.3 308.1L556.1 308.1L560.9 308.1L565.8 308.1L570.6 308.1L575.5 308.1L580.3 308.1L585.1 308.1L590 308.2L594.8 308.2L599.6 308.1L604.5 307.9L605 307.8L609.3 306.8L614.1 304.3L615.7 303L619 298.7L619.2 298.2L620.2 293.4L619.8 288.6L619 284.4L618.8 283.9L618.3 279.1L619 274.3L619 274.3L620.2 269.5L621.4 264.7L622.3 259.9L622.7 255.2L622.9 250.4L623 245.6L623 240.8L623 236L622.9 231.2L622.6 226.5L621.6 221.7L619.5 216.9L619 216.2L615 212.1L614.1 211.4L609.3 207.4L609.2 207.3L604.7 202.5L604.5 202.2L600.8 197.8L599.6 196.6L594.8 193.3L594 193L590 191.7L585.1 191.2L580.3 191.3ZM749.8 312.6L754.3 310.4L759.2 309.4L764 309.4L768.8 310.5L772.8 312.6L773.7 313.6L775.6 317.3L775.1 322.1L773.7 324.2L771.4 326.9L768.8 329.2L766.1 331.7L764 333.8L761.7 336.5L759.2 339.6L757.6 341.3L754.3 343.9L749.8 346L749.5 346.1L744.7 346.9L739.8 346.9L735 346.4L733.6 346L730.2 344.3L727.4 341.3L727.5 336.5L730.2 332.1L730.4 331.7L735 327L735 326.9L739.7 322.1L739.8 322L744.1 317.3L744.7 316.8L749.5 312.7ZM141.8 475.2L145.2 474.6L150 474.1L154.9 473.9L159.7 473.8L164.5 473.9L169.4 474.2L174.2 474.4L179 474.6L183.9 474.7L188.7 474.8L193.5 475L197.4 475.2L198.4 475.3L203.2 476.2L208 477.4L212.9 478.7L217.7 479.9L218.2 480L222.5 481.1L227.4 482.3L232.2 483.6L235.6 484.8L237 485.5L241.9 488.4L243.5 489.6L246.7 492L250 494.3L251.5 495.3L256.4 497.7L260.1 499.1L261.2 499.5L266 500.9L270.9 502.4L274.6 503.9L275.7 504.4L280.6 507.5L282.2 508.7L285.4 511.2L288.4 513.5L290.2 514.7L295.1 517.7L296 518.3L299.9 520.3L304.7 522.7L305.3 523L309.6 525.2L314.4 527.5L315.3 527.8L319.2 529.4L324.1 530.7L328.9 531.4L333.7 531.9L338.6 532.2L343.4 532.3L348.2 532.4L352 532.6L353.1 532.7L357.9 533.3L362.7 534.5L367.6 536L372.4 537.4L372.5 537.4L377.2 538.5L382.1 539.1L386.9 539.3L391.7 539.4L396.6 539.3L401.4 539.2L406.2 539.1L411.1 539.1L415.9 539.3L420.7 539.8L425.6 540.6L430.4 541.7L432.3 542.2L435.3 542.9L440.1 543.8L444.9 544.4L449.8 545L454.6 546.4L455.7 547L459.4 548.9L463.7 551.8L464.3 552.1L469.1 554.9L472.4 556.5L473.9 557.2L478.8 558.7L483.6 560.1L487.7 561.3L488.4 561.6L493.3 563.3L498.1 565.1L500.9 566.1L502.9 566.8L507.8 568.1L512.6 569.4L517.4 570.8L517.6 570.9L522.3 572.7L527.1 574.7L529.4 575.7L531.9 576.6L536.8 578.1L541.6 579.5L545 580.5L546.4 580.9L551.3 582.6L556.1 584.4L558.4 585.2L560.9 586.2L565.8 587.6L570.6 589L573.6 590L575.5 590.7L580.3 592.7L585.1 594.7L585.5 594.8L590 596.4L594.8 597.5L599.6 598L604.5 598.3L609.3 598.5L614.1 598.8L619 599.4L620 599.6L623.8 600.4L628.6 601.9L633.5 603.6L635.6 604.4L638.3 605.3L643.1 606.7L648 607.6L652.8 608.2L657.6 608.5L662.5 608.6L667.3 608.7L672.1 609L673.2 609.2L677 609.6L681.8 610.4L686.6 611.4L691.5 612.7L695.5 613.9L696.3 614.4L701.1 617.1L704.4 618.7L706 619.7L710.8 621.7L715.6 622.7L720.5 623.1L725.3 623.2L730.2 623.2L735 623.3L739.8 623.4L740.8 623.5L744.7 624L749.5 625.6L753.7 628.3L754.3 628.9L757.7 633.1L759.2 636.5L759.7 637.9L760.4 642.6L760.6 647.4L760.6 652.2L759.2 652.2L754.3 652.2L749.5 652.2L744.7 652.2L739.8 652.2L735 652.2L730.2 652.2L725.3 652.2L720.5 652.2L715.6 652.2L710.8 652.2L706 652.2L701.1 652.2L696.3 652.2L691.5 652.2L686.6 652.2L682 652.2L682 647.4L681.9 642.6L681.8 641.7L681.5 637.9L680.3 633.1L677.5 628.3L677 627.8L672.1 624.9L667.3 623.7L665.5 623.5L662.5 623.3L657.6 623.2L652.8 623.2L648 623.1L643.1 623L638.3 622.7L633.5 621.8L628.6 619.8L627.1 618.7L623.8 616.7L620.1 613.9L619 613.3L614.1 611.2L609.3 610L604.5 609.5L599.6 609.2L599.6 609.2L594.8 608.8L590 608.2L585.1 607.3L580.3 606.1L575.5 604.9L572.9 604.4L570.6 603.9L565.8 603.4L560.9 602.7L556.1 601.4L552.6 599.6L551.3 599L546.4 595.8L545 594.8L541.6 592.9L536.8 590.6L535.2 590L531.9 589L527.1 587.7L522.3 586.5L517.4 585.4L516.7 585.2L512.6 584.4L507.8 583.8L502.9 583.2L498.1 582.1L494.5 580.5L493.3 579.9L488.4 576.9L486.7 575.7L483.6 573.8L478.8 571.3L477.6 570.9L473.9 569.6L469.1 568.3L464.3 567.1L460.2 566.1L459.4 565.9L454.6 564.8L449.8 564.2L444.9 563.8L440.1 563.3L435.3 562.1L433.5 561.3L430.4 559.9L425.7 556.5L425.6 556.5L420.7 553.7L416.1 551.8L415.9 551.7L411.1 550.9L406.2 550.7L401.4 550.6L396.6 550.6L391.7 550.6L386.9 550.5L382.1 550.4L377.2 550L372.4 549.3L367.6 548.2L363.1 547L362.7 546.9L357.9 545.8L353.1 545.1L348.2 544.8L343.4 544.8L338.6 544.7L333.7 544.7L328.9 544.5L324.1 543.9L319.2 542.5L318.6 542.2L314.4 540.2L310.2 537.4L309.6 537.1L304.7 534.2L301.6 532.6L299.9 531.8L295.1 530.1L290.2 528.6L287.5 527.8L285.4 527.2L280.6 525.4L276 523L275.7 522.9L270.9 519.4L269.5 518.3L266 515.9L262.2 513.5L261.2 513L256.4 511.3L251.5 509.7L249 508.7L246.7 507.9L241.9 505.5L239.7 503.9L237 502L233.5 499.1L232.2 498.2L227.4 494.9L226.4 494.3L222.5 492.6L217.7 491L212.9 489.7L212.4 489.6L208 488.6L203.2 487.5L198.4 486.7L193.5 486.2L188.7 486L183.9 485.9L179 485.9L174.2 486L169.4 486.2L164.5 486.7L159.7 488.1L156.9 489.6L154.9 491.1L151.9 494.3L150 496.7L147.9 499.1L145.2 501.9L142.7 503.9L140.4 505.7L136.8 508.7L135.5 509.9L132.5 513.5L130.7 515.8L128.6 518.3L125.8 521.2L123.7 523L121 525.2L118 527.8L116.2 530L114.4 532.6L112.8 537.4L112.1 542.2L111.9 547L111.9 551.8L111.8 556.5L111.8 561.3L111.6 566.1L111.3 567.6L110.8 570.9L109 575.7L106.5 578.9L104.5 580.5L101.7 582.1L96.8 583.3L92 583.7L87.2 583.8L82.3 583.9L82.3 580.5L82.3 575.7L82.3 570.9L82.3 566.1L82.3 561.3L82.3 556.5L82.3 551.8L82.3 547L82.3 542.2L82.3 537.4L82.3 532.6L82.3 527.8L82.3 523L82.3 518.3L82.3 513.5L82.3 508.7L82.3 503.9L82.3 499.1L82.3 494.3L82.3 489.6L82.3 485.8L87.2 485.8L92 485.8L96.8 485.8L101.7 485.8L106.5 485.8L111.3 485.7L116.2 485.4L119.6 484.8L121 484.5L125.8 482.9L130.7 480.1L130.9 480L135.5 477.8L140.4 475.7ZM82.3 604.4L82.3 602.8L87.2 602.8L92 602.8L96.8 602.8L101.7 602.8L106.5 602.9L111.3 603L116.2 603.5L120 604.4L121 604.6L125.8 607.2L128.1 609.2L130.7 612L132.3 613.9L135.5 617.4L137.2 618.7L140.4 620.6L145.2 622L150 622.6L154.9 623.1L156.7 623.5L159.7 624.2L164.5 626.7L166.3 628.3L169.2 633.1L169.4 633.7L170.3 637.9L170.7 642.6L170.8 647.4L170.8 652.2L169.4 652.2L164.5 652.2L159.7 652.2L154.9 652.2L150 652.2L145.2 652.2L140.4 652.2L135.5 652.2L130.7 652.2L125.8 652.2L121 652.2L116.2 652.2L111.3 652.2L106.5 652.2L101.7 652.2L96.8 652.2L92 652.2L87.2 652.2L82.3 652.2L82.3 647.4L82.3 642.6L82.3 637.9L82.3 633.1L82.3 628.3L82.3 623.5L82.3 618.7L82.3 613.9L82.3 609.2Z"/>
<path fill="#FFE040" fill-rule="evenodd" d="M387.1 82.9L391.7 82.9L396.6 82.9L401.4 82.9L406.2 82.9L411.1 82.9L415.9 82.9L420.7 82.9L425.6 82.9L426.4 82.9L426.4 87.7L426.4 92.5L426.4 97.3L426.4 102.1L426.4 106.9L426.4 111.6L426.4 116.4L426.4 121.2L426.4 126L426.3 130.8L426 135.6L425.6 137.9L425.1 140.3L422.9 145.1L420.7 147.8L418.6 149.9L415.9 152.1L412.8 154.7L411.1 156.3L408.3 159.5L406.2 162.1L404.3 164.3L401.4 167L397.7 169L396.6 169.6L391.7 170.6L386.9 171.1L382.1 171.6L377.2 172.7L374.7 173.8L372.4 175L368.1 178.6L367.6 179L363.3 183.4L362.7 183.9L357.9 187.6L356.5 188.2L353.1 189.5L348.2 190.3L343.4 190.9L338.6 191.9L335.9 193L333.7 193.9L329.2 197.8L328.9 198.1L326 202.5L324.1 206.5L323.7 207.3L322.1 212.1L320.8 216.9L319.5 221.7L319.2 222.8L318 226.5L316.2 231.2L314.4 235.3L314.1 236L311.5 240.8L309.6 243.9L308.6 245.6L305.7 250.4L304.7 252L302.8 255.2L299.9 259.7L299.7 259.9L295.3 264.7L295.1 264.9L290.2 268.2L287.8 269.5L285.4 270.7L280.6 272.5L275.7 273.6L270.9 274.1L266 274.3L263.9 274.3L261.2 274.3L256.4 274.3L251.5 274.3L246.7 274.3L241.9 274.3L237 274.3L232.2 274.3L231.1 274.3L227.4 274.2L222.5 274.1L217.7 273.7L212.9 273L208 271.9L203.2 270.4L200.8 269.5L198.4 268.5L193.5 266.8L188.7 265.5L185.9 264.7L183.9 264.2L179 262.6L174.2 260.5L173.1 259.9L169.4 257.5L165.6 255.2L164.5 254.4L159.7 251.8L154.9 250.4L154.9 250.3L150 249.7L145.2 249.1L140.4 248.3L135.5 247.2L130.7 246.1L127.5 245.6L125.8 245.3L121 244.7L116.2 244.5L111.3 244.4L106.5 244.3L101.7 244.3L96.8 244.3L92 244.3L87.2 244.3L82.3 244.3L82.3 240.8L82.3 236L82.3 231.2L82.3 229.6L87.2 229.6L92 229.6L96.8 229.6L101.7 229.6L106.5 229.6L111.3 229.6L116.2 229.6L121 229.7L125.8 229.7L130.7 229.7L135.5 229.8L140.4 229.8L145.2 229.9L150 229.9L154.9 230.3L159.7 231.2L159.9 231.2L164.5 233.1L168.5 236L169.4 236.7L173.5 240.8L174.2 241.5L179 245.6L179.1 245.6L183.9 247.9L188.7 249.1L193.5 250L194.7 250.4L198.4 251.4L203.2 253.9L204.9 255.2L208 257.1L212.5 259.9L212.9 260.1L217.7 262.1L222.5 263.2L227.4 263.8L232.2 263.9L237 264L241.9 264L246.7 264L251.5 264L256.4 263.9L261.2 263.9L266 263.7L270.9 263.3L275.7 262.5L280.6 260.9L282.5 259.9L285.4 258L288.9 255.2L290.2 253.9L293.2 250.4L295.1 248.3L296.9 245.6L299.9 241.2L300.1 240.8L302.3 236L304 231.2L304.7 229L305.5 226.5L306.6 221.7L307.4 216.9L307.8 212.1L308 207.3L308.1 202.5L308.2 197.8L308.3 193L308.6 188.2L309.5 183.4L309.6 183.2L311.6 178.6L314.4 175.4L316.8 173.8L319.2 172.7L324.1 171.6L328.9 171L333.7 170.4L338.6 169.1L338.7 169L343.4 166.1L345.3 164.3L348.2 160.8L349.3 159.5L353.1 155.8L354.9 154.7L357.9 153.2L362.7 152L367.6 151.5L372.4 150.9L376.6 149.9L377.2 149.7L382.1 146.6L383.4 145.1L385.7 140.3L386.7 135.6L386.9 132.2L387 130.8L387.1 126L387.1 121.2L387.1 116.4L387.1 111.6L387.1 106.9L387.1 102.1L387.1 97.3L387.1 92.5L387.1 87.7ZM198.1 154.7L198.4 154.5L203.2 152.8L208 152.2L212.9 152.3L217.7 153.2L220.9 154.7L222.5 156L224.9 159.5L224.9 164.3L222.5 168L221.8 169L217.7 172.7L216.5 173.8L212.9 177.4L211.7 178.6L208 182.7L207.2 183.4L203.2 185.9L198.4 186L194.6 183.4L193.5 182.1L192 178.6L191.1 173.8L191 169L191.6 164.3L193.4 159.5L193.5 159.3ZM573.5 193L575.5 192.2L580.3 191.3L585.1 191.2L590 191.7L594 193L594.8 193.3L599.6 196.6L600.8 197.8L604.5 202.2L604.7 202.5L609.2 207.3L609.3 207.4L614.1 211.4L615 212.1L619 216.2L619.5 216.9L621.6 221.7L622.6 226.5L622.9 231.2L623 236L623 240.8L623 245.6L622.9 250.4L622.7 255.2L622.3 259.9L621.4 264.7L620.2 269.5L619 274.3L619 274.3L618.3 279.1L618.8 283.9L619 284.4L619.8 288.6L620.2 293.4L619.2 298.2L619 298.7L615.7 303L614.1 304.3L609.3 306.8L605 307.8L604.5 307.9L599.6 308.1L594.8 308.2L590 308.2L585.1 308.1L580.3 308.1L575.5 308.1L570.6 308.1L565.8 308.1L560.9 308.1L556.1 308.1L551.3 308.1L546.4 308.1L541.6 308.2L536.8 308.2L531.9 308.2L527.1 308.2L522.3 308.1L519.7 307.8L517.4 307.5L512.6 305.9L508.4 303L507.8 302.4L505 298.2L502.9 293.5L502.9 293.4L501.6 288.6L500.8 283.9L500.5 279.1L500.8 274.3L501.7 269.5L502.9 266L503.4 264.7L506.3 259.9L507.8 258.1L510.7 255.2L512.6 253.3L516.2 250.4L517.4 249.2L521.4 245.6L522.3 244.7L525.9 240.8L527.1 239.5L530.4 236L531.9 234.5L535.4 231.2L536.8 229.9L540.1 226.5L541.6 224.5L543.8 221.7L546.4 217.9L547.3 216.9L551.3 212.9L552.2 212.1L556.1 209L558.1 207.3L560.9 204.5L562.6 202.5L565.8 198.7L566.6 197.8L570.6 194.4ZM517.4 273.6L516.9 274.3L515.4 279.1L516.7 283.9L517.4 284.8L522.3 287.5L527.1 288L531.9 287.3L536.8 285.1L538.2 283.9L539.9 279.1L538 274.3L536.8 273.3L531.9 271L527.1 270.4L522.3 271ZM156.9 489.6L159.7 488.1L164.5 486.7L169.4 486.2L174.2 486L179 485.9L183.9 485.9L188.7 486L193.5 486.2L198.4 486.7L203.2 487.5L208 488.6L212.4 489.6L212.9 489.7L217.7 491L222.5 492.6L226.4 494.3L227.4 494.9L232.2 498.2L233.5 499.1L237 502L239.7 503.9L241.9 505.5L246.7 507.9L249 508.7L251.5 509.7L256.4 511.3L261.2 513L262.2 513.5L266 515.9L269.5 518.3L270.9 519.4L275.7 522.9L276 523L280.6 525.4L285.4 527.2L287.5 527.8L290.2 528.6L295.1 530.1L299.9 531.8L301.6 532.6L304.7 534.2L309.6 537.1L310.2 537.4L314.4 540.2L318.6 542.2L319.2 542.5L324.1 543.9L328.9 544.5L333.7 544.7L338.6 544.7L343.4 544.8L348.2 544.8L353.1 545.1L357.9 545.8L362.7 546.9L363.1 547L367.6 548.2L372.4 549.3L377.2 550L382.1 550.4L386.9 550.5L391.7 550.6L396.6 550.6L401.4 550.6L406.2 550.7L411.1 550.9L415.9 551.7L416.1 551.8L420.7 553.7L425.6 556.5L425.7 556.5L430.4 559.9L433.5 561.3L435.3 562.1L440.1 563.3L444.9 563.8L449.8 564.2L454.6 564.8L459.4 565.9L460.2 566.1L464.3 567.1L469.1 568.3L473.9 569.6L477.6 570.9L478.8 571.3L483.6 573.8L486.7 575.7L488.4 576.9L493.3 579.9L494.5 580.5L498.1 582.1L502.9 583.2L507.8 583.8L512.6 584.4L516.7 585.2L517.4 585.4L522.3 586.5L527.1 587.7L531.9 589L535.2 590L536.8 590.6L541.6 592.9L545 594.8L546.4 595.8L551.3 599L552.6 599.6L556.1 601.4L560.9 602.7L565.8 603.4L570.6 603.9L572.9 604.4L575.5 604.9L580.3 606.1L585.1 607.3L590 608.2L594.8 608.8L599.6 609.2L599.6 609.2L604.5 609.5L609.3 610L614.1 611.2L619 613.3L620.1 613.9L623.8 616.7L627.1 618.7L628.6 619.8L633.5 621.8L638.3 622.7L643.1 623L648 623.1L652.8 623.2L657.6 623.2L662.5 623.3L665.5 623.5L667.3 623.7L672.1 624.9L677 627.8L677.5 628.3L680.3 633.1L681.5 637.9L681.8 641.7L681.9 642.6L682 647.4L682 652.2L681.8 652.2L677 652.2L672.1 652.2L667.3 652.2L662.5 652.2L657.6 652.2L652.8 652.2L648 652.2L643.1 652.2L638.3 652.2L633.5 652.2L628.6 652.2L623.8 652.2L619 652.2L614.1 652.2L609.3 652.2L604.5 652.2L599.6 652.2L594.8 652.2L590 652.2L585.1 652.2L583.7 652.2L583.6 647.4L583.6 642.6L583.2 637.9L582 633.1L580.3 629.8L579.1 628.3L575.5 625.6L570.6 623.9L568.4 623.5L565.8 623.2L560.9 622.7L556.1 622L551.3 620.2L549.1 618.7L546.4 616.9L543.5 613.9L541.6 612.2L538.3 609.2L536.8 608L531.9 605.3L528.5 604.4L527.1 604L522.3 603.6L517.4 603.5L512.6 603.4L507.8 603.3L502.9 603L498.1 602.4L493.3 600.9L491 599.6L488.4 598L485 594.8L483.6 593.5L479.9 590L478.8 589.1L473.9 586.1L471.4 585.2L469.1 584.6L464.3 584.1L459.4 583.9L454.6 583.8L449.8 583.8L444.9 583.8L440.1 583.8L435.3 583.8L430.4 583.7L425.6 583.6L420.7 583.6L415.9 583.5L411.1 583.5L406.2 583.5L401.4 583.5L396.6 583.5L391.7 583.5L386.9 583.4L382.1 583L377.2 581.8L374.6 580.5L372.4 579L369.1 575.7L367.6 573.9L365 570.9L362.7 568.8L358.3 566.1L357.9 565.9L353.1 564.7L348.2 564.3L343.4 564.2L338.6 564.2L333.7 564.2L328.9 564.1L324.1 563.8L319.2 562.9L315.6 561.3L314.4 560.8L309.6 557.1L309 556.5L304.7 552.3L304.1 551.8L299.9 548.4L297.1 547L295.1 546.1L290.2 545.1L285.4 544.7L280.6 544.6L275.7 544.5L270.9 544.4L266 544.4L261.2 544.3L256.4 544.3L251.5 544.2L246.7 543.9L241.9 543.1L239.5 542.2L237 540.9L233.4 537.4L232.2 535.3L231 532.6L230.1 527.8L229.4 523L228.2 518.3L227.4 516.7L225.5 513.5L222.5 510.4L220.1 508.7L217.7 507.4L212.9 506L208 505.5L203.2 505.4L198.4 505.3L193.5 505.3L188.7 505.5L183.9 506.1L179 507.6L177.2 508.7L174.2 511.1L172 513.5L169.4 516.8L168.1 518.3L164.5 522L163.3 523L159.7 526.4L158.2 527.8L155.8 532.6L156.4 537.4L159.7 540.9L161.9 542.2L164.5 543.1L169.4 543.9L174.2 544.5L179 545.5L182.2 547L183.9 548L187.3 551.8L188.7 554.7L189.4 556.5L190.2 561.3L190.4 566.1L190.5 570.9L190.5 575.7L190.5 580.5L190.7 585.2L191.4 590L193 594.8L193.5 595.6L197.3 599.6L198.4 600.3L203.2 602.1L208 602.8L212.9 603.1L217.7 603.1L222.5 603.1L227.4 603.2L232.2 603.4L237 604.2L237.5 604.4L241.9 606.2L245.3 609.2L246.7 611.3L248 613.9L249 618.7L249.4 623.5L249.4 628.3L249.4 633.1L249.4 637.9L249.4 642.6L249.4 647.4L249.4 652.2L246.7 652.2L241.9 652.2L237 652.2L232.2 652.2L227.4 652.2L222.5 652.2L217.7 652.2L212.9 652.2L208 652.2L203.2 652.2L198.4 652.2L193.5 652.2L188.7 652.2L183.9 652.2L179 652.2L174.2 652.2L170.8 652.2L170.8 647.4L170.7 642.6L170.3 637.9L169.4 633.7L169.2 633.1L166.3 628.3L164.5 626.7L159.7 624.2L156.7 623.5L154.9 623.1L150 622.6L145.2 622L140.4 620.6L137.2 618.7L135.5 617.4L132.3 613.9L130.7 612L128.1 609.2L125.8 607.2L121 604.6L120 604.4L116.2 603.5L111.3 603L106.5 602.9L101.7 602.8L96.8 602.8L92 602.8L87.2 602.8L82.3 602.8L82.3 599.6L82.3 594.8L82.3 590L82.3 585.2L82.3 583.9L87.2 583.8L92 583.7L96.8 583.3L101.7 582.1L104.5 580.5L106.5 578.9L109 575.7L110.8 570.9L111.3 567.6L111.6 566.1L111.8 561.3L111.8 556.5L111.9 551.8L111.9 547L112.1 542.2L112.8 537.4L114.4 532.6L116.2 530L118 527.8L121 525.2L123.7 523L125.8 521.2L128.6 518.3L130.7 515.8L132.5 513.5L135.5 509.9L136.8 508.7L140.4 505.7L142.7 503.9L145.2 501.9L147.9 499.1L150 496.7L151.9 494.3L154.9 491.1Z"/>
<path fill="#FFC820" fill-rule="evenodd" d="M82.3 82.9L87.2 82.9L92 82.9L96.8 82.9L101.7 82.9L106.5 82.9L111.3 82.9L116.2 82.9L121 82.9L125.8 82.9L130.7 82.9L135.5 82.9L140.4 82.9L145.2 82.9L150 82.9L154.9 82.9L159.7 82.9L164.5 82.9L169.4 82.9L174.2 82.9L179 82.9L183.9 82.9L188.7 82.9L193.5 82.9L198.4 82.9L203.2 82.9L208 82.9L212.9 82.9L217.7 82.9L222.5 82.9L227.4 82.9L232.2 82.9L237 82.9L241.9 82.9L246.7 82.9L251.5 82.9L256.4 82.9L261.2 82.9L266 82.9L270.9 82.9L275.7 82.9L280.6 82.9L285.4 82.9L290.2 82.9L295.1 82.9L299.9 82.9L304.7 82.9L309.6 82.9L314.4 82.9L319.2 82.9L324.1 82.9L328.9 82.9L333.7 82.9L338.6 82.9L343.4 82.9L348.2 82.9L353.1 82.9L357.9 82.9L362.7 82.9L367.6 82.9L372.4 82.9L377.2 82.9L382.1 82.9L386.9 82.9L387.1 82.9L387.1 87.7L387.1 92.5L387.1 97.3L387.1 102.1L387.1 106.9L387.1 111.6L387.1 116.4L387.1 121.2L387.1 126L387 130.8L386.9 132.2L386.7 135.6L385.7 140.3L383.4 145.1L382.1 146.6L377.2 149.7L376.6 149.9L372.4 150.9L367.6 151.5L362.7 152L357.9 153.2L354.9 154.7L353.1 155.8L349.3 159.5L348.2 160.8L345.3 164.3L343.4 166.1L338.7 169L338.6 169.1L333.7 170.4L328.9 171L324.1 171.6L319.2 172.7L316.8 173.8L314.4 175.4L311.6 178.6L309.6 183.2L309.5 183.4L308.6 188.2L308.3 193L308.2 197.8L308.1 202.5L308 207.3L307.8 212.1L307.4 216.9L306.6 221.7L305.5 226.5L304.7 229L304 231.2L302.3 236L300.1 240.8L299.9 241.2L296.9 245.6L295.1 248.3L293.2 250.4L290.2 253.9L288.9 255.2L285.4 258L282.5 259.9L280.6 260.9L275.7 262.5L270.9 263.3L266 263.7L261.2 263.9L256.4 263.9L251.5 264L246.7 264L241.9 264L237 264L232.2 263.9L227.4 263.8L222.5 263.2L217.7 262.1L212.9 260.1L212.5 259.9L208 257.1L204.9 255.2L203.2 253.9L198.4 251.4L194.7 250.4L193.5 250L188.7 249.1L183.9 247.9L179.1 245.6L179 245.6L174.2 241.5L173.5 240.8L169.4 236.7L168.5 236L164.5 233.1L159.9 231.2L159.7 231.2L154.9 230.3L150 229.9L145.2 229.9L140.4 229.8L135.5 229.8L130.7 229.7L125.8 229.7L121 229.7L116.2 229.6L111.3 229.6L106.5 229.6L101.7 229.6L96.8 229.6L92 229.6L87.2 229.6L82.3 229.6L82.3 226.5L82.3 221.7L82.3 216.9L82.3 212.1L82.3 207.3L82.3 202.5L82.3 197.8L82.3 193L82.3 188.2L82.3 183.4L82.3 178.6L82.3 173.8L82.3 169L82.3 164.3L82.3 159.5L82.3 154.7L82.3 149.9L82.3 145.1L82.3 140.3L82.3 135.6L82.3 130.8L82.3 126L82.3 121.2L82.3 116.4L82.3 111.6L82.3 106.9L82.3 102.1L82.3 97.3L82.3 92.5L82.3 87.7ZM198.4 154.5L198.1 154.7L193.5 159.3L193.4 159.5L191.6 164.3L191 169L191.1 173.8L192 178.6L193.5 182.1L194.6 183.4L198.4 186L203.2 185.9L207.2 183.4L208 182.7L211.7 178.6L212.9 177.4L216.5 173.8L217.7 172.7L221.8 169L222.5 168L224.9 164.3L224.9 159.5L222.5 156L220.9 154.7L217.7 153.2L212.9 152.3L208 152.2L203.2 152.8ZM241.9 192L239.4 193L237 194L232.4 197.8L232.2 198L228.5 202.5L227.4 203.8L224 207.3L222.5 208.6L218.2 212.1L217.7 212.5L213.7 216.9L212.9 218.5L211.5 221.7L210.6 226.5L210.6 231.2L211.5 236L212.9 238.8L214 240.8L217.7 244.8L218.9 245.6L222.5 247.5L227.4 248.8L232.2 249.2L237 249.3L241.9 249.3L246.7 249.3L251.5 249.1L256.4 248.4L261.2 246.9L263.3 245.6L266 243.3L268.3 240.8L270.9 237.6L272.3 236L275.7 232.5L277.3 231.2L280.6 228.2L282.2 226.5L284.4 221.7L283.7 216.9L280.6 212.4L280.3 212.1L275.7 208.1L274.9 207.3L270.9 203L270.5 202.5L266.6 197.8L266 197.2L261.2 193.6L259.6 193L256.4 191.9L251.5 191.2L246.7 191.3ZM516.9 274.3L517.4 273.6L522.3 271L527.1 270.4L531.9 271L536.8 273.3L538 274.3L539.9 279.1L538.2 283.9L536.8 285.1L531.9 287.3L527.1 288L522.3 287.5L517.4 284.8L516.7 283.9L515.4 279.1ZM177.2 508.7L179 507.6L183.9 506.1L188.7 505.5L193.5 505.3L198.4 505.3L203.2 505.4L208 505.5L212.9 506L217.7 507.4L220.1 508.7L222.5 510.4L225.5 513.5L227.4 516.7L228.2 518.3L229.4 523L230.1 527.8L231 532.6L232.2 535.3L233.4 537.4L237 540.9L239.5 542.2L241.9 543.1L246.7 543.9L251.5 544.2L256.4 544.3L261.2 544.3L266 544.4L270.9 544.4L275.7 544.5L280.6 544.6L285.4 544.7L290.2 545.1L295.1 546.1L297.1 547L299.9 548.4L304.1 551.8L304.7 552.3L309 556.5L309.6 557.1L314.4 560.8L315.6 561.3L319.2 562.9L324.1 563.8L328.9 564.1L333.7 564.2L338.6 564.2L343.4 564.2L348.2 564.3L353.1 564.7L357.9 565.9L358.3 566.1L362.7 568.8L365 570.9L367.6 573.9L369.1 575.7L372.4 579L374.6 580.5L377.2 581.8L382.1 583L386.9 583.4L391.7 583.5L396.6 583.5L401.4 583.5L406.2 583.5L411.1 583.5L415.9 583.5L420.7 583.6L425.6 583.6L430.4 583.7L435.3 583.8L440.1 583.8L444.9 583.8L449.8 583.8L454.6 583.8L459.4 583.9L464.3 584.1L469.1 584.6L471.4 585.2L473.9 586.1L478.8 589.1L479.9 590L483.6 593.5L485 594.8L488.4 598L491 599.6L493.3 600.9L498.1 602.4L502.9 603L507.8 603.3L512.6 603.4L517.4 603.5L522.3 603.6L527.1 604L528.5 604.4L531.9 605.3L536.8 608L538.3 609.2L541.6 612.2L543.5 613.9L546.4 616.9L549.1 618.7L551.3 620.2L556.1 622L560.9 622.7L565.8 623.2L568.4 623.5L570.6 623.9L575.5 625.6L579.1 628.3L580.3 629.8L582 633.1L583.2 637.9L583.6 642.6L583.6 647.4L583.7 652.2L580.3 652.2L575.5 652.2L570.6 652.2L565.8 652.2L560.9 652.2L556.1 652.2L551.3 652.2L546.4 652.2L541.6 652.2L536.8 652.2L531.9 652.2L527.1 652.2L522.3 652.2L517.4 652.2L512.6 652.2L507.8 652.2L505 652.2L505 647.4L504.9 642.6L504.5 637.9L503.4 633.1L502.9 632.1L500.4 628.3L498.1 626.3L493.3 624.2L489.7 623.5L488.4 623.3L483.6 623.2L480.5 623.5L478.8 623.7L473.9 625.5L470.2 628.3L469.1 629.8L467.3 633.1L466.2 637.9L465.8 642.6L465.7 647.4L465.7 652.2L464.3 652.2L459.4 652.2L454.6 652.2L449.8 652.2L444.9 652.2L440.1 652.2L435.3 652.2L430.4 652.2L425.6 652.2L420.7 652.2L415.9 652.2L411.1 652.2L406.2 652.2L401.4 652.2L396.6 652.2L391.7 652.2L386.9 652.2L382.1 652.2L377.2 652.2L372.4 652.2L367.6 652.2L362.7 652.2L357.9 652.2L353.1 652.2L348.2 652.2L343.4 652.2L338.6 652.2L333.7 652.2L328.9 652.2L324.1 652.2L319.2 652.2L314.4 652.2L309.6 652.2L304.7 652.2L299.9 652.2L295.1 652.2L290.2 652.2L285.4 652.2L280.6 652.2L275.7 652.2L270.9 652.2L266 652.2L261.2 652.2L256.4 652.2L251.5 652.2L249.4 652.2L249.4 647.4L249.4 642.6L249.4 637.9L249.4 633.1L249.4 628.3L249.4 623.5L249 618.7L248 613.9L246.7 611.3L245.3 609.2L241.9 606.2L237.5 604.4L237 604.2L232.2 603.4L227.4 603.2L222.5 603.1L217.7 603.1L212.9 603.1L208 602.8L203.2 602.1L198.4 600.3L197.3 599.6L193.5 595.6L193 594.8L191.4 590L190.7 585.2L190.5 580.5L190.5 575.7L190.5 570.9L190.4 566.1L190.2 561.3L189.4 556.5L188.7 554.7L187.3 551.8L183.9 548L182.2 547L179 545.5L174.2 544.5L169.4 543.9L164.5 543.1L161.9 542.2L159.7 540.9L156.4 537.4L155.8 532.6L158.2 527.8L159.7 526.4L163.3 523L164.5 522L168.1 518.3L169.4 516.8L172 513.5L174.2 511.1Z"/>
<path fill="#FFA800" fill-rule="evenodd" d="M239.4 193L241.9 192L246.7 191.3L251.5 191.2L256.4 191.9L259.6 193L261.2 193.6L266 197.2L266.6 197.8L270.5 202.5L270.9 203L274.9 207.3L275.7 208.1L280.3 212.1L280.6 212.4L283.7 216.9L284.4 221.7L282.2 226.5L280.6 228.2L277.3 231.2L275.7 232.5L272.3 236L270.9 237.6L268.3 240.8L266 243.3L263.3 245.6L261.2 246.9L256.4 248.4L251.5 249.1L246.7 249.3L241.9 249.3L237 249.3L232.2 249.2L227.4 248.8L222.5 247.5L218.9 245.6L217.7 244.8L214 240.8L212.9 238.8L211.5 236L210.6 231.2L210.6 226.5L211.5 221.7L212.9 218.5L213.7 216.9L217.7 212.5L218.2 212.1L222.5 208.6L224 207.3L227.4 203.8L228.5 202.5L232.2 198L232.4 197.8L237 194ZM480.5 623.5L483.6 623.2L488.4 623.3L489.7 623.5L493.3 624.2L498.1 626.3L500.4 628.3L502.9 632.1L503.4 633.1L504.5 637.9L504.9 642.6L505 647.4L505 652.2L502.9 652.2L498.1 652.2L493.3 652.2L488.4 652.2L483.6 652.2L478.8 652.2L473.9 652.2L469.1 652.2L465.7 652.2L465.7 647.4L465.8 642.6L466.2 637.9L467.3 633.1L469.1 629.8L470.2 628.3L473.9 625.5L478.8 623.7Z"/>
</g>
<g clip-path="url(#mc)">
<path fill="none" stroke="#000" stroke-width="1" shape-rendering="crispEdges" d="M88.4 122.2L115.6 122.2M105.5 116.9L115.6 122.2L105.5 127.5M127.8 122.1L154.9 122.3M144.9 116.9L154.9 122.3L144.8 127.6M167.1 122.0L194.2 122.4M184.2 116.9L194.2 122.4L184.1 127.6M206.4 122.0L233.5 122.4M223.6 116.9L233.5 122.4L223.4 127.6M245.7 121.9L272.8 122.5M262.9 116.9L272.8 122.5L262.7 127.6M285.0 121.8L312.2 122.6M302.3 117.0L312.2 122.6L301.9 127.6M324.4 121.7L351.5 122.7M341.6 117.0L351.5 122.7L341.2 127.7M363.7 121.6L390.8 122.8M381.0 117.0L390.8 122.8L380.5 127.7M403.8 121.4L429.3 123.0M420.1 117.4L429.3 123.0L419.5 127.4M444.0 121.3L467.8 123.1M459.3 117.7L467.8 123.1L458.6 127.1M483.3 121.2L507.1 123.2M498.7 117.8L507.1 123.2L497.9 127.1M522.7 120.7L546.3 123.7M538.2 117.9L546.3 123.7L537.0 127.3M562.1 120.1L585.6 124.3M577.7 118.1L585.6 124.3L576.0 127.4M601.5 119.6L624.8 124.8M617.2 118.3L624.8 124.8L615.1 127.5M641.0 119.1L664.0 125.3M656.7 118.5L664.0 125.3L654.2 127.5M680.4 118.6L703.2 125.8M696.1 118.6L703.2 125.8L693.3 127.6M720.7 118.5L741.6 125.9M735.3 119.0L741.6 125.9L732.4 127.3M760.1 118.3L780.8 126.1M774.7 119.1L780.8 126.1L771.6 127.3M799.5 118.0L820.0 126.4M814.1 119.2L820.0 126.4L810.7 127.3M838.9 117.7L859.2 126.7M853.5 119.4L859.2 126.7L849.9 127.4M879.1 117.8L897.7 126.6M892.5 119.7L897.7 126.6L889.0 127.0M918.6 117.5L936.9 126.9M931.9 119.8L936.9 126.9L928.2 127.0M108.1 141.8L135.2 141.9M125.2 136.5L135.2 141.9L125.1 147.2M147.4 141.7L174.5 141.9M164.5 136.5L174.5 141.9L164.4 147.2M186.7 141.6L213.9 142.0M203.9 136.5L213.9 142.0L203.7 147.2M226.1 141.6L253.2 142.1M243.2 136.6L253.2 142.1L243.0 147.2M265.4 141.5L292.5 142.2M282.6 136.6L292.5 142.2L282.3 147.3M304.7 141.4L331.8 142.3M321.9 136.6L331.8 142.3L321.6 147.3M344.0 141.3L371.1 142.4M361.3 136.6L371.1 142.4L360.9 147.3M384.2 141.1L409.6 142.5M400.5 137.0L409.6 142.5L399.9 147.0M424.3 141.0L448.1 142.6M439.6 137.3L448.1 142.6L439.0 146.7M463.7 140.9L487.4 142.8M479.0 137.4L487.4 142.8L478.2 146.8M503.0 140.6L526.7 143.1M518.4 137.5L526.7 143.1L517.4 146.8M542.4 140.0L566.0 143.7M557.9 137.7L566.0 143.7L556.5 146.9M581.8 139.4L605.2 144.2M597.5 137.8L605.2 144.2L595.6 147.0M621.3 139.0L644.4 144.7M636.9 138.0L644.4 144.7L634.7 147.1M660.7 138.5L683.6 145.2M676.4 138.2L683.6 145.2L673.8 147.2M700.2 138.1L722.8 145.6M715.9 138.3L722.8 145.6L712.9 147.3M740.4 138.0L761.2 145.6M755.0 138.7L761.2 145.6L752.0 146.9M779.8 137.7L800.4 145.9M794.4 138.8L800.4 145.9L791.2 146.9M819.2 137.5L839.6 146.2M833.8 138.9L839.6 146.2L830.3 147.0M858.7 137.2L878.8 146.5M873.2 139.1L878.8 146.5L869.5 147.0M898.9 137.3L917.3 146.4M912.2 139.4L917.3 146.4L908.6 146.6M88.4 161.5L115.6 161.5M105.5 156.1L115.6 161.5L105.5 166.8M127.8 161.4L154.9 161.5M144.9 156.1L154.9 161.5L144.8 166.8M167.1 161.3L194.2 161.6M184.2 156.2L194.2 161.6L184.1 166.8M207.2 161.2L232.7 161.7M223.3 156.5L232.7 161.7L223.2 166.5M245.7 161.1L272.8 161.8M262.9 156.2L272.8 161.8L262.7 166.9M285.0 161.1L312.2 161.9M302.3 156.2L312.2 161.9L301.9 166.9M324.4 161.0L351.5 161.9M341.6 156.2L351.5 161.9L341.2 166.9M364.5 160.9L390.0 162.1M380.8 156.6L390.0 162.1L380.3 166.6M404.7 160.7L428.5 162.2M419.9 157.0L428.5 162.2L419.4 166.3M444.0 160.6L467.8 162.3M459.3 157.0L467.8 162.3L458.6 166.4M483.3 160.4L507.1 162.5M498.7 157.0L507.1 162.5L497.9 166.4M522.7 159.9L546.3 163.0M538.2 157.2L546.3 163.0L537.0 166.5M562.1 159.4L585.6 163.6M577.7 157.4L585.6 163.6L576.0 166.6M601.5 158.8L624.8 164.1M617.2 157.6L624.8 164.1L615.1 166.7M641.0 158.3L664.0 164.6M656.7 157.7L664.0 164.6L654.2 166.8M680.4 157.9L703.2 165.0M696.1 157.9L703.2 165.0L693.3 166.9M720.7 157.8L741.6 165.1M735.3 158.3L741.6 165.1L732.4 166.5M760.1 157.5L780.8 165.4M774.7 158.4L780.8 165.4L771.6 166.6M800.3 157.6L819.2 165.4M813.8 158.7L819.2 165.4L810.7 166.2M838.9 157.0L859.2 166.0M853.5 158.6L859.2 166.0L849.9 166.6M879.1 157.0L897.7 165.9M892.5 159.0L897.7 165.9L889.0 166.3M918.6 156.8L936.9 166.1M931.9 159.1L936.9 166.1L928.2 166.3M108.1 181.1L135.2 181.1M125.2 175.8L135.2 181.1L125.1 186.4M147.4 181.0L174.5 181.2M164.5 175.8L174.5 181.2L164.4 186.5M187.6 180.9L213.0 181.3M203.7 176.1L213.0 181.3L203.5 186.2M226.1 180.8L253.2 181.4M243.2 175.8L253.2 181.4L243.0 186.5M265.4 180.7L292.5 181.4M282.6 175.8L292.5 181.4L282.3 186.5M305.5 180.7L331.0 181.5M321.7 176.2L331.0 181.5L321.4 186.2M344.9 180.6L370.3 181.6M361.1 176.2L370.3 181.6L360.7 186.2M385.0 180.5L408.8 181.7M400.2 176.6L408.8 181.7L399.7 185.9M424.3 180.3L448.1 181.9M439.6 176.6L448.1 181.9L439.0 186.0M464.5 180.2L486.6 182.0M478.7 177.0L486.6 182.0L478.0 185.7M503.8 179.9L525.9 182.3M518.2 177.0L525.9 182.3L517.2 185.7M542.4 179.3L566.0 182.9M557.9 176.9L566.0 182.9L556.5 186.2M581.8 178.7L605.2 183.5M597.5 177.1L605.2 183.5L595.6 186.3M621.3 178.2L644.4 184.0M636.9 177.3L644.4 184.0L634.7 186.4M660.7 177.7L683.6 184.4M676.4 177.4L683.6 184.4L673.8 186.5M700.9 177.6L722.0 184.6M715.6 177.8L722.0 184.6L712.8 186.1M740.4 177.3L761.2 184.9M755.0 178.0L761.2 184.9L752.0 186.2M779.8 177.0L800.4 185.2M794.4 178.1L800.4 185.2L791.2 186.2M820.0 177.1L838.9 185.1M833.4 178.4L838.9 185.1L830.3 185.9M859.4 176.8L878.1 185.4M872.8 178.5L878.1 185.4L869.5 185.9M898.9 176.5L917.3 185.6M912.2 178.6L917.3 185.6L908.6 185.9M88.4 200.7L115.6 200.7M105.5 195.4L115.6 200.7L105.5 206.1M127.8 200.6L154.9 200.8M144.9 195.4L154.9 200.8L144.8 206.1M167.1 200.6L194.2 200.9M184.2 195.4L194.2 200.9L184.1 206.1M206.4 200.5L233.5 201.0M223.6 195.4L233.5 201.0L223.4 206.1M244.9 200.4L273.7 201.1M263.6 195.4L273.7 201.1L263.4 206.2M285.0 200.3L312.2 201.1M302.3 195.5L312.2 201.1L301.9 206.2M326.0 200.3L349.8 201.1M341.2 196.1L349.8 201.1L340.8 205.5M366.2 200.2L388.3 201.2M380.3 196.5L388.3 201.2L379.9 205.2M405.5 200.1L427.6 201.4M419.7 196.5L427.6 201.4L419.2 205.3M444.8 199.9L466.9 201.5M459.1 196.6L466.9 201.5L458.4 205.3M484.2 199.8L506.2 201.7M498.4 196.6L506.2 201.7L497.7 205.3M522.7 199.2L546.3 202.3M538.2 196.5L546.3 202.3L537.0 205.8M561.3 198.5L586.4 203.0M578.0 196.4L586.4 203.0L576.2 206.2M601.5 198.1L624.8 203.4M617.2 196.8L624.8 203.4L615.1 206.0M641.0 197.6L664.0 203.8M656.7 197.0L664.0 203.8L654.2 206.1M680.4 197.1L703.2 204.3M696.1 197.2L703.2 204.3L693.3 206.1M720.7 197.1L741.6 204.4M735.3 197.5L741.6 204.4L732.4 205.8M760.1 196.8L780.8 204.7M774.7 197.7L780.8 204.7L771.6 205.8M799.5 196.5L820.0 204.9M814.1 197.8L820.0 204.9L810.7 205.9M839.7 196.6L858.5 204.9M853.1 198.1L858.5 204.9L849.9 205.5M879.1 196.3L897.7 205.1M892.5 198.2L897.7 205.1L889.0 205.5M918.6 196.0L936.9 205.4M931.9 198.3L936.9 205.4L928.2 205.5M108.1 220.3L135.2 220.4M125.2 215.0L135.2 220.4L125.1 225.7M147.4 220.2L174.5 220.5M164.5 215.0L174.5 220.5L164.4 225.7M186.7 220.2L213.9 220.5M203.9 215.1L213.9 220.5L203.7 225.7M225.2 220.1L254.0 220.6M244.0 215.0L254.0 220.6L243.7 225.8M264.6 220.0L293.3 220.7M283.3 215.1L293.3 220.7L283.0 225.9M305.5 219.9L331.0 220.8M321.7 215.4L331.0 220.8L321.4 225.5M347.3 219.9L367.8 220.8M360.4 216.4L367.8 220.8L360.1 224.5M386.7 219.8L407.1 220.9M399.8 216.5L407.1 220.9L399.3 224.5M426.0 219.7L446.5 221.0M439.1 216.5L446.5 221.0L438.6 224.6M464.5 219.5L486.6 221.2M478.7 216.2L486.6 221.2L478.0 224.9M503.8 219.2L525.9 221.5M518.2 216.3L525.9 221.5L517.2 225.0M541.6 218.4L566.8 222.3M558.2 215.9L566.8 222.3L556.7 225.8M581.0 217.8L606.0 222.9M597.7 216.1L606.0 222.9L595.7 225.9M621.3 217.5L644.4 223.2M636.9 216.5L644.4 223.2L634.7 225.7M660.7 217.0L683.6 223.7M676.4 216.7L683.6 223.7L673.8 225.7M700.9 216.8L722.0 223.9M715.6 217.1L722.0 223.9L712.8 225.4M740.4 216.6L761.2 224.1M755.0 217.2L761.2 224.1L752.0 225.4M779.8 216.3L800.4 224.4M794.4 217.3L800.4 224.4L791.2 225.5M819.2 216.0L839.6 224.7M833.8 217.5L839.6 224.7L830.3 225.5M859.4 216.1L878.1 224.6M872.8 217.8L878.1 224.6L869.5 225.1M898.9 215.8L917.3 224.9M912.2 217.9L917.3 224.9L908.6 225.2M89.3 240.0L114.7 240.0M105.3 235.0L114.7 240.0L105.3 245.0M128.6 239.9L154.1 240.1M144.6 235.0L154.1 240.1L144.6 245.0M167.1 239.8L194.2 240.1M184.2 234.7L194.2 240.1L184.1 245.4M205.6 239.7L234.3 240.2M224.3 234.7L234.3 240.2L224.1 245.5M244.9 239.6L273.7 240.3M263.6 234.7L273.7 240.3L263.4 245.5M285.0 239.6L312.2 240.4M302.3 234.7L312.2 240.4L301.9 245.4M327.7 239.6L348.2 240.3M340.7 236.0L348.2 240.3L340.4 244.1M367.8 239.5L386.7 240.4M379.9 236.4L386.7 240.4L379.5 243.8M407.1 239.4L426.0 240.5M419.2 236.4L426.0 240.5L418.8 243.8M445.6 239.2L466.1 240.7M458.8 236.1L466.1 240.7L458.2 244.2M484.2 239.0L506.2 240.9M498.4 235.9L506.2 240.9L497.7 244.6M521.9 238.3L547.2 241.6M538.4 235.4L547.2 241.6L537.1 245.4M561.3 237.7L586.4 242.2M578.0 235.6L586.4 242.2L576.2 245.5M600.7 237.2L625.6 242.8M617.5 235.8L625.6 242.8L615.3 245.6M641.0 236.9L664.0 243.1M656.7 236.2L664.0 243.1L654.2 245.3M681.2 236.6L702.4 243.3M695.8 236.7L702.4 243.3L693.2 245.0M720.7 236.3L741.6 243.6M735.3 236.8L741.6 243.6L732.4 245.1M760.1 236.0L780.8 243.9M774.7 236.9L780.8 243.9L771.6 245.1M799.5 235.8L820.0 244.2M814.1 237.0L820.0 244.2L810.7 245.1M838.9 235.5L859.2 244.5M853.5 237.1L859.2 244.5L849.9 245.1M879.1 235.6L897.7 244.4M892.5 237.5L897.7 244.4L889.0 244.8M918.6 235.3L936.9 244.7M931.9 237.6L936.9 244.7L928.2 244.8M110.6 259.6L132.7 259.6M124.5 255.2L132.7 259.6L124.5 264.0M149.1 259.5L172.9 259.7M164.1 254.9L172.9 259.7L164.0 264.3M187.6 259.4L213.0 259.8M203.7 254.6L213.0 259.8L203.5 264.7M226.1 259.3L253.2 259.9M243.2 254.3L253.2 259.9L243.0 265.0M265.4 259.3L292.5 260.0M282.6 254.4L292.5 260.0L282.3 265.0M308.0 259.3L328.5 259.9M321.0 255.6L328.5 259.9L320.8 263.7M348.2 259.2L367.0 260.0M360.2 256.0L367.0 260.0L359.9 263.4M387.5 259.1L406.3 260.1M399.5 256.0L406.3 260.1L399.1 263.5M426.8 259.0L445.6 260.2M438.9 256.1L445.6 260.2L438.4 263.5M464.5 258.7L486.6 260.5M478.7 255.5L486.6 260.5L478.0 264.2M502.2 258.3L527.5 261.0M518.7 255.0L527.5 261.0L517.6 265.0M541.6 257.7L566.8 261.6M558.2 255.1L566.8 261.6L556.7 265.1M581.0 257.1L606.0 262.2M597.7 255.3L606.0 262.2L595.7 265.2M621.3 256.7L644.4 262.5M636.9 255.8L644.4 262.5L634.7 264.9M661.5 256.5L682.8 262.7M676.1 256.2L682.8 262.7L673.7 264.6M700.9 256.1L722.0 263.1M715.6 256.4L722.0 263.1L712.8 264.7M740.4 255.8L761.2 263.4M755.0 256.5L761.2 263.4L752.0 264.7M779.8 255.5L800.4 263.7M794.4 256.6L800.4 263.7L791.2 264.7M819.2 255.2L839.6 264.0M833.8 256.7L839.6 264.0L830.3 264.8M858.7 255.0L878.8 264.3M873.2 256.8L878.8 264.3L869.5 264.8M898.9 255.1L917.3 264.2M912.2 257.2L917.3 264.2L908.6 264.4M91.7 279.2L112.3 279.2M104.7 275.2L112.3 279.2L104.7 283.3M131.1 279.2L151.6 279.3M144.0 275.2L151.6 279.3L143.9 283.3M169.6 279.1L191.7 279.4M183.6 274.9L191.7 279.4L183.5 283.6M208.0 279.0L231.9 279.4M223.1 274.6L231.9 279.4L223.0 284.0M247.4 279.0L271.2 279.5M262.5 274.6L271.2 279.5L262.2 284.0M287.5 278.9L309.7 279.6M301.6 275.0L309.7 279.6L301.3 283.7M329.3 278.9L346.5 279.5M340.3 275.9L346.5 279.5L340.0 282.7M368.6 278.8L385.8 279.6M379.6 276.0L385.8 279.6L379.3 282.7M408.0 278.7L425.2 279.8M419.0 276.0L425.2 279.8L418.6 282.8M445.6 278.5L466.1 280.0M458.8 275.4L466.1 280.0L458.2 283.5M483.3 278.2L507.1 280.3M498.7 274.8L507.1 280.3L497.9 284.2M521.1 277.5L548.0 281.0M538.7 274.4L548.0 281.0L537.3 285.0M561.3 277.0L586.4 281.5M578.0 274.9L586.4 281.5L576.2 284.8M601.1 276.5L625.3 282.0M617.4 275.2L625.3 282.0L615.2 284.7M641.8 276.3L663.2 282.1M656.4 275.8L663.2 282.1L654.1 284.2M682.0 276.2L701.6 282.3M695.5 276.2L701.6 282.3L693.1 283.9M720.7 275.6L741.6 282.9M735.3 276.1L741.6 282.9L732.4 284.3M760.1 275.3L780.8 283.2M774.7 276.2L780.8 283.2L771.6 284.3M799.5 275.0L820.0 283.5M814.1 276.3L820.0 283.5L810.7 284.4M838.9 274.7L859.2 283.7M853.5 276.4L859.2 283.7L849.9 284.4M879.1 274.8L897.7 283.7M892.5 276.7L897.7 283.7L889.0 284.0M918.6 274.6L936.9 283.9M931.9 276.8L936.9 283.9L928.2 284.1M112.3 299.7L131.1 298.0M123.8 294.9L131.1 298.0L124.4 302.4M150.8 299.8L171.2 298.0M163.3 294.6L171.2 298.0L164.0 302.7M190.1 299.8L210.5 298.0M202.6 294.6L210.5 298.0L203.3 302.7M229.4 299.8L249.8 298.0M241.9 294.6L249.8 298.0L242.6 302.7M268.7 299.8L289.2 298.0M281.2 294.6L289.2 298.0L281.9 302.7M308.0 298.5L328.5 299.2M321.0 294.9L328.5 299.2L320.8 303.0M348.2 298.5L367.0 299.3M360.2 295.3L367.0 299.3L359.9 302.7M389.1 298.5L404.7 299.3M399.1 295.9L404.7 299.3L398.7 302.0M426.8 298.2L445.6 299.5M438.9 295.3L445.6 299.5L438.4 302.7M464.5 298.0L486.6 299.7M478.7 294.7L486.6 299.7L478.0 303.5M502.2 297.5L527.5 300.2M518.7 294.2L527.5 300.2L517.6 304.2M541.6 296.9L566.8 300.8M558.2 294.4L566.8 300.8L556.7 304.3M581.0 296.3L606.0 301.4M597.7 294.6L606.0 301.4L595.7 304.5M621.3 296.0L644.4 301.7M636.9 295.1L644.4 301.7L634.7 304.2M662.3 296.0L682.0 301.8M675.8 295.7L682.0 301.8L673.5 303.5M701.7 295.6L721.2 302.1M715.3 295.9L721.2 302.1L712.7 303.5M740.4 295.1L761.2 302.7M755.0 295.7L761.2 302.7L752.0 304.0M779.8 294.8L800.4 303.0M794.4 295.9L800.4 303.0L791.2 304.0M819.2 294.5L839.6 303.2M833.8 296.0L839.6 303.2L830.3 304.0M858.7 294.2L878.8 303.5M873.2 296.1L878.8 303.5L869.5 304.0M898.9 294.3L917.3 303.4M912.2 296.4L917.3 303.4L908.6 303.7M93.4 318.5L110.6 318.5M104.2 315.1L110.6 318.5L104.2 321.9M132.7 318.5L149.9 318.5M143.5 315.1L149.9 318.5L143.5 321.9M172.1 319.3L189.2 317.7M182.6 314.9L189.2 317.7L183.2 321.7M211.6 320.7L228.3 316.3M221.2 314.6L228.3 316.3L223.0 321.2M250.8 320.0L267.8 317.0M260.9 314.8L267.8 317.0L262.1 321.5M289.2 318.5L308.0 318.5M301.0 314.8L308.0 318.5L301.0 322.2M328.5 317.7L347.3 319.3M340.7 315.0L347.3 319.3L340.0 322.4M369.6 317.1L384.9 319.9M379.8 315.8L384.9 319.9L378.7 321.9M407.9 318.5L425.2 318.5M418.8 315.1L425.2 318.5L418.8 321.9M444.8 318.5L467.0 318.5M458.7 314.1L467.0 318.5L458.7 322.9M483.3 318.5L507.1 318.5M498.3 313.8L507.1 318.5L498.3 323.2M522.7 317.5L546.4 319.5M538.0 314.1L546.4 319.5L537.2 323.4M562.3 315.4L585.3 321.6M578.0 314.8L585.3 321.6L575.6 323.8M602.0 314.4L624.4 322.6M617.7 315.1L624.4 322.6L614.4 324.0M642.8 315.0L662.1 322.0M656.4 315.6L662.1 322.0L653.6 323.2M682.2 315.0L701.4 322.0M695.7 315.6L701.4 322.0L692.9 323.2M720.7 314.7L741.5 322.3M735.3 315.4L741.5 322.3L732.3 323.6M759.2 314.4L781.6 322.6M774.9 315.1L781.6 322.6L771.7 324.0M800.5 314.2L819.1 322.8M813.9 316.0L819.1 322.8L810.5 323.3M839.8 314.2L858.4 322.8M853.2 316.0L858.4 322.8L849.8 323.3M879.1 314.2L897.7 322.8M892.5 316.0L897.7 322.8L889.1 323.3M918.8 313.4L936.6 323.6M932.0 316.3L936.6 323.6L928.0 323.3M113.0 338.1L130.3 338.1M123.9 334.7L130.3 338.1L123.9 341.5M153.2 338.1L168.8 338.1M163.0 335.1L168.8 338.1L163.0 341.2M193.0 340.8L207.6 335.5M201.1 334.6L207.6 335.5L203.2 340.3M232.0 339.5L247.3 336.8M241.1 334.8L247.3 336.8L242.1 340.8M271.2 337.5L286.7 338.8M281.2 335.2L286.7 338.8L280.7 341.4M310.6 336.8L325.9 339.5M320.8 335.5L325.9 339.5L319.7 341.5M349.9 336.8L365.2 339.5M360.1 335.5L365.2 339.5L359.0 341.5M389.1 337.5L404.7 338.8M399.2 335.2L404.7 338.8L398.6 341.4M426.8 337.3L445.6 339.0M439.0 334.6L445.6 339.0L438.3 342.1M465.3 337.2L485.8 339.0M478.5 334.3L485.8 339.0L477.8 342.4M505.4 338.1L524.3 338.1M517.3 334.4L524.3 338.1L517.3 341.9M544.9 336.5L563.5 339.8M557.2 334.9L563.5 339.8L555.9 342.2M583.9 334.6L603.1 341.6M597.4 335.2L603.1 341.6L594.6 342.8M622.9 335.5L642.7 340.8M636.4 334.9L642.7 340.8L634.3 342.7M662.5 334.6L681.8 341.6M676.0 335.2L681.8 341.6L673.2 342.8M701.0 334.3L721.9 341.9M715.6 335.0L721.9 341.9L712.7 343.2M739.3 335.0L762.3 341.2M755.0 334.4L762.3 341.2L752.5 343.5M779.7 334.3L800.5 341.9M794.3 335.0L800.5 341.9L791.3 343.2M820.1 333.8L838.7 342.5M833.5 335.6L838.7 342.5L830.1 342.9M859.9 333.0L877.6 343.3M873.1 336.0L877.6 343.3L869.0 343.0M899.2 333.0L916.9 343.3M912.4 336.0L916.9 343.3L908.3 343.0M94.2 357.8L109.8 357.8M104.0 354.7L109.8 357.8L104.0 360.8M133.5 357.8L149.1 357.8M143.3 354.7L149.1 357.8L143.3 360.8M174.3 360.7L187.0 354.8M181.1 354.5L187.0 354.8L183.4 359.5M214.2 359.9L225.7 355.7M220.6 354.9L225.7 355.7L222.3 359.5M252.4 356.6L266.1 359.0M261.5 355.4L266.1 359.0L260.6 360.8M291.7 356.6L305.5 359.0M300.8 355.4L305.5 359.0L299.9 360.8M331.4 355.4L344.5 360.1M340.5 355.8L344.5 360.1L338.7 361.0M371.1 357.2L383.4 358.3M379.0 355.5L383.4 358.3L378.6 360.3M408.8 357.1L424.3 358.4M418.8 354.9L424.3 358.4L418.3 361.0M447.4 359.3L464.4 356.3M457.5 354.0L464.4 356.3L458.7 360.7M488.5 359.6L501.9 356.0M496.2 354.6L501.9 356.0L497.6 359.9M529.2 360.8L539.8 354.7M534.7 354.9L539.8 354.7L537.1 359.1M566.9 357.2L580.8 358.4M575.9 355.2L580.8 358.4L575.4 360.7M604.7 356.3L621.6 359.3M615.9 354.8L621.6 359.3L614.8 361.5M643.6 354.5L661.3 361.0M656.0 355.1L661.3 361.0L653.5 362.1M681.4 354.0L702.2 361.6M696.0 354.6L702.2 361.6L693.0 362.8M720.7 354.0L741.5 361.6M735.3 354.6L741.5 361.6L732.3 362.8M760.0 354.0L780.9 361.6M774.6 354.6L780.9 361.6L771.6 362.8M800.1 354.3L819.4 361.3M813.6 354.9L819.4 361.3L810.9 362.5M839.8 353.4L858.4 362.1M853.2 355.2L858.4 362.1L849.8 362.5M879.5 352.6L897.3 362.9M892.7 355.6L897.3 362.9L888.7 362.6M919.5 353.0L935.9 362.5M931.7 355.8L935.9 362.5L928.0 362.2M115.6 376.3L127.7 378.5M123.6 375.3L127.7 378.5L122.8 380.0M157.5 380.3L164.4 374.5M160.7 375.3L164.4 374.5L163.0 378.0M200.9 380.6L199.7 374.2M198.7 377.2L199.7 374.2L201.7 376.7M240.0 381.9L239.2 372.9M237.8 376.4L239.2 372.9L241.3 376.1M274.2 373.4L283.6 381.3M281.7 376.6L283.6 381.3L278.6 380.3M313.2 373.9L323.3 380.9M320.9 376.3L323.3 380.9L318.2 380.3M351.5 376.3L363.6 378.5M359.6 375.3L363.6 378.5L358.7 380.0M389.9 377.4L403.9 377.4M398.7 374.6L403.9 377.4L398.7 380.1M427.9 379.6L444.5 375.2M437.5 373.5L444.5 375.2L439.2 380.1M470.9 380.0L480.1 374.7M475.7 374.9L480.1 374.7L477.8 378.5M510.4 376.6L519.3 378.2M516.3 375.8L519.3 378.2L515.7 379.3M550.1 374.0L558.2 380.8M556.6 376.7L558.2 380.8L553.9 379.9M588.9 374.7L598.1 380.0M595.7 376.3L598.1 380.0L593.6 379.9M626.0 376.2L639.7 378.6M635.1 375.0L639.7 378.6L634.1 380.4M664.0 374.4L680.2 380.3M675.4 375.0L680.2 380.3L673.1 381.3M702.6 374.2L720.3 380.6M715.0 374.7L720.3 380.6L712.5 381.7M741.9 374.2L759.6 380.6M754.3 374.7L759.6 380.6L751.8 381.7M781.8 375.2L798.4 379.6M793.1 374.7L798.4 379.6L791.4 381.2M819.8 373.9L839.1 380.9M833.3 374.5L839.1 380.9L830.5 382.1M859.4 373.1L878.0 381.7M872.9 374.8L878.0 381.7L869.4 382.2M899.2 372.3L916.9 382.5M912.4 375.2L916.9 382.5L908.3 382.2M91.1 397.0L112.9 397.0M104.8 392.7L112.9 397.0L104.8 401.3M132.7 397.0L149.9 397.0M143.5 393.6L149.9 397.0L143.5 400.4M184.6 397.0L176.6 397.0M179.6 398.6L176.6 397.0L179.6 395.4M224.4 397.0L215.5 397.0M218.8 398.8L215.5 397.0L218.8 395.3M262.7 395.8L255.8 398.3M259.0 398.7L255.8 398.3L258.0 395.9M297.1 392.8L300.1 401.2M300.7 397.5L300.1 401.2L297.3 398.7M333.9 393.6L342.0 400.4M340.3 396.3L342.0 400.4L337.6 399.5M371.1 397.0L383.4 397.0M378.8 394.6L383.4 397.0L378.8 399.4M408.8 397.0L424.3 397.0M418.6 393.9L424.3 397.0L418.6 400.1M450.1 399.1L461.6 394.9M456.5 394.2L461.6 394.9L458.2 398.8M497.4 400.9L493.0 393.1M493.1 396.9L493.0 393.1L496.2 395.1M532.7 400.2L536.4 393.8M533.6 395.5L536.4 393.8L536.2 397.0M569.6 395.5L578.1 398.6M575.5 395.8L578.1 398.6L574.3 399.1M607.8 397.0L618.5 397.0M614.5 394.9L618.5 397.0L614.5 399.1M646.6 398.6L658.4 395.4M653.4 394.3L658.4 395.4L654.6 398.9M684.7 393.7L698.9 400.3M694.9 395.1L698.9 400.3L692.3 400.7M724.4 395.2L737.8 398.8M733.6 394.8L737.8 398.8L732.1 400.1M764.5 395.4L776.4 398.6M772.6 395.1L776.4 398.6L771.3 399.8M802.4 394.4L817.1 399.7M812.7 394.8L817.1 399.7L810.6 400.6M841.3 393.4L856.9 400.7M852.5 394.9L856.9 400.7L849.7 401.0M879.8 393.0L897.0 401.0M892.2 394.7L897.0 401.0L889.0 401.4M918.8 391.9L936.6 402.2M932.0 394.8L936.6 402.2L928.0 401.9M113.3 414.4L130.0 418.9M124.7 413.9L130.0 418.9L122.9 420.5M157.5 411.6L164.5 421.7M163.9 416.6L164.5 421.7L159.9 419.3M196.9 412.6L203.7 420.7M202.8 416.4L203.7 420.7L199.6 419.0M235.4 418.2L243.8 415.1M240.1 414.6L243.8 415.1L241.3 417.9M280.5 420.0L277.4 413.3M277.2 416.5L277.4 413.3L279.9 415.3M316.9 411.5L319.6 421.8M320.6 417.4L319.6 421.8L316.6 418.5M352.3 416.2L362.9 417.1M359.1 414.7L362.9 417.1L358.8 418.9M389.1 416.6L404.7 416.6M398.9 413.6L404.7 416.6L398.9 419.7M430.1 417.2L442.3 416.1M437.6 414.1L442.3 416.1L438.0 418.9M475.5 420.3L475.5 413.0M474.0 415.8L475.5 413.0L477.0 415.8M518.5 416.6L511.2 416.6M514.0 418.2L511.2 416.6L514.0 415.1M555.0 421.1L553.4 412.2M552.2 415.8L553.4 412.2L555.7 415.2M592.7 421.1L594.3 412.2M592.0 415.2L594.3 412.2L595.4 415.8M629.4 419.5L636.3 413.8M632.6 414.5L636.3 413.8L634.8 417.3M667.1 414.8L677.1 418.5M674.1 415.2L677.1 418.5L672.7 419.1M703.8 415.3L719.1 418.0M714.0 414.0L719.1 418.0L712.9 420.0M746.4 415.5L755.1 417.8M752.4 415.2L755.1 417.8L751.4 418.7M785.9 415.1L794.3 418.2M791.8 415.4L794.3 418.2L790.6 418.7M824.1 413.6L834.7 419.7M832.0 415.3L834.7 419.7L829.6 419.5M862.7 413.2L874.8 420.1M871.7 415.2L874.8 420.1L868.9 419.9M900.6 412.3L915.5 421.0M911.7 414.8L915.5 421.0L908.3 420.7M95.0 436.3L109.0 436.3M103.8 433.5L109.0 436.3L103.8 439.0M135.4 431.3L147.3 441.3M144.8 435.2L147.3 441.3L140.9 439.9M177.6 431.0L183.7 441.6M183.5 436.4L183.7 441.6L179.3 438.9M216.5 432.2L223.4 440.3M222.4 436.0L223.4 440.3L219.2 438.7M255.8 433.4L262.7 439.2M261.3 435.7L262.7 439.2L259.0 438.4M295.0 436.0L302.2 436.6M299.6 434.9L302.2 436.6L299.3 437.8M337.1 431.9L338.7 440.7M339.9 437.1L338.7 440.7L336.4 437.7M372.9 431.9L381.6 440.6M380.1 435.7L381.6 440.6L376.6 439.1M407.1 436.3L426.0 436.3M419.0 432.6L426.0 436.3L419.0 440.0M455.9 439.9L455.9 432.6M454.4 435.4L455.9 432.6L457.4 435.4M495.5 439.9L494.9 432.6M493.6 435.6L494.9 432.6L496.6 435.3M536.4 439.5L532.7 433.1M532.8 436.3L532.7 433.1L535.4 434.8M576.6 438.6L571.0 433.9M572.2 436.9L571.0 433.9L574.2 434.6M609.7 439.2L616.6 433.4M612.9 434.2L616.6 433.4L615.2 436.9M648.0 436.3L657.0 436.3M653.6 434.5L657.0 436.3L653.6 438.0M687.5 431.9L696.1 440.6M694.6 435.7L696.1 440.6L691.2 439.1M727.7 433.4L734.6 439.2M733.1 435.7L734.6 439.2L730.9 438.4M767.6 432.8L773.3 439.7M772.5 436.0L773.3 439.7L769.8 438.3M807.4 433.5L812.1 439.1M811.4 436.0L812.1 439.1L809.1 437.9M845.3 432.5L852.8 440.0M851.5 435.8L852.8 440.0L848.6 438.7M882.7 432.3L894.1 440.3M891.4 435.1L894.1 440.3L888.3 439.6M921.3 431.8L934.1 440.7M931.1 434.9L934.1 440.7L927.6 439.9M112.4 454.3L131.0 457.5M124.7 452.7L131.0 457.5L123.4 460.0M151.7 454.3L170.3 457.5M164.0 452.7L170.3 457.5L162.7 460.0M191.8 454.4L208.8 457.4M203.1 453.0L208.8 457.4L201.9 459.6M232.1 453.9L247.1 457.9M242.4 453.5L247.1 457.9L240.8 459.4M273.8 454.5L284.1 457.3M280.8 454.2L284.1 457.3L279.7 458.3M314.8 453.0L321.7 458.8M320.3 455.3L321.7 458.8L318.0 458.0M355.8 450.9L359.4 460.9M360.0 456.5L359.4 460.9L356.1 457.9M390.9 450.9L402.9 460.9M400.4 454.9L402.9 460.9L396.5 459.6M430.5 453.8L442.0 458.0M438.5 454.2L442.0 458.0L436.9 458.7M474.8 451.5L476.3 460.3M477.5 456.7L476.3 460.3L474.0 457.4M509.5 455.9L520.2 455.9M516.2 453.8L520.2 455.9L516.2 458.0M548.9 455.0L559.4 456.8M555.9 454.1L559.4 456.8L555.2 458.2M589.6 458.2L597.4 453.7M593.6 453.8L597.4 453.7L595.4 456.9M631.0 459.1L634.7 452.7M631.9 454.4L634.7 452.7L634.5 455.9M668.5 455.3L675.7 456.5M673.2 454.6L675.7 456.5L672.7 457.5M708.3 452.7L714.6 459.1M713.5 455.5L714.6 459.1L711.0 458.0M747.6 457.7L754.0 454.1M750.8 454.2L754.0 454.1L752.3 456.8M786.9 454.1L793.3 457.7M791.6 455.0L793.3 457.7L790.1 457.6M827.9 452.6L831.0 459.2M831.1 456.0L831.0 459.2L828.4 457.3M864.4 451.6L873.1 460.2M871.6 455.3L873.1 460.2L868.1 458.7M902.7 451.4L913.4 460.4M911.2 455.0L913.4 460.4L907.7 459.2M90.9 475.5L113.1 475.5M104.9 471.2L113.1 475.5L104.9 479.9M129.4 475.5L153.2 475.5M144.4 470.8L153.2 475.5L144.4 480.2M168.7 475.5L192.6 475.5M183.7 470.8L192.6 475.5L183.7 480.2M208.9 475.5L231.0 475.5M222.8 471.2L231.0 475.5L222.8 479.9M249.2 473.8L269.4 477.3M262.6 472.0L269.4 477.3L261.2 480.0M290.1 474.0L307.1 477.0M301.4 472.6L307.1 477.0L300.2 479.3M333.6 471.2L342.3 479.9M340.8 474.9L342.3 479.9L337.3 478.4M371.3 470.5L383.2 480.5M380.8 474.5L383.2 480.5L376.8 479.2M408.9 474.2L424.2 476.9M419.1 472.9L424.2 476.9L418.0 478.9M450.6 474.6L461.1 476.5M457.6 473.7L461.1 476.5L456.9 477.8M490.9 474.4L499.5 476.7M496.8 474.1L499.5 476.7L495.9 477.5M529.5 473.7L539.5 477.4M536.5 474.0L539.5 477.4L535.1 478.0M568.1 473.4L579.6 477.6M576.2 473.8L579.6 477.6L574.5 478.4M608.7 475.5L617.6 475.5M614.3 473.8L617.6 475.5L614.3 477.3M648.9 476.2L656.1 474.9M653.0 473.9L656.1 474.9L653.6 476.9M687.9 473.3L695.7 477.8M693.7 474.6L695.7 477.8L691.9 477.7M727.2 473.3L735.0 477.8M733.0 474.6L735.0 477.8L731.2 477.7M767.3 473.7L773.6 477.4M771.9 474.7L773.6 477.4L770.4 477.3M808.5 472.1L811.0 479.0M811.5 475.8L811.0 479.0L808.6 476.8M847.2 471.5L851.0 479.6M851.2 475.8L851.0 479.6L848.0 477.3M885.3 470.2L891.5 480.9M891.3 475.7L891.5 480.9L887.1 478.1M923.7 469.8L931.7 481.2M931.0 475.4L931.7 481.2L926.5 478.6M109.7 495.2L133.6 495.2M124.7 490.5L133.6 495.2L124.7 499.9M148.2 495.2L173.7 495.2M164.3 490.1L173.7 495.2L164.3 500.2M187.6 495.2L213.0 495.2M203.6 490.1L213.0 495.2L203.6 500.2M227.7 495.2L251.5 495.2M242.7 490.5L251.5 495.2L242.7 499.9M267.9 494.2L290.0 496.1M282.2 491.1L290.0 496.1L281.4 499.8M309.0 493.5L327.6 496.8M321.3 491.9L327.6 496.8L320.0 499.3M349.9 493.8L365.2 496.5M360.1 492.5L365.2 496.5L359.0 498.5M388.4 493.7L405.4 496.7M399.7 492.2L405.4 496.7L398.5 498.9M426.9 493.5L445.5 496.8M439.3 491.9L445.5 496.8L438.0 499.3M469.5 494.1L481.6 496.2M477.5 493.1L481.6 496.2L476.7 497.8M509.9 493.4L519.9 497.0M516.9 493.7L519.9 497.0L515.4 497.6M548.6 492.6L559.7 497.8M556.6 493.6L559.7 497.8L554.6 498.0M588.5 493.4L598.5 497.0M595.5 493.7L598.5 497.0L594.1 497.6M628.4 494.4L637.2 495.9M634.3 493.6L637.2 495.9L633.7 497.1M668.7 493.9L675.6 496.4M673.4 494.0L675.6 496.4L672.4 496.9M707.8 492.6L715.1 497.7M713.4 494.4L715.1 497.7L711.4 497.3M746.2 492.5L755.4 497.8M753.0 494.0L755.4 497.8L750.9 497.7M785.5 492.5L794.7 497.8M792.3 494.0L794.7 497.8L790.2 497.7M827.9 491.9L831.0 498.5M831.1 495.3L831.0 498.5L828.4 496.6M866.9 490.2L870.6 500.2M871.2 495.7L870.6 500.2L867.2 497.2M905.5 489.6L910.7 500.7M910.9 495.6L910.7 500.7L906.5 497.6M90.1 514.8L113.9 514.8M105.1 510.1L113.9 514.8L105.1 519.5M128.6 514.8L154.1 514.8M144.6 509.8L154.1 514.8L144.6 519.8M167.1 514.8L194.2 514.8M184.1 509.5L194.2 514.8L184.1 520.1M206.4 513.6L233.5 516.0M223.9 509.8L233.5 516.0L223.0 520.4M246.6 513.7L272.0 515.9M263.0 510.1L272.0 515.9L262.1 520.1M287.7 512.9L309.5 516.7M302.2 511.0L309.5 516.7L300.7 519.6M328.6 513.2L347.2 516.4M341.0 511.6L347.2 516.4L339.7 518.9M367.9 513.2L386.5 516.4M380.3 511.6L386.5 516.4L379.0 518.9M406.5 513.0L426.7 516.6M419.9 511.3L426.7 516.6L418.5 519.2M446.6 513.2L465.2 516.4M458.9 511.6L465.2 516.4L457.6 518.9M487.7 512.8L502.7 516.8M497.9 512.4L502.7 516.8L496.3 518.3M528.0 512.4L541.1 517.2M537.1 512.8L541.1 517.2L535.3 518.0M568.3 512.2L579.4 517.4M576.3 513.3L579.4 517.4L574.3 517.7M608.3 512.6L618.0 517.0M615.3 513.5L618.0 517.0L613.5 517.3M648.1 514.0L656.9 515.6M653.9 513.3L656.9 515.6L653.3 516.7M687.0 512.6L696.6 517.0M693.9 513.5L696.6 517.0L692.2 517.3M726.8 511.8L735.5 517.8M733.4 513.9L735.5 517.8L731.0 517.3M765.4 511.3L775.5 518.3M773.1 513.7L775.5 518.3L770.4 517.7M805.4 511.8L814.1 517.8M812.1 513.9L814.1 517.8L809.7 517.3M846.8 510.0L851.3 519.6M851.6 515.2L851.3 519.6L847.8 516.9M886.6 509.8L890.2 519.8M890.8 515.4L890.2 519.8L886.9 516.8M924.7 509.5L930.8 520.1M930.6 515.0L930.8 520.1L926.4 517.4M108.9 533.7L134.4 535.2M125.2 529.6L134.4 535.2L124.7 539.6M147.4 533.5L174.5 535.4M164.8 529.3L174.5 535.4L164.1 540.0M186.8 533.4L213.8 535.5M204.2 529.4L213.8 535.5L203.4 540.0M226.9 533.3L252.3 535.6M243.3 529.7L252.3 535.6L242.5 539.7M266.3 533.2L291.6 535.7M282.7 529.8L291.6 535.7L281.7 539.8M306.4 533.1L330.1 535.8M321.8 530.1L330.1 535.8L320.8 539.4M345.8 532.9L369.4 535.9M361.2 530.2L369.4 535.9L360.0 539.5M385.9 532.9L407.9 536.0M400.3 530.5L407.9 536.0L399.1 539.2M425.3 532.7L447.2 536.1M439.7 530.5L447.2 536.1L438.4 539.2M465.4 532.7L485.7 536.2M478.8 530.9L485.7 536.2L477.5 538.9M505.6 532.6L524.1 536.2M518.0 531.2L524.1 536.2L516.5 538.5M545.8 532.6L562.6 536.2M557.1 531.6L562.6 536.2L555.6 538.2M586.7 532.8L600.3 536.0M595.9 532.2L600.3 536.0L594.6 537.5M626.1 532.7L639.6 536.2M635.2 532.2L639.6 536.2L633.9 537.5M666.3 532.5L678.0 536.3M674.4 532.6L678.0 536.3L672.9 537.2M705.8 532.0L717.1 536.8M713.9 532.8L717.1 536.8L712.0 537.3M745.4 531.5L756.2 537.3M753.3 533.0L756.2 537.3L751.0 537.3M784.2 530.7L796.0 538.1M793.1 533.1L796.0 538.1L790.2 537.7M823.8 530.3L835.1 538.5M832.5 533.3L835.1 538.5L829.3 537.7M863.3 530.1L874.2 538.8M871.9 533.4L874.2 538.8L868.4 537.7M902.8 529.9L913.4 538.9M911.2 533.5L913.4 538.9L907.7 537.7M90.1 553.4L113.9 554.7M105.3 549.5L113.9 554.7L104.8 558.9M128.6 553.3L154.0 554.9M144.9 549.3L154.0 554.9L144.3 559.3M167.9 553.1L193.3 555.0M184.3 549.3L193.3 555.0L183.6 559.3M206.4 552.9L233.5 555.2M223.9 549.0L233.5 555.2L223.0 559.7M245.8 552.8L272.8 555.3M263.3 549.1L272.8 555.3L262.3 559.7M285.1 552.6L312.1 555.5M302.6 549.1L312.1 555.5L301.5 559.7M325.3 552.6L350.6 555.6M341.8 549.5L350.6 555.6L340.6 559.4M364.6 552.4L389.9 555.7M381.2 549.5L389.9 555.7L379.8 559.5M404.0 552.2L429.2 555.9M420.5 549.6L429.2 555.9L419.1 559.5M444.1 552.2L467.6 556.0M459.7 549.9L467.6 556.0L458.2 559.2M484.3 552.1L506.1 556.1M498.8 550.3L506.1 556.1L497.2 558.9M524.5 552.0L544.6 556.1M537.9 550.6L544.6 556.1L536.3 558.6M565.4 552.2L582.2 556.0M576.8 551.2L582.2 556.0L575.3 557.9M605.6 552.2L620.7 555.9M615.9 551.6L620.7 555.9L614.4 557.5M645.0 552.0L660.0 556.1M655.2 551.6L660.0 556.1L653.6 557.6M685.3 551.6L698.3 556.5M694.4 552.1L698.3 556.5L692.5 557.3M725.6 551.4L736.7 556.7M733.6 552.6L736.7 556.7L731.5 556.9M764.4 550.6L776.5 557.5M773.4 552.6L776.5 557.5L770.6 557.3M804.0 550.2L815.5 558.0M812.8 552.8L815.5 558.0L809.7 557.3M842.9 549.3L855.2 558.8M852.6 552.9L855.2 558.8L848.8 557.7M882.4 549.1L894.4 559.0M891.9 553.0L894.4 559.0L888.0 557.7M921.9 548.9L933.6 559.2M931.3 553.1L933.6 559.2L927.2 557.7M108.9 573.0L134.4 574.4M125.2 568.9L134.4 574.4L124.7 578.9M148.3 572.8L173.7 574.6M164.6 568.9L173.7 574.6L163.9 578.9M186.8 572.6L213.8 574.8M204.2 568.6L213.8 574.8L203.4 579.3M226.1 572.5L253.1 574.9M243.6 568.7L253.1 574.9L242.6 579.3M265.4 572.3L292.4 575.0M283.0 568.7L292.4 575.0L281.9 579.4M304.8 572.2L331.7 575.2M322.3 568.8L331.7 575.2L321.1 579.4M344.1 572.0L371.0 575.4M361.7 568.8L371.0 575.4L360.4 579.4M384.3 571.9L409.5 575.4M400.9 569.2L409.5 575.4L399.5 579.1M423.6 571.8L448.8 575.6M440.2 569.2L448.8 575.6L438.7 579.2M463.0 571.5L488.1 575.9M479.6 569.3L488.1 575.9L477.9 579.2M503.2 571.4L526.6 576.0M518.8 569.7L526.6 576.0L517.0 578.9M543.3 571.4L565.0 576.0M557.9 570.0L565.0 576.0L556.1 578.6M584.3 571.5L602.7 575.9M596.7 570.6L602.7 575.9L595.0 577.9M623.7 571.3L642.0 576.1M636.1 570.7L642.0 576.1L634.2 577.9M663.9 571.0L680.3 576.3M675.3 571.1L680.3 576.3L673.2 577.6M704.3 570.6L718.6 576.7M714.5 571.6L718.6 576.7L712.1 577.3M744.6 570.4L756.9 577.0M753.7 572.1L756.9 577.0L751.1 577.0M784.2 570.0L796.0 577.4M793.1 572.3L796.0 577.4L790.2 577.0M823.8 569.6L835.1 577.8M832.5 572.5L835.1 577.8L829.3 577.0M862.0 568.3L875.5 579.1M872.6 572.4L875.5 579.1L868.3 577.7M900.9 567.6L915.3 579.8M912.3 572.4L915.3 579.8L907.5 578.1M89.3 592.7L114.7 594.0M105.5 588.5L114.7 594.0L105.0 598.5M128.6 592.5L154.0 594.1M144.9 588.5L154.0 594.1L144.3 598.5M167.9 592.4L193.3 594.3M184.3 588.6L193.3 594.3L183.6 598.6M206.4 592.2L233.5 594.5M223.9 588.3L233.5 594.5L223.0 598.9M245.8 592.0L272.8 594.6M263.3 588.3L272.8 594.6L262.3 599.0M285.1 591.9L312.1 594.7M302.6 588.4L312.1 594.7L301.5 599.0M324.5 591.7L351.4 594.9M342.0 588.4L351.4 594.9L340.8 599.0M363.8 591.5L390.7 595.1M381.4 588.5L390.7 595.1L380.0 599.1M403.1 591.4L430.0 595.3M420.8 588.5L430.0 595.3L419.3 599.1M442.5 591.2L469.3 595.5M460.2 588.6L469.3 595.5L458.5 599.2M482.7 591.0L507.7 595.6M499.3 589.0L507.7 595.6L497.5 598.9M522.0 590.8L547.0 595.9M538.7 589.1L547.0 595.9L536.7 598.9M562.2 590.7L585.5 595.9M577.9 589.4L585.5 595.9L575.8 598.6M602.4 590.7L623.9 596.0M617.0 589.8L623.9 596.0L614.9 598.3M642.6 590.6L662.4 596.0M656.1 590.1L662.4 596.0L654.0 597.9M683.0 590.0L700.6 596.6M695.4 590.7L700.6 596.6L692.8 597.7M722.6 589.3L739.6 597.4M734.9 591.0L739.6 597.4L731.7 597.7M763.0 589.0L777.9 597.6M774.1 591.5L777.9 597.6L770.7 597.4M803.3 589.0L816.2 597.7M813.1 591.9L816.2 597.7L809.7 597.0M842.3 588.0L855.9 598.6M852.9 592.0L855.9 598.6L848.7 597.4M881.1 587.3L895.7 599.3M892.6 592.0L895.7 599.3L887.9 597.7M920.0 586.6L935.5 600.1M932.4 592.0L935.5 600.1L927.1 598.1M109.8 612.3L133.6 613.6M125.0 608.4L133.6 613.6L124.5 617.8M148.3 612.1L173.7 613.8M164.6 608.2L173.7 613.8L163.9 618.2M187.6 612.0L213.0 613.9M204.0 608.2L213.0 613.9L203.2 618.2M226.9 611.8L252.3 614.1M243.3 608.2L252.3 614.1L242.5 618.2M265.4 611.6L292.4 614.3M283.0 608.0L292.4 614.3L281.9 618.6M304.8 611.4L331.7 614.5M322.3 608.0L331.7 614.5L321.1 618.7M344.1 611.3L371.0 614.6M361.7 608.1L371.0 614.6L360.4 618.7M383.5 611.1L410.3 614.8M401.1 608.1L410.3 614.8L399.6 618.7M422.8 610.9L449.6 615.0M440.5 608.2L449.6 615.0L438.9 618.8M462.2 610.6L488.9 615.3M479.9 608.3L488.9 615.3L478.1 618.8M501.5 610.4L528.2 615.5M519.3 608.4L528.2 615.5L517.3 618.9M541.7 610.3L566.6 615.6M558.5 608.7L566.6 615.6L556.3 618.6M581.1 610.0L605.9 615.9M597.9 608.8L605.9 615.9L595.5 618.6M621.3 610.0L644.4 615.9M637.0 609.2L644.4 615.9L634.6 618.3M660.8 609.3L683.5 616.6M676.5 609.4L683.5 616.6L673.6 618.4M701.3 608.6L721.7 617.3M715.8 610.0L721.7 617.3L712.4 618.1M741.0 607.7L760.6 618.2M755.4 610.4L760.6 618.2L751.2 618.2M781.4 607.5L798.8 618.4M794.5 610.9L798.8 618.4L790.2 617.8M821.8 607.4L837.1 618.5M833.6 611.4L837.1 618.5L829.2 617.4M861.4 607.0L876.1 618.9M873.0 611.6L876.1 618.9L868.3 617.4M900.2 606.3L915.9 619.6M912.7 611.6L915.9 619.6L907.5 617.8M90.1 632.0L113.9 633.2M105.3 628.0L113.9 633.2L104.8 637.4M129.4 631.8L153.2 633.3M144.7 628.1L153.2 633.3L144.1 637.5M167.9 631.6L193.3 633.5M184.3 627.8L193.3 633.5L183.6 637.8M207.3 631.5L232.7 633.6M223.7 627.8L232.7 633.6L222.8 637.9M245.8 631.3L272.8 633.9M263.3 627.6L272.8 633.9L262.3 638.2M285.1 631.2L312.1 634.0M302.6 627.6L312.1 634.0L301.5 638.3M324.5 631.0L351.4 634.2M342.0 627.7L351.4 634.2L340.8 638.3M363.8 630.8L390.7 634.4M381.4 627.7L390.7 634.4L380.0 638.3M403.1 630.6L430.0 634.5M420.8 627.8L430.0 634.5L419.3 638.4M442.5 630.4L469.3 634.7M460.2 627.9L469.3 634.7L458.5 638.4M481.0 630.0L509.4 635.2M500.3 628.0L509.4 635.2L498.4 638.7M521.2 629.9L547.8 635.3M539.0 628.0L547.8 635.3L536.9 638.5M560.6 629.6L587.1 635.6M578.4 628.1L587.1 635.6L576.1 638.6M600.8 629.5L625.5 635.6M617.6 628.5L625.5 635.6L615.1 638.2M640.2 629.2L664.8 635.9M657.0 628.6L664.8 635.9L654.3 638.3M680.6 628.4L703.0 636.7M696.3 629.3L703.0 636.7L693.0 638.1M720.4 627.4L741.9 637.7M735.9 629.7L741.9 637.7L731.9 638.1M760.8 627.0L780.0 638.1M775.1 630.2L780.0 638.1L770.7 637.8M801.2 626.8L818.3 638.3M814.2 630.7L818.3 638.3L809.7 637.4M841.0 626.3L857.2 638.9M853.7 631.0L857.2 638.9L848.7 637.4M879.8 625.5L897.0 639.6M893.4 631.0L897.0 639.6L887.8 637.8M919.4 625.3L936.1 639.9M932.8 631.2L936.1 639.9L927.0 637.8"/>
<polyline points="157.0,100.0 166.0,164.0 173.0,219.5 179.5,277.0 184.5,310.0 190.8,372.5 198.2,435.0 204.5,500.0 213.0,556.0 217.2,598.0 220.0,634.0" fill="none" stroke="#A8DCF0" stroke-width="1.2"/>
<polyline points="100.0,520.8 135.8,515.6 181.3,509.7 262.0,502.9 316.5,493.2 383.0,484.3 460.0,477.7 529.0,464.0 600.0,453.0 700.0,444.3 766.0,434.0 810.0,428.4 867.1,418.9 950.0,410.5" fill="none" stroke="#A8DCF0" stroke-width="1.2"/>
<polyline points="241.5,419.6 255.4,432.8" fill="none" stroke="#7FA0F8" stroke-width="1.2"/>
<polyline points="259.5,102.0 264.5,120.8 262.0,129.5 252.0,149.5 242.0,169.5 232.0,184.5 219.5,199.5 207.0,213.2 199.5,219.0 184.5,220.8" fill="none" stroke="#fff" stroke-width="1.9" stroke-linejoin="round"/>
<polyline points="259.5,102.0 242.0,110.8 224.5,118.2 207.0,124.5 189.5,130.8 177.0,140.8 174.5,162.0 172.0,182.0 170.8,202.0 177.0,214.5 180.8,219.5 184.5,220.8" fill="none" stroke="#fff" stroke-width="1.9" stroke-linejoin="round"/>
<polyline points="180.8,219.5 178.2,224.5 169.5,237.0 162.0,242.0 152.0,238.2 139.5,230.8 122.0,221.5 100.0,228.2" fill="none" stroke="#fff" stroke-width="1.9" stroke-linejoin="round"/>
<polyline points="184.5,220.8 184.5,222.0 185.8,232.0 192.0,242.0 202.0,252.0 209.5,259.5 207.0,267.0 199.5,278.0 197.0,289.5 189.5,299.5 185.8,315.0 184.5,325.0 185.8,337.5 194.5,347.5 202.0,353.8 219.5,350.0 229.5,335.0 240.0,331.0 247.6,326.0 256.5,318.4 265.3,310.8 275.4,304.4 283.0,298.1 286.8,288.0 290.6,279.1 295.7,269.0 299.5,257.6 302.0,250.0 302.0,242.0 305.0,232.0 306.0,221.0 305.8,209.5 307.0,202.0 309.5,189.5 314.5,177.0 322.0,169.5 338.0,163.2 350.5,162.0 363.0,161.5 378.0,160.8 388.0,152.0 395.5,144.5 403.0,134.5 409.2,119.5 414.2,100.0" fill="none" stroke="#fff" stroke-width="1.9" stroke-linejoin="round"/>
<polyline points="338.0,197.0 334.5,207.0 330.8,219.5 328.0,232.0 322.9,250.0 319.7,260.1 316.0,271.5 312.8,281.6 312.2,298.1 308.4,304.4 300.8,313.3 293.2,318.4 281.8,326.0 270.4,332.3 259.5,337.5 252.0,345.0 242.0,357.5 229.5,370.0 218.2,378.0 197.0,370.0 177.0,363.8 160.8,358.8 160.8,347.5 164.5,332.5 170.8,320.0 167.0,308.0 162.0,302.0 152.0,299.5 127.0,295.8 100.0,294.5" fill="none" stroke="#fff" stroke-width="1.9" stroke-linejoin="round"/>
<polyline points="338.0,197.0 350.5,198.2 363.0,198.2 375.5,200.8 388.0,199.5 400.5,195.8 415.5,193.2 420.5,199.5 428.0,212.0 435.5,230.8 455.5,232.0 473.0,225.8 483.0,217.0 493.0,204.5 500.5,198.2 515.5,194.0 518.0,199.5 513.0,209.5 500.5,222.0 483.0,234.5 470.5,247.0 460.5,259.5 461.8,277.0 465.5,292.0 470.5,302.0 473.0,315.0 470.5,321.4 456.0,335.3 450.0,341.6 447.4,358.1 452.5,367.0 456.0,369.5 464.1,378.4 476.8,383.4 489.4,397.3 498.3,410.0 504.0,416.3 500.8,425.2 498.3,436.6 485.6,442.9 474.3,448.0 460.0,452.0" fill="none" stroke="#fff" stroke-width="1.9" stroke-linejoin="round"/>
<polyline points="644.0,100.0 636.5,119.5 629.0,132.0 619.0,144.5 606.5,154.5 594.0,162.0 575.0,174.5 563.0,184.5 555.5,202.0 548.0,217.0 538.0,234.5 528.0,247.0 518.0,257.0 508.0,267.0 500.5,277.0 498.0,292.0 494.7,304.0 489.4,315.0 484.4,335.3 470.5,358.1 488.2,378.4 504.6,391.0 517.3,401.1 527.4,408.7 536.3,413.8 548.9,417.6 554.0,430.3 559.1,410.0 566.0,395.0 573.4,383.7 580.0,372.0 592.3,360.6 610.0,344.2 632.8,341.0 653.0,344.2 670.7,358.1" fill="none" stroke="#fff" stroke-width="1.9" stroke-linejoin="round"/>
<polyline points="670.7,358.1 660.6,377.1 672.0,394.8 675.8,375.8 673.3,358.1 670.7,358.1" fill="none" stroke="#fff" stroke-width="1.9" stroke-linejoin="round"/>
<polyline points="673.3,358.1 691.0,336.6 702.7,331.5 711.5,327.7 712.8,329.0 721.6,339.1 721.6,358.4 717.8,369.5 714.0,380.9 709.0,396.1 711.5,407.5 728.0,410.0 750.8,410.0 753.3,412.5 758.4,417.6 766.0,420.1 778.6,420.8 790.0,421.4 797.6,425.2 810.0,429.0 822.8,439.5 837.5,448.4 852.3,458.7 871.5,469.1 887.4,476.9 908.4,482.4 950.0,480.9" fill="none" stroke="#fff" stroke-width="1.9" stroke-linejoin="round"/>
<polyline points="709.0,122.0 721.5,114.5 734.0,109.5 751.5,109.5 766.5,117.0 779.0,129.5 789.0,142.0 796.5,157.0 797.8,172.0 796.5,182.0 789.0,187.0 774.0,182.0 759.0,179.5 744.0,174.5 731.5,169.5 721.5,159.5 714.0,149.5 709.0,137.0 707.8,127.0 709.0,122.0" fill="none" stroke="#fff" stroke-width="1.9" stroke-linejoin="round"/>
<polyline points="566.0,100.0 574.0,107.0 591.5,114.5 606.5,104.5 609.0,100.0" fill="none" stroke="#fff" stroke-width="1.9" stroke-linejoin="round"/>
<polyline points="768.5,455.6 788.7,454.3 797.6,460.6 810.0,469.5 822.8,479.4 837.5,489.8 849.4,501.6 864.1,510.4 876.0,517.1 887.8,518.4 911.4,518.4 950.0,517.0" fill="none" stroke="#fff" stroke-width="1.9" stroke-linejoin="round"/>
<polyline points="768.5,455.6 760.9,473.3 766.0,496.1 781.1,517.0 788.3,528.0 799.6,542.1 810.0,551.9 822.8,565.7 837.5,577.5 852.3,587.9 867.1,599.7 881.9,614.4 890.7,624.8 899.6,634.0" fill="none" stroke="#fff" stroke-width="1.9" stroke-linejoin="round"/>
<polyline points="455.3,464.6 470.5,460.6 492.0,459.4 513.5,455.6 532.5,460.6 552.7,468.2 572.0,469.5 579.6,458.1 593.5,450.5 612.5,442.9 622.6,435.3 632.8,421.4 642.9,422.0 653.0,423.9 655.9,436.6 663.1,444.2 675.8,455.6 682.1,473.3 687.2,496.1 673.3,498.6 651.7,493.5 637.8,504.9 626.0,514.0 626.1,528.0 628.2,533.7 638.0,542.1 650.7,554.7 663.3,561.8 675.9,570.2 692.0,584.2 704.0,592.7 718.1,602.5 732.1,612.3 743.4,622.2 753.2,634.0" fill="none" stroke="#fff" stroke-width="1.9" stroke-linejoin="round"/>
<polyline points="100.0,358.8 114.5,372.5 127.0,377.5 140.8,378.8 147.0,387.5 152.0,397.5 149.5,410.0 148.2,417.5 152.0,425.0 159.5,435.0 169.5,442.5 180.8,451.2 197.0,450.0 219.5,446.2 237.0,446.2 259.5,451.2 277.0,462.5 292.0,472.5 294.5,480.0 297.0,493.5 294.5,505.3 291.1,513.8 301.3,522.2 314.8,532.3 328.3,538.2 343.5,540.8 364.1,539.3 371.1,535.1 357.1,522.4 346.0,513.8 346.8,495.2 361.3,483.4 377.8,470.8 382.8,454.3 381.6,439.1 380.3,420.0 390.4,410.0 415.7,402.4 427.1,411.3 432.2,426.5 436.0,453.0 455.3,464.6" fill="none" stroke="#fff" stroke-width="1.9" stroke-linejoin="round"/>
<polyline points="100.0,377.5 117.0,382.5 132.0,387.5 142.0,392.5 143.2,402.5 139.5,412.5 129.5,420.0 114.5,422.5 100.0,423.8" fill="none" stroke="#fff" stroke-width="1.9" stroke-linejoin="round"/>
<polyline points="100.0,430.0 122.0,430.0 139.5,437.5 142.0,445.0 152.0,457.5 164.5,470.0 177.0,482.5 184.5,492.5 184.0,514.0 182.8,533.7 194.7,549.1 200.3,554.7 183.5,573.0 186.3,595.5 200.3,615.1 213.0,634.0" fill="none" stroke="#fff" stroke-width="1.9" stroke-linejoin="round"/>
<polyline points="242.0,476.0 259.8,470.8 267.4,475.8 265.8,480.0 264.1,490.1 259.1,500.3 250.6,508.7 240.5,516.3 221.9,520.5 216.0,515.4 220.3,510.4 230.4,501.9 238.0,493.5 240.5,480.0 242.0,476.0" fill="none" stroke="#fff" stroke-width="1.9" stroke-linejoin="round"/>
<polyline points="455.3,464.6 437.3,468.2 432.2,463.2 424.6,454.3 427.1,441.6 429.7,429.0 427.1,416.3 418.3,410.0 412.0,410.0 396.8,416.3 389.2,435.3 393.0,448.0 394.2,467.0 393.6,493.5 398.0,498.6 406.9,503.7 418.3,508.7 427.1,517.0 439.9,522.4 455.7,533.7 466.6,542.1 475.1,547.7 484.9,554.7 496.1,564.6 514.4,574.4 493.3,587.0 456.0,585.6 445.5,589.8 437.9,614.1 423.1,622.2 416.1,623.6 409.0,612.3 396.4,606.7 388.0,595.5 378.1,585.6 369.7,575.8 350.0,566.0 336.0,560.3 318.1,549.2 301.3,544.1 284.4,539.9 274.3,540.8 260.8,544.1 255.7,550.9 254.5,563.2 258.7,574.4 267.2,584.2 275.6,595.5 283.0,614.1 293.8,620.7 307.9,634.0" fill="none" stroke="#fff" stroke-width="1.9" stroke-linejoin="round"/>
<polyline points="593.0,402.4 605.5,416.3 592.9,429.6 582.8,416.3 593.0,402.4" fill="none" stroke="#fff" stroke-width="1.9" stroke-linejoin="round"/>
<rect x="184.9" y="267.0" width="29.5" height="23.5" fill="none" stroke="#fff" stroke-width="1"/>
<text x="199.8" y="286.5" text-anchor="middle" textLength="23.5" lengthAdjust="spacingAndGlyphs" style="font-size:21.5px;fill:#fff;stroke:#fff;stroke-width:0.5">80</text>
<rect x="291.4" y="209.6" width="29.5" height="23.5" fill="none" stroke="#fff" stroke-width="1"/>
<text x="306.3" y="229.1" text-anchor="middle" textLength="23.5" lengthAdjust="spacingAndGlyphs" style="font-size:21.5px;fill:#fff;stroke:#fff;stroke-width:0.5">80</text>
<rect x="480.1" y="292.8" width="29.5" height="23.5" fill="none" stroke="#fff" stroke-width="1"/>
<text x="495.0" y="312.3" text-anchor="middle" textLength="23.5" lengthAdjust="spacingAndGlyphs" style="font-size:21.5px;fill:#fff;stroke:#fff;stroke-width:0.5">80</text>
<rect x="558.8" y="372.5" width="29.5" height="23.5" fill="none" stroke="#fff" stroke-width="1"/>
<text x="573.7" y="392.0" text-anchor="middle" textLength="23.5" lengthAdjust="spacingAndGlyphs" style="font-size:21.5px;fill:#fff;stroke:#fff;stroke-width:0.5">80</text>
<rect x="707.0" y="347.2" width="29.5" height="23.5" fill="none" stroke="#fff" stroke-width="1"/>
<text x="721.9" y="366.7" text-anchor="middle" textLength="23.5" lengthAdjust="spacingAndGlyphs" style="font-size:21.5px;fill:#fff;stroke:#fff;stroke-width:0.5">80</text>
<rect x="440.7" y="453.4" width="29.5" height="23.5" fill="none" stroke="#fff" stroke-width="1"/>
<text x="455.6" y="472.9" text-anchor="middle" textLength="23.5" lengthAdjust="spacingAndGlyphs" style="font-size:21.5px;fill:#fff;stroke:#fff;stroke-width:0.5">80</text>
<rect x="641.3" y="425.4" width="29.5" height="23.5" fill="none" stroke="#fff" stroke-width="1"/>
<text x="656.2" y="444.9" text-anchor="middle" textLength="23.5" lengthAdjust="spacingAndGlyphs" style="font-size:21.5px;fill:#fff;stroke:#fff;stroke-width:0.5">80</text>
<rect x="872.8" y="465.7" width="29.5" height="23.5" fill="none" stroke="#fff" stroke-width="1"/>
<text x="887.7" y="485.2" text-anchor="middle" textLength="23.5" lengthAdjust="spacingAndGlyphs" style="font-size:21.5px;fill:#fff;stroke:#fff;stroke-width:0.5">80</text>
<rect x="441.1" y="522.5" width="29.5" height="23.5" fill="none" stroke="#fff" stroke-width="1"/>
<text x="456.0" y="542.0" text-anchor="middle" textLength="23.5" lengthAdjust="spacingAndGlyphs" style="font-size:21.5px;fill:#fff;stroke:#fff;stroke-width:0.5">80</text>
<rect x="423.3" y="602.9" width="29.5" height="23.5" fill="none" stroke="#fff" stroke-width="1"/>
<text x="438.2" y="622.4" text-anchor="middle" textLength="23.5" lengthAdjust="spacingAndGlyphs" style="font-size:21.5px;fill:#fff;stroke:#fff;stroke-width:0.5">80</text>
<rect x="268.4" y="602.9" width="29.5" height="23.5" fill="none" stroke="#fff" stroke-width="1"/>
<text x="283.3" y="622.4" text-anchor="middle" textLength="23.5" lengthAdjust="spacingAndGlyphs" style="font-size:21.5px;fill:#fff;stroke:#fff;stroke-width:0.5">80</text>
<polyline points="95.0,296.0 98.5,295.3 102.0,295.4 105.3,294.2 108.8,294.6 111.4,294.5 113.7,292.8 116.4,293.4 118.9,292.9 122.3,290.4 123.1,287.0 127.3,285.7 129.9,286.1 132.4,287.0 135.1,287.3 136.9,289.3 139.1,290.4 142.4,289.2 145.9,290.0 149.3,290.5 152.6,291.2 155.0,290.0 157.6,289.8 160.2,290.4 160.9,287.8 161.9,285.3 163.2,282.6 162.2,279.5 163.6,276.9 165.3,276.0 167.0,280.3 171.2,281.1 174.6,284.5 177.1,281.1 179.9,279.9 183.0,279.9 185.6,279.9 188.1,279.4 189.8,277.7 188.9,281.9 189.8,285.3 194.0,286.2 198.2,287.0 199.9,290.4 198.5,293.6 199.0,297.1 199.1,299.7 199.7,302.2 198.6,304.8 199.9,307.3 201.7,309.5 200.9,312.6 202.9,314.7 203.3,317.4 206.9,317.9 210.0,319.9 212.5,319.1 215.1,319.5 217.6,320.6 220.1,319.9 222.5,318.8 225.2,319.2 227.8,318.9 230.3,318.2 233.6,317.1 237.0,316.5 240.4,315.8 243.8,314.9 246.9,313.1 250.5,313.2 253.6,311.0 257.3,310.6 262.0,309.8 266.9,310.5 268.7,312.8 269.4,315.6 272.4,315.3 275.3,314.2 278.1,314.0 281.0,313.8 283.8,314.2 286.6,314.0 289.4,313.3 292.2,313.0 295.0,312.6 297.8,313.6 300.6,313.0 304.2,312.0 307.4,310.2 309.8,309.2 312.5,309.5 315.0,309.0 317.5,308.5 320.5,308.6 323.3,307.5 326.0,306.3 328.7,305.3 331.8,306.2 334.4,304.6 337.3,303.0 340.6,302.8 343.7,302.1 346.6,303.1 349.6,302.9 352.1,302.1 354.6,302.9 356.3,307.1 358.0,309.6 359.7,312.2 362.6,313.1 364.0,315.9 366.5,317.3 369.7,318.7 373.2,318.9 374.3,321.5 375.7,324.0 378.8,324.8 381.9,323.6 385.0,324.0 388.0,323.3 390.7,321.9 393.5,320.6 396.8,320.0 400.0,319.1 402.8,317.9 405.9,317.5 408.4,315.7 411.1,314.8 412.6,312.3 415.0,310.9 416.9,308.9 419.2,306.5 422.7,306.2 425.3,304.2 428.2,303.6 431.3,303.4 433.8,301.4 436.6,300.8 438.6,298.4 441.3,297.4 443.9,296.3 446.6,295.6 448.5,293.2 451.4,293.1 454.0,292.1 456.2,290.4 458.7,289.2 461.2,288.0 464.1,287.8 466.6,287.2 468.3,284.9 470.9,284.5 475.1,281.9 478.3,282.7 481.0,284.5 483.9,284.8 486.5,286.4 489.5,286.2 492.2,285.0 495.1,285.5 497.9,285.3 501.3,284.6 504.6,283.6 508.2,283.6 511.4,281.9 514.9,281.8 518.1,280.3 521.0,281.1 524.0,280.3 524.5,282.8 524.0,285.3 522.9,287.9 521.5,290.4 520.1,292.8 517.5,294.4 516.5,297.1 513.3,298.5 511.4,301.4 508.9,305.6 507.7,306.8 508.3,309.4 508.0,311.9 507.7,314.4 506.9,316.9 507.9,320.2 507.7,323.6 509.8,325.3 511.9,327.0 512.2,330.4 512.8,333.8 514.9,336.0 516.2,338.8 515.7,341.6 513.5,343.4 511.9,345.6 509.6,348.3 506.9,350.6 507.6,354.0 508.6,357.4 508.9,361.1 511.1,364.1 509.5,367.4 508.6,370.9 509.4,373.5 510.3,376.0 511.7,378.6 513.6,381.0 515.0,383.8 517.0,386.1 519.2,389.1 519.5,392.8 520.4,396.2 523.6,397.5 527.1,397.0 529.6,397.8 532.1,398.3 534.7,398.3 537.3,397.9 539.9,398.3 542.4,398.9 545.1,398.9 547.4,400.4 550.1,401.3 553.2,400.6 555.8,402.1 559.2,399.6 560.1,396.5 562.6,394.5 563.2,390.9 565.1,387.8 565.8,384.6 567.6,382.0 569.3,379.3 571.2,376.1 574.4,374.3 577.5,372.4 581.1,372.6 583.1,369.5 586.2,367.5 586.6,364.9 588.2,362.9 589.6,360.8 588.6,358.2 589.6,355.7 592.4,355.6 594.6,354.0 598.0,357.4 601.4,357.7 604.8,357.4 608.0,355.8 611.5,355.7 612.7,352.8 614.9,350.6 615.4,348.0 616.6,345.6 619.9,344.5 623.3,343.9 626.4,341.9 630.1,341.4 633.0,340.8 635.1,338.8 636.6,336.5 636.0,333.8 637.2,331.2 638.5,328.7 641.0,326.6 643.6,324.5 646.7,323.1 650.0,323.6 653.5,321.3 655.7,319.2 658.6,318.7 660.6,321.5 661.9,324.6 665.4,324.9 668.7,326.3 672.4,325.3 675.4,323.0 677.6,321.0 680.5,320.4 683.0,321.8 683.9,324.6 682.5,327.9 683.0,331.4 685.5,332.6 688.4,333.0 690.6,334.8 693.4,334.9 696.3,333.8 699.1,334.8 701.9,333.4 705.2,332.9 707.5,330.5 709.8,329.1 711.2,327.0 712.2,324.4 714.3,322.9 714.0,320.4 714.3,317.9 716.2,316.1 719.0,316.2 721.0,314.5 722.2,312.3 723.8,310.3 724.4,307.8 725.3,304.3 726.9,301.0 726.6,298.1 728.2,295.5 727.8,292.6 730.3,290.6 731.1,287.5 733.4,285.4 734.5,282.4 737.9,283.1 741.3,282.4 743.9,281.6 746.0,280.0 748.0,278.2 749.2,275.7 751.4,274.0 752.3,271.5 753.1,268.9 751.9,265.6 751.4,262.2 753.5,260.0 756.5,259.7 758.8,258.2 761.5,258.8 764.0,257.9 766.6,258.0 767.1,260.5 766.2,263.1 766.6,265.6 764.6,267.4 764.4,270.1 763.2,272.3 760.0,274.2 758.1,277.4 755.0,278.2 753.1,280.8 749.8,282.6 748.0,285.8 747.4,288.4 746.3,290.9 748.0,293.5 749.1,296.3 749.7,299.3 751.5,301.9 752.6,304.7 753.1,307.8 753.7,311.2 754.8,314.5 753.1,317.7 753.1,321.3 755.1,324.3 758.1,326.3 761.0,327.4 763.6,328.9 766.6,329.7 769.3,329.5 771.6,328.0 775.0,324.6 776.7,327.8 776.7,331.4 774.5,333.0 772.1,334.4 770.7,336.9 767.6,337.7 764.9,339.2 762.3,341.1 762.1,343.7 762.5,346.4 760.8,348.9 761.2,351.6 762.6,354.1 762.7,357.1 763.4,359.9 765.4,362.2 765.4,364.8 765.2,367.3 763.8,369.7 764.1,372.3 764.4,374.9 763.4,378.4 761.2,381.2 763.0,384.1 763.3,387.5 762.6,390.0 759.9,391.3 758.8,393.5 758.0,396.0 757.7,398.9 755.2,401.0 753.9,403.5 753.8,406.5 752.8,409.2 752.7,412.2 751.7,414.9 750.5,418.1 749.6,421.3 746.7,423.1 743.3,423.4 741.8,425.7 738.5,425.3 737.0,427.6 734.7,428.7 732.7,430.4 730.6,431.8 727.5,432.0 725.1,434.1 722.2,435.0 719.1,435.3 716.4,436.4 713.8,438.1 712.0,440.1 709.8,441.4 707.4,442.4 704.5,444.4 701.1,445.5 698.4,446.4 695.5,446.0 692.7,446.6 691.1,443.6 690.5,440.3 688.3,438.3 686.3,436.0 683.1,436.5 680.1,434.5 676.9,435.1 674.4,436.1 671.7,436.5 669.0,436.9 666.4,437.7 663.6,437.1 661.1,438.5 658.3,437.8 655.8,439.0 653.2,437.7 650.6,436.3 647.9,435.0 645.3,433.7 642.5,434.4 640.0,433.2 637.3,433.4 634.7,432.4 632.3,434.1 629.2,433.1 626.9,435.1 624.1,435.1 621.5,435.8 618.7,435.9 616.2,436.9 613.6,437.7 611.1,439.4 608.3,440.3 605.6,441.6 603.0,443.0 600.2,443.4 598.1,445.8 595.1,445.8 592.5,446.9 590.1,448.7 587.4,450.0 584.3,450.3 581.9,452.2 579.3,453.8 576.6,455.4 573.7,456.7 571.4,458.8 568.4,459.0 566.1,460.9 563.4,461.6 560.8,462.8 558.2,463.1 555.5,463.4 552.9,463.4 550.3,464.1 547.6,463.9 545.0,463.4 542.3,463.2 539.7,462.8 537.2,461.5 534.5,461.7 531.9,461.0 529.2,461.5 526.7,460.2 523.8,461.3 521.3,460.3 518.6,460.1 515.8,459.5 513.2,460.1 510.8,461.9 508.0,461.5 505.7,463.3 502.8,463.6 500.5,465.3 497.5,465.4 495.0,466.5 492.4,467.4 489.5,466.6 486.8,466.9 484.3,468.0 481.5,467.7 479.2,469.8 476.3,469.2 473.7,469.8 471.1,470.7 468.7,472.4 465.6,471.9 462.9,472.7 460.6,474.6 458.7,476.5 455.5,476.6 453.8,478.8 450.9,480.1 447.9,481.0 445.0,482.1 441.8,481.8 438.9,482.9 436.1,484.3 433.1,486.6 429.4,487.6 426.5,488.1 423.5,488.3 420.6,488.7 417.8,488.8 415.0,488.8 412.2,488.3 409.5,487.6 406.4,487.9 403.8,490.1 400.6,489.8 397.6,490.5 394.8,491.5 391.8,492.1 388.5,492.1 385.8,490.5 382.9,489.2 380.1,489.1 377.3,489.5 374.6,490.6 371.8,489.8 368.0,490.6 365.2,493.2 362.0,493.7 358.9,494.4 356.3,496.5 353.7,497.9 350.9,498.1 348.2,499.1 345.3,498.7 342.5,498.4 339.8,499.8 337.1,500.3 334.2,499.8 332.1,502.1 329.8,504.2 328.6,508.7 325.3,510.2 323.1,513.1 320.1,513.3 317.7,515.3 315.0,516.3 312.0,516.4 309.0,516.4 306.5,518.0 303.6,518.5 301.0,519.8 298.3,521.7 295.4,522.9 292.1,523.1 289.4,522.9 286.8,523.7 284.2,524.7 281.4,523.0 278.8,524.2 276.0,524.5 273.1,524.6 270.7,526.7 267.7,526.4 264.4,527.2 262.3,530.2 258.9,530.8 255.9,532.3 253.9,535.0 250.5,537.5 248.0,538.1 245.5,538.4 242.6,538.2 239.9,537.2 237.0,536.7 234.1,536.0 231.4,537.7 228.6,537.5 226.1,539.6 222.9,540.2 220.1,541.7 217.5,543.4 214.8,544.8 211.7,545.1 209.0,546.1 206.2,546.7 203.3,546.0 200.1,547.4 196.5,547.6 193.1,550.2 189.7,550.2 186.4,549.3 183.7,550.6 180.6,550.5 178.0,551.9 175.2,552.6 172.3,552.4 169.5,552.7 166.7,553.4 163.9,553.0 161.1,552.7 158.2,553.5 155.4,552.7 152.6,551.9 149.6,552.6 147.1,550.6 144.2,550.7 141.4,551.0 138.7,552.2 135.8,551.9 132.4,552.8 129.0,553.5 125.8,554.9 123.9,557.8 122.3,562.0 119.8,562.9 117.2,562.0 114.3,561.6 111.6,562.7 108.8,562.8 105.4,563.7 102.0,564.5 98.4,564.0 95.0,565.0" fill="none" stroke="#000" stroke-width="2.2" stroke-linejoin="round" shape-rendering="crispEdges"/>
<polygon points="510.1,303.8 512.4,304.5 514.6,305.5 516.9,306.3 518.8,308.3 521.1,309.7 520.6,312.8 521.9,315.6 523.5,318.0 524.5,320.6 524.2,322.9 524.7,325.2 525.3,327.4 523.5,328.5 521.9,329.9 520.1,327.9 518.6,325.7 517.2,324.2 515.7,322.7 515.2,320.6 513.7,318.6 512.8,316.4 512.7,313.9 512.3,311.2 511.0,308.8 510.1,306.4 510.1,303.8" fill="none" stroke="#000" stroke-width="2.2" stroke-linejoin="round" shape-rendering="crispEdges"/>
<polygon points="514.5,354.5 518.0,356.0 518.4,358.1 517.5,360.0 514.5,361.0 513.8,358.8 515.1,356.7 514.5,354.5" fill="none" stroke="#000" stroke-width="2.2" stroke-linejoin="round" shape-rendering="crispEdges"/>
<polygon points="258.4,245.8 260.3,248.4 262.5,247.6 264.0,245.8 267.2,244.6 269.3,243.2 271.0,241.4 273.5,243.0 275.4,245.2 277.3,245.9 279.0,247.0 280.5,248.4 283.1,249.3 285.6,250.3 285.6,252.8 283.7,254.7 283.7,258.5 284.1,260.9 283.3,263.1 283.0,265.4 280.5,262.3 277.8,262.1 275.4,261.0 273.0,259.9 270.4,260.4 268.0,259.2 265.3,259.7 262.8,259.3 260.3,259.1 257.1,257.2 257.1,254.7 260.3,252.8 262.8,250.3 260.9,248.4 258.4,245.8" fill="none" stroke="#000" stroke-width="2.2" stroke-linejoin="round" shape-rendering="crispEdges"/>
<polygon points="517.2,533.7 519.2,532.6 521.4,532.3 523.6,533.6 526.1,532.9 528.4,533.7 530.7,533.2 533.0,532.3 535.5,533.0 537.5,531.8 539.7,530.9 540.4,533.0 541.1,535.1 538.3,536.1 535.5,537.2 533.8,538.4 531.7,538.6 529.8,539.3 527.0,541.4 524.0,541.6 521.4,540.0 517.9,538.6 517.2,536.5 517.2,533.7" fill="none" stroke="#000" stroke-width="2.2" stroke-linejoin="round" shape-rendering="crispEdges"/>
<polygon points="697.4,247.0 699.4,248.4 700.8,250.4 703.1,249.9 705.3,250.8 707.5,251.2 708.9,253.6 709.5,256.1 709.2,258.8 708.4,260.7 707.3,262.5 705.8,263.9 703.8,264.1 701.8,264.5 699.7,264.5 697.7,265.0 695.7,265.6 695.2,262.9 694.0,260.5 696.1,259.9 697.3,258.1 699.1,257.1 698.3,254.7 698.2,252.1 698.7,249.4 697.4,247.0" fill="none" stroke="#000" stroke-width="2.2" stroke-linejoin="round" shape-rendering="crispEdges"/>
<polygon points="776.0,278.0 778.6,277.9 781.0,279.0 782.8,280.8 785.0,282.0 784.2,283.9 784.0,286.0 781.9,286.5 780.1,284.7 778.0,285.0 777.0,283.0 775.0,282.0 775.7,280.1 776.0,278.0" fill="none" stroke="#000" stroke-width="2.2" stroke-linejoin="round" shape-rendering="crispEdges"/>
<polygon points="570.0,352.0 572.6,351.7 575.0,350.6 577.0,352.3 579.5,353.0 579.4,355.7 578.0,358.0 576.0,360.2 574.0,362.4 571.7,361.2 569.3,360.0 570.1,358.1 570.2,356.0 570.4,354.1 570.0,352.0" fill="none" stroke="#000" stroke-width="2.2" stroke-linejoin="round" shape-rendering="crispEdges"/>
<polygon points="710.3,464.4 712.8,465.7 712.3,468.2 712.2,470.8 714.9,472.1 717.8,472.0 720.2,473.6 722.9,474.6 721.9,476.4 721.6,478.4 720.2,480.1 718.8,481.6 716.6,482.2 715.8,484.5 714.0,486.0 712.8,489.1 711.7,487.3 710.5,485.6 710.3,483.4 710.5,481.2 709.5,479.2 709.0,477.1 708.8,474.5 708.4,472.0 707.7,469.5 709.3,467.1 710.3,464.4" fill="none" stroke="#000" stroke-width="2.2" stroke-linejoin="round" shape-rendering="crispEdges"/>
<line x1="765" y1="325" x2="771" y2="316" stroke="#000" stroke-width="3"/>
<circle cx="698.2" cy="235.2" r="1.6" fill="#000"/>
<circle cx="743.0" cy="271.5" r="1.6" fill="#000"/>
<circle cx="745.5" cy="275.7" r="1.6" fill="#000"/>
<circle cx="543.9" cy="532.3" r="1.6" fill="#000"/>
<circle cx="298.2" cy="257.0" r="1.6" fill="#000"/>
<circle cx="418.0" cy="147.0" r="1.6" fill="#000"/>
</g>
<rect x="102" y="102" width="844.5" height="530" fill="none" stroke="#000" stroke-width="2"/>
<line x1="86" y1="154.9" x2="102" y2="154.9" stroke="#000" stroke-width="1.8"/>
<text x="73" y="162.1" text-anchor="end" textLength="73" lengthAdjust="spacing" style="font-size:19px;font-weight:bold">35°40'N</text>
<line x1="86" y1="246.6" x2="102" y2="246.6" stroke="#000" stroke-width="1.8"/>
<text x="73" y="253.8" text-anchor="end" textLength="73" lengthAdjust="spacing" style="font-size:19px;font-weight:bold">35°30'N</text>
<line x1="86" y1="338.2" x2="102" y2="338.2" stroke="#000" stroke-width="1.8"/>
<text x="73" y="345.4" text-anchor="end" textLength="73" lengthAdjust="spacing" style="font-size:19px;font-weight:bold">35°20'N</text>
<line x1="86" y1="429.8" x2="102" y2="429.8" stroke="#000" stroke-width="1.8"/>
<text x="73" y="437.0" text-anchor="end" textLength="73" lengthAdjust="spacing" style="font-size:19px;font-weight:bold">35°10'N</text>
<line x1="86" y1="521.4" x2="102" y2="521.4" stroke="#000" stroke-width="1.8"/>
<text x="73" y="528.6" text-anchor="end" style="font-size:19px;font-weight:bold">35°N</text>
<line x1="86" y1="613.0" x2="102" y2="613.0" stroke="#000" stroke-width="1.8"/>
<text x="73" y="620.2" text-anchor="end" textLength="73" lengthAdjust="spacing" style="font-size:19px;font-weight:bold">34°50'N</text>
<line x1="221.8" y1="632" x2="221.8" y2="648" stroke="#000" stroke-width="1.8"/>
<text x="221.8" y="678.3" text-anchor="middle" style="font-size:19.4px;font-weight:bold">25°E</text>
<line x1="372.9" y1="632" x2="372.9" y2="648" stroke="#000" stroke-width="1.8"/>
<text x="372.9" y="678.3" text-anchor="middle" textLength="72" lengthAdjust="spacing" style="font-size:19.4px;font-weight:bold">25°20'E</text>
<line x1="524.0" y1="632" x2="524.0" y2="648" stroke="#000" stroke-width="1.8"/>
<text x="524.0" y="678.3" text-anchor="middle" textLength="72" lengthAdjust="spacing" style="font-size:19.4px;font-weight:bold">25°40'E</text>
<line x1="675.1" y1="632" x2="675.1" y2="648" stroke="#000" stroke-width="1.8"/>
<text x="675.1" y="678.3" text-anchor="middle" style="font-size:19.4px;font-weight:bold">26°E</text>
<line x1="826.2" y1="632" x2="826.2" y2="648" stroke="#000" stroke-width="1.8"/>
<text x="826.2" y="678.3" text-anchor="middle" textLength="72" lengthAdjust="spacing" style="font-size:19.4px;font-weight:bold">26°20'E</text>
<text x="107" y="53.3" textLength="314" lengthAdjust="spacingAndGlyphs" style="font-size:13.8px;font-weight:bold">Wind Speed [m/s] and RH [&gt;80 %] at 500 m height</text>
<text x="107" y="68.8" textLength="86.6" lengthAdjust="spacingAndGlyphs" style="font-size:13.8px;font-weight:bold" xml:space="preserve">Wind   (m s-1)</text>
<text x="107" y="84.2" textLength="141.4" lengthAdjust="spacingAndGlyphs" style="font-size:13.8px;font-weight:bold" xml:space="preserve">Relative Humidity   (%)</text>
<text x="775.5" y="10.3" textLength="171" lengthAdjust="spacingAndGlyphs" style="font-size:14.3px;font-weight:bold">Valid: 2014-07-12_17:00:00</text>
<text x="525.5" y="780" text-anchor="middle" style="font-size:19.4px;font-weight:bold">Wind Speed [m/s] and RH [&gt;80 %] at 500 m height</text>
<rect x="254.20" y="789.2" width="24.55" height="28.2" fill="#7B1FE8" stroke="#000" stroke-width="1.3"/>
<rect x="278.75" y="789.2" width="24.55" height="28.2" fill="#3010F8" stroke="#000" stroke-width="1.3"/>
<rect x="303.30" y="789.2" width="24.55" height="28.2" fill="#1020F0" stroke="#000" stroke-width="1.3"/>
<rect x="327.85" y="789.2" width="24.55" height="28.2" fill="#3858E0" stroke="#000" stroke-width="1.3"/>
<rect x="352.40" y="789.2" width="24.55" height="28.2" fill="#3870E0" stroke="#000" stroke-width="1.3"/>
<rect x="376.95" y="789.2" width="24.55" height="28.2" fill="#2088F0" stroke="#000" stroke-width="1.3"/>
<rect x="401.50" y="789.2" width="24.55" height="28.2" fill="#10A0FF" stroke="#000" stroke-width="1.3"/>
<rect x="426.05" y="789.2" width="24.55" height="28.2" fill="#10C0F8" stroke="#000" stroke-width="1.3"/>
<rect x="450.60" y="789.2" width="24.55" height="28.2" fill="#60C0F0" stroke="#000" stroke-width="1.3"/>
<rect x="475.15" y="789.2" width="24.55" height="28.2" fill="#98D0F0" stroke="#000" stroke-width="1.3"/>
<rect x="499.70" y="789.2" width="24.55" height="28.2" fill="#C0E4F8" stroke="#000" stroke-width="1.3"/>
<rect x="524.25" y="789.2" width="24.55" height="28.2" fill="#FFF8A0" stroke="#000" stroke-width="1.3"/>
<rect x="548.80" y="789.2" width="24.55" height="28.2" fill="#FFE040" stroke="#000" stroke-width="1.3"/>
<rect x="573.35" y="789.2" width="24.55" height="28.2" fill="#FFC820" stroke="#000" stroke-width="1.3"/>
<rect x="597.90" y="789.2" width="24.55" height="28.2" fill="#FFA800" stroke="#000" stroke-width="1.3"/>
<rect x="622.45" y="789.2" width="24.55" height="28.2" fill="#FF8800" stroke="#000" stroke-width="1.3"/>
<rect x="647.00" y="789.2" width="24.55" height="28.2" fill="#FF6410" stroke="#000" stroke-width="1.3"/>
<rect x="671.55" y="789.2" width="24.55" height="28.2" fill="#FF2800" stroke="#000" stroke-width="1.3"/>
<rect x="696.10" y="789.2" width="24.55" height="28.2" fill="#EE0000" stroke="#000" stroke-width="1.3"/>
<rect x="720.65" y="789.2" width="24.55" height="28.2" fill="#CC0000" stroke="#000" stroke-width="1.3"/>
<rect x="745.20" y="789.2" width="24.55" height="28.2" fill="#E04848" stroke="#000" stroke-width="1.3"/>
<rect x="769.75" y="789.2" width="24.55" height="28.2" fill="#FFB0B0" stroke="#000" stroke-width="1.3"/>
<text x="278.8" y="853.8" text-anchor="middle" style="font-size:19.4px;font-weight:bold">0</text>
<text x="327.9" y="853.8" text-anchor="middle" style="font-size:19.4px;font-weight:bold">2</text>
<text x="376.9" y="853.8" text-anchor="middle" style="font-size:19.4px;font-weight:bold">4</text>
<text x="426.0" y="853.8" text-anchor="middle" style="font-size:19.4px;font-weight:bold">6</text>
<text x="475.1" y="853.8" text-anchor="middle" style="font-size:19.4px;font-weight:bold">8</text>
<text x="524.2" y="853.8" text-anchor="middle" style="font-size:19.4px;font-weight:bold">10</text>
<text x="573.4" y="853.8" text-anchor="middle" style="font-size:19.4px;font-weight:bold">12</text>
<text x="622.5" y="853.8" text-anchor="middle" style="font-size:19.4px;font-weight:bold">14</text>
<text x="671.5" y="853.8" text-anchor="middle" style="font-size:19.4px;font-weight:bold">16</text>
<text x="720.6" y="853.8" text-anchor="middle" style="font-size:19.4px;font-weight:bold">18</text>
<text x="769.8" y="853.8" text-anchor="middle" style="font-size:19.4px;font-weight:bold">20</text>
</svg></body></html>
